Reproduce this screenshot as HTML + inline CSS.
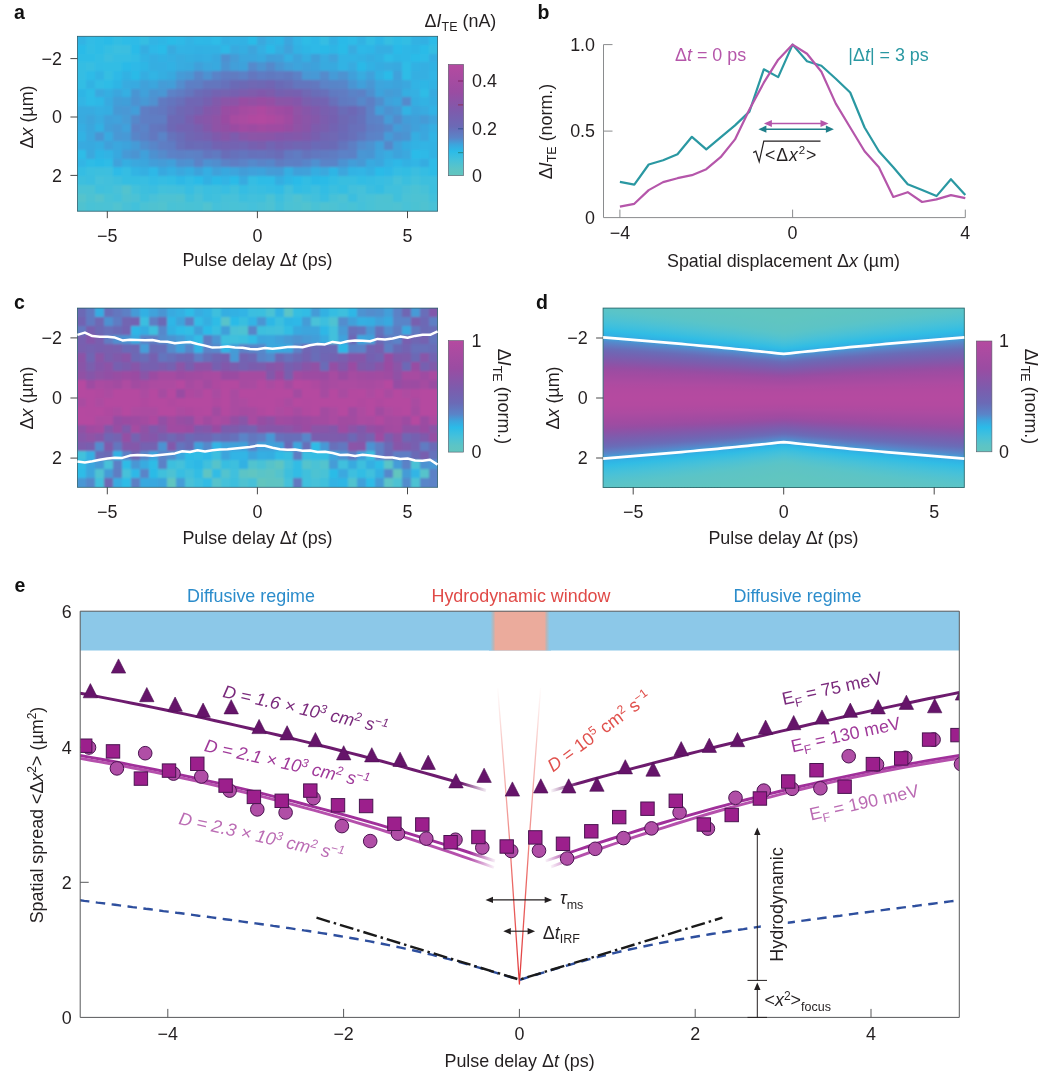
<!DOCTYPE html><html><head><meta charset="utf-8"><title>Figure</title>
<style>html,body{margin:0;padding:0;background:#fff}svg{display:block}text{font-family:"Liberation Sans", Arial, Helvetica, sans-serif}</style></head><body>
<svg width="1060" height="1081" viewBox="0 0 1060 1081">
<defs><linearGradient id="cm" x1="0" y1="1" x2="0" y2="0"><stop offset="0.00" stop-color="#62c5be"/><stop offset="0.06" stop-color="#5cc4c6"/><stop offset="0.14" stop-color="#45c1da"/><stop offset="0.22" stop-color="#2bbbe8"/><stop offset="0.28" stop-color="#3ca5dd"/><stop offset="0.34" stop-color="#5a84c8"/><stop offset="0.44" stop-color="#6b6ab6"/><stop offset="0.57" stop-color="#7c5cad"/><stop offset="0.75" stop-color="#9a4ca2"/><stop offset="1.00" stop-color="#b54aa0"/></linearGradient>
<filter id="blur" x="-5%" y="-5%" width="110%" height="110%"><feGaussianBlur stdDeviation="1.1"/></filter>
<linearGradient id="fadeL" x1="0" x2="1"><stop offset="0" stop-color="#6b1a6b" stop-opacity="1"/><stop offset="1" stop-color="#6b1a6b" stop-opacity="0"/></linearGradient>
</defs>
<rect width="1060" height="1081" fill="#fff"/>
<clipPath id="hc1"><rect x="77.40" y="36.30" width="360.20" height="174.90"/></clipPath><g clip-path="url(#hc1)"><g filter="url(#blur)"><g shape-rendering="crispEdges"><rect x="73.35" y="32.25" width="13.60" height="13.35" fill="#31b4e4"/><rect x="86.36" y="32.25" width="9.60" height="13.35" fill="#31bce5"/><rect x="95.36" y="32.25" width="9.60" height="13.35" fill="#2fbce6"/><rect x="104.37" y="32.25" width="9.60" height="13.35" fill="#2cbbe7"/><rect x="113.37" y="32.25" width="9.60" height="13.35" fill="#33bde4"/><rect x="122.38" y="32.25" width="9.60" height="13.35" fill="#2dbce7"/><rect x="131.38" y="32.25" width="9.60" height="13.35" fill="#2dbbe7"/><rect x="140.38" y="32.25" width="9.60" height="13.35" fill="#36bde2"/><rect x="149.39" y="32.25" width="9.60" height="13.35" fill="#31b4e4"/><rect x="158.39" y="32.25" width="9.60" height="13.35" fill="#2fb6e5"/><rect x="167.40" y="32.25" width="9.60" height="13.35" fill="#2cbbe7"/><rect x="176.40" y="32.25" width="9.60" height="13.35" fill="#2db9e7"/><rect x="185.41" y="32.25" width="9.60" height="13.35" fill="#31b3e4"/><rect x="194.41" y="32.25" width="9.60" height="13.35" fill="#2eb8e6"/><rect x="203.42" y="32.25" width="9.60" height="13.35" fill="#2eb7e6"/><rect x="212.42" y="32.25" width="9.60" height="13.35" fill="#2ebce7"/><rect x="221.43" y="32.25" width="9.60" height="13.35" fill="#33b0e3"/><rect x="230.43" y="32.25" width="9.60" height="13.35" fill="#32b2e4"/><rect x="239.44" y="32.25" width="9.60" height="13.35" fill="#33b1e3"/><rect x="248.44" y="32.25" width="9.60" height="13.35" fill="#2cbbe7"/><rect x="257.45" y="32.25" width="9.60" height="13.35" fill="#3aa8de"/><rect x="266.45" y="32.25" width="9.60" height="13.35" fill="#32b2e3"/><rect x="275.46" y="32.25" width="9.60" height="13.35" fill="#2fb6e5"/><rect x="284.46" y="32.25" width="9.60" height="13.35" fill="#3ba6de"/><rect x="293.47" y="32.25" width="9.60" height="13.35" fill="#30b4e5"/><rect x="302.47" y="32.25" width="9.60" height="13.35" fill="#2ebce6"/><rect x="311.48" y="32.25" width="9.60" height="13.35" fill="#2db8e7"/><rect x="320.48" y="32.25" width="9.60" height="13.35" fill="#34bde3"/><rect x="329.49" y="32.25" width="9.60" height="13.35" fill="#33b0e3"/><rect x="338.49" y="32.25" width="9.60" height="13.35" fill="#2cbae8"/><rect x="347.50" y="32.25" width="9.60" height="13.35" fill="#2dbbe7"/><rect x="356.50" y="32.25" width="9.60" height="13.35" fill="#32b2e3"/><rect x="365.51" y="32.25" width="9.60" height="13.35" fill="#33bde4"/><rect x="374.51" y="32.25" width="9.60" height="13.35" fill="#2fb6e6"/><rect x="383.52" y="32.25" width="9.60" height="13.35" fill="#36bee2"/><rect x="392.52" y="32.25" width="9.60" height="13.35" fill="#2fbce6"/><rect x="401.53" y="32.25" width="9.60" height="13.35" fill="#32bde4"/><rect x="410.53" y="32.25" width="9.60" height="13.35" fill="#32b2e3"/><rect x="419.54" y="32.25" width="9.60" height="13.35" fill="#33b0e3"/><rect x="428.54" y="32.25" width="13.60" height="13.35" fill="#2ebce7"/><rect x="73.35" y="45.00" width="13.60" height="9.35" fill="#2cbbe8"/><rect x="86.36" y="45.00" width="9.60" height="9.35" fill="#33bde4"/><rect x="95.36" y="45.00" width="9.60" height="9.35" fill="#2ebce6"/><rect x="104.37" y="45.00" width="9.60" height="9.35" fill="#36bee2"/><rect x="113.37" y="45.00" width="9.60" height="9.35" fill="#3bbfe0"/><rect x="122.38" y="45.00" width="9.60" height="9.35" fill="#3abee0"/><rect x="131.38" y="45.00" width="9.60" height="9.35" fill="#2bbbe8"/><rect x="140.38" y="45.00" width="9.60" height="9.35" fill="#36ade1"/><rect x="149.39" y="45.00" width="9.60" height="9.35" fill="#2db8e7"/><rect x="158.39" y="45.00" width="9.60" height="9.35" fill="#2bbbe8"/><rect x="167.40" y="45.00" width="9.60" height="9.35" fill="#39aadf"/><rect x="176.40" y="45.00" width="9.60" height="9.35" fill="#31b3e4"/><rect x="185.41" y="45.00" width="9.60" height="9.35" fill="#32b2e4"/><rect x="194.41" y="45.00" width="9.60" height="9.35" fill="#33b0e3"/><rect x="203.42" y="45.00" width="18.61" height="9.35" fill="#32b1e3"/><rect x="221.43" y="45.00" width="9.60" height="9.35" fill="#2eb8e6"/><rect x="230.43" y="45.00" width="9.60" height="9.35" fill="#38aae0"/><rect x="239.44" y="45.00" width="9.60" height="9.35" fill="#36ade1"/><rect x="248.44" y="45.00" width="9.60" height="9.35" fill="#3da4dc"/><rect x="257.45" y="45.00" width="9.60" height="9.35" fill="#34afe2"/><rect x="266.45" y="45.00" width="9.60" height="9.35" fill="#2cb9e7"/><rect x="275.46" y="45.00" width="9.60" height="9.35" fill="#35aee1"/><rect x="284.46" y="45.00" width="9.60" height="9.35" fill="#3fa2db"/><rect x="293.47" y="45.00" width="9.60" height="9.35" fill="#32b1e3"/><rect x="302.47" y="45.00" width="9.60" height="9.35" fill="#2fb6e5"/><rect x="311.48" y="45.00" width="9.60" height="9.35" fill="#2db9e7"/><rect x="320.48" y="45.00" width="9.60" height="9.35" fill="#2cb9e7"/><rect x="329.49" y="45.00" width="9.60" height="9.35" fill="#2fb5e5"/><rect x="338.49" y="45.00" width="9.60" height="9.35" fill="#2cbbe7"/><rect x="347.50" y="45.00" width="9.60" height="9.35" fill="#37abe0"/><rect x="356.50" y="45.00" width="9.60" height="9.35" fill="#2db8e7"/><rect x="365.51" y="45.00" width="9.60" height="9.35" fill="#2fb6e6"/><rect x="374.51" y="45.00" width="18.61" height="9.35" fill="#35aee2"/><rect x="392.52" y="45.00" width="9.60" height="9.35" fill="#2bbae8"/><rect x="401.53" y="45.00" width="9.60" height="9.35" fill="#2eb7e6"/><rect x="410.53" y="45.00" width="9.60" height="9.35" fill="#2fb5e5"/><rect x="419.54" y="45.00" width="9.60" height="9.35" fill="#2cbbe8"/><rect x="428.54" y="45.00" width="13.60" height="9.35" fill="#35bde2"/><rect x="73.35" y="53.74" width="22.61" height="9.35" fill="#2fbce6"/><rect x="95.36" y="53.74" width="9.60" height="9.35" fill="#32bde4"/><rect x="104.37" y="53.74" width="9.60" height="9.35" fill="#3abee0"/><rect x="113.37" y="53.74" width="18.61" height="9.35" fill="#34bde3"/><rect x="131.38" y="53.74" width="9.60" height="9.35" fill="#30bce5"/><rect x="140.38" y="53.74" width="9.60" height="9.35" fill="#31b3e4"/><rect x="149.39" y="53.74" width="9.60" height="9.35" fill="#35aee2"/><rect x="158.39" y="53.74" width="9.60" height="9.35" fill="#33b1e3"/><rect x="167.40" y="53.74" width="9.60" height="9.35" fill="#34afe2"/><rect x="176.40" y="53.74" width="9.60" height="9.35" fill="#37ace0"/><rect x="185.41" y="53.74" width="9.60" height="9.35" fill="#35aee1"/><rect x="194.41" y="53.74" width="9.60" height="9.35" fill="#36ace1"/><rect x="203.42" y="53.74" width="9.60" height="9.35" fill="#35aee2"/><rect x="212.42" y="53.74" width="9.60" height="9.35" fill="#39a8df"/><rect x="221.43" y="53.74" width="9.60" height="9.35" fill="#4f90d0"/><rect x="230.43" y="53.74" width="9.60" height="9.35" fill="#449cd7"/><rect x="239.44" y="53.74" width="9.60" height="9.35" fill="#3ba6dd"/><rect x="248.44" y="53.74" width="9.60" height="9.35" fill="#3ba6de"/><rect x="257.45" y="53.74" width="9.60" height="9.35" fill="#39a9df"/><rect x="266.45" y="53.74" width="9.60" height="9.35" fill="#419fd9"/><rect x="275.46" y="53.74" width="9.60" height="9.35" fill="#40a0da"/><rect x="284.46" y="53.74" width="9.60" height="9.35" fill="#34afe2"/><rect x="293.47" y="53.74" width="9.60" height="9.35" fill="#3da3dc"/><rect x="302.47" y="53.74" width="9.60" height="9.35" fill="#36ade1"/><rect x="311.48" y="53.74" width="9.60" height="9.35" fill="#419fd9"/><rect x="320.48" y="53.74" width="9.60" height="9.35" fill="#37abe0"/><rect x="329.49" y="53.74" width="9.60" height="9.35" fill="#3fa2db"/><rect x="338.49" y="53.74" width="18.61" height="9.35" fill="#31b3e4"/><rect x="356.50" y="53.74" width="9.60" height="9.35" fill="#33b1e3"/><rect x="365.51" y="53.74" width="9.60" height="9.35" fill="#36ade1"/><rect x="374.51" y="53.74" width="9.60" height="9.35" fill="#33b1e3"/><rect x="383.52" y="53.74" width="9.60" height="9.35" fill="#2ebce7"/><rect x="392.52" y="53.74" width="9.60" height="9.35" fill="#2fb6e5"/><rect x="401.53" y="53.74" width="9.60" height="9.35" fill="#2eb7e6"/><rect x="410.53" y="53.74" width="9.60" height="9.35" fill="#2bbbe8"/><rect x="419.54" y="53.74" width="9.60" height="9.35" fill="#2dbbe7"/><rect x="428.54" y="53.74" width="13.60" height="9.35" fill="#35aee2"/><rect x="73.35" y="62.48" width="13.60" height="9.35" fill="#35bde3"/><rect x="86.36" y="62.48" width="9.60" height="9.35" fill="#38bee1"/><rect x="95.36" y="62.48" width="9.60" height="9.35" fill="#30bce5"/><rect x="104.37" y="62.48" width="18.61" height="9.35" fill="#32bde4"/><rect x="122.38" y="62.48" width="9.60" height="9.35" fill="#2bbae8"/><rect x="131.38" y="62.48" width="9.60" height="9.35" fill="#2db9e7"/><rect x="140.38" y="62.48" width="9.60" height="9.35" fill="#2fb6e5"/><rect x="149.39" y="62.48" width="9.60" height="9.35" fill="#35aee1"/><rect x="158.39" y="62.48" width="9.60" height="9.35" fill="#35aee2"/><rect x="167.40" y="62.48" width="9.60" height="9.35" fill="#33b1e3"/><rect x="176.40" y="62.48" width="9.60" height="9.35" fill="#37ace0"/><rect x="185.41" y="62.48" width="9.60" height="9.35" fill="#39aadf"/><rect x="194.41" y="62.48" width="9.60" height="9.35" fill="#41a0da"/><rect x="203.42" y="62.48" width="9.60" height="9.35" fill="#3aa7de"/><rect x="212.42" y="62.48" width="9.60" height="9.35" fill="#39a9df"/><rect x="221.43" y="62.48" width="9.60" height="9.35" fill="#4b94d2"/><rect x="230.43" y="62.48" width="9.60" height="9.35" fill="#429fd9"/><rect x="239.44" y="62.48" width="9.60" height="9.35" fill="#3ea2db"/><rect x="248.44" y="62.48" width="9.60" height="9.35" fill="#558acc"/><rect x="257.45" y="62.48" width="9.60" height="9.35" fill="#4b94d2"/><rect x="266.45" y="62.48" width="9.60" height="9.35" fill="#5589cb"/><rect x="275.46" y="62.48" width="9.60" height="9.35" fill="#4a96d3"/><rect x="284.46" y="62.48" width="9.60" height="9.35" fill="#429fd9"/><rect x="293.47" y="62.48" width="9.60" height="9.35" fill="#3da4dc"/><rect x="302.47" y="62.48" width="9.60" height="9.35" fill="#40a0da"/><rect x="311.48" y="62.48" width="9.60" height="9.35" fill="#3ea2db"/><rect x="320.48" y="62.48" width="9.60" height="9.35" fill="#38aadf"/><rect x="329.49" y="62.48" width="9.60" height="9.35" fill="#39a9df"/><rect x="338.49" y="62.48" width="9.60" height="9.35" fill="#31b3e4"/><rect x="347.50" y="62.48" width="9.60" height="9.35" fill="#37abe0"/><rect x="356.50" y="62.48" width="9.60" height="9.35" fill="#2cb9e7"/><rect x="365.51" y="62.48" width="9.60" height="9.35" fill="#33b1e3"/><rect x="374.51" y="62.48" width="9.60" height="9.35" fill="#36ace1"/><rect x="383.52" y="62.48" width="9.60" height="9.35" fill="#37abe0"/><rect x="392.52" y="62.48" width="9.60" height="9.35" fill="#39a9df"/><rect x="401.53" y="62.48" width="9.60" height="9.35" fill="#2fbce6"/><rect x="410.53" y="62.48" width="9.60" height="9.35" fill="#33b1e3"/><rect x="419.54" y="62.48" width="9.60" height="9.35" fill="#34afe2"/><rect x="428.54" y="62.48" width="13.60" height="9.35" fill="#32b2e3"/><rect x="73.35" y="71.23" width="13.60" height="9.35" fill="#34bde3"/><rect x="86.36" y="71.23" width="9.60" height="9.35" fill="#2dbbe7"/><rect x="95.36" y="71.23" width="9.60" height="9.35" fill="#31b3e4"/><rect x="104.37" y="71.23" width="9.60" height="9.35" fill="#36bee2"/><rect x="113.37" y="71.23" width="9.60" height="9.35" fill="#2db9e7"/><rect x="122.38" y="71.23" width="9.60" height="9.35" fill="#32b1e3"/><rect x="131.38" y="71.23" width="9.60" height="9.35" fill="#2cbae7"/><rect x="140.38" y="71.23" width="9.60" height="9.35" fill="#36ade1"/><rect x="149.39" y="71.23" width="9.60" height="9.35" fill="#31b4e4"/><rect x="158.39" y="71.23" width="9.60" height="9.35" fill="#35aee1"/><rect x="167.40" y="71.23" width="9.60" height="9.35" fill="#39a9df"/><rect x="176.40" y="71.23" width="9.60" height="9.35" fill="#459bd7"/><rect x="185.41" y="71.23" width="9.60" height="9.35" fill="#4997d4"/><rect x="194.41" y="71.23" width="9.60" height="9.35" fill="#5886c9"/><rect x="203.42" y="71.23" width="9.60" height="9.35" fill="#4e92d1"/><rect x="212.42" y="71.23" width="9.60" height="9.35" fill="#5a83c8"/><rect x="221.43" y="71.23" width="9.60" height="9.35" fill="#607bc2"/><rect x="230.43" y="71.23" width="9.60" height="9.35" fill="#607bc1"/><rect x="239.44" y="71.23" width="9.60" height="9.35" fill="#5c81c6"/><rect x="248.44" y="71.23" width="9.60" height="9.35" fill="#6377bf"/><rect x="257.45" y="71.23" width="9.60" height="9.35" fill="#5f7cc3"/><rect x="266.45" y="71.23" width="9.60" height="9.35" fill="#6179c0"/><rect x="275.46" y="71.23" width="9.60" height="9.35" fill="#607bc2"/><rect x="284.46" y="71.23" width="9.60" height="9.35" fill="#6179c0"/><rect x="293.47" y="71.23" width="9.60" height="9.35" fill="#5c81c6"/><rect x="302.47" y="71.23" width="9.60" height="9.35" fill="#4898d4"/><rect x="311.48" y="71.23" width="9.60" height="9.35" fill="#4799d6"/><rect x="320.48" y="71.23" width="9.60" height="9.35" fill="#548bcc"/><rect x="329.49" y="71.23" width="9.60" height="9.35" fill="#459bd7"/><rect x="338.49" y="71.23" width="9.60" height="9.35" fill="#4d93d1"/><rect x="347.50" y="71.23" width="9.60" height="9.35" fill="#40a0da"/><rect x="356.50" y="71.23" width="9.60" height="9.35" fill="#37ace0"/><rect x="365.51" y="71.23" width="9.60" height="9.35" fill="#40a1db"/><rect x="374.51" y="71.23" width="9.60" height="9.35" fill="#32b1e3"/><rect x="383.52" y="71.23" width="9.60" height="9.35" fill="#2cbbe8"/><rect x="392.52" y="71.23" width="9.60" height="9.35" fill="#3fa1db"/><rect x="401.53" y="71.23" width="9.60" height="9.35" fill="#2ebce6"/><rect x="410.53" y="71.23" width="9.60" height="9.35" fill="#34afe2"/><rect x="419.54" y="71.23" width="9.60" height="9.35" fill="#35afe2"/><rect x="428.54" y="71.23" width="13.60" height="9.35" fill="#30b5e5"/><rect x="73.35" y="79.98" width="13.60" height="9.35" fill="#33bde4"/><rect x="86.36" y="79.98" width="9.60" height="9.35" fill="#32b2e3"/><rect x="95.36" y="79.98" width="9.60" height="9.35" fill="#30bce5"/><rect x="104.37" y="79.98" width="9.60" height="9.35" fill="#2ebce6"/><rect x="113.37" y="79.98" width="9.60" height="9.35" fill="#2fb5e5"/><rect x="122.38" y="79.98" width="9.60" height="9.35" fill="#38abe0"/><rect x="131.38" y="79.98" width="9.60" height="9.35" fill="#38aae0"/><rect x="140.38" y="79.98" width="9.60" height="9.35" fill="#40a1da"/><rect x="149.39" y="79.98" width="9.60" height="9.35" fill="#3ba6dd"/><rect x="158.39" y="79.98" width="9.60" height="9.35" fill="#449cd7"/><rect x="167.40" y="79.98" width="9.60" height="9.35" fill="#439ed8"/><rect x="176.40" y="79.98" width="9.60" height="9.35" fill="#528dce"/><rect x="185.41" y="79.98" width="9.60" height="9.35" fill="#5d7fc5"/><rect x="194.41" y="79.98" width="9.60" height="9.35" fill="#5d7fc4"/><rect x="203.42" y="79.98" width="18.61" height="9.35" fill="#6376be"/><rect x="221.43" y="79.98" width="9.60" height="9.35" fill="#6671bb"/><rect x="230.43" y="79.98" width="9.60" height="9.35" fill="#6b6ab6"/><rect x="239.44" y="79.98" width="9.60" height="9.35" fill="#6c69b5"/><rect x="248.44" y="79.98" width="9.60" height="9.35" fill="#6f67b4"/><rect x="257.45" y="79.98" width="9.60" height="9.35" fill="#6e67b4"/><rect x="266.45" y="79.98" width="9.60" height="9.35" fill="#7165b3"/><rect x="275.46" y="79.98" width="9.60" height="9.35" fill="#6b6ab6"/><rect x="284.46" y="79.98" width="9.60" height="9.35" fill="#696eb8"/><rect x="293.47" y="79.98" width="18.61" height="9.35" fill="#6376be"/><rect x="311.48" y="79.98" width="9.60" height="9.35" fill="#6278bf"/><rect x="320.48" y="79.98" width="9.60" height="9.35" fill="#5b83c7"/><rect x="329.49" y="79.98" width="9.60" height="9.35" fill="#5985c8"/><rect x="338.49" y="79.98" width="9.60" height="9.35" fill="#5986c9"/><rect x="347.50" y="79.98" width="9.60" height="9.35" fill="#4a95d3"/><rect x="356.50" y="79.98" width="9.60" height="9.35" fill="#40a0da"/><rect x="365.51" y="79.98" width="9.60" height="9.35" fill="#4897d4"/><rect x="374.51" y="79.98" width="9.60" height="9.35" fill="#3ca5dd"/><rect x="383.52" y="79.98" width="9.60" height="9.35" fill="#3ba6de"/><rect x="392.52" y="79.98" width="9.60" height="9.35" fill="#3da3dc"/><rect x="401.53" y="79.98" width="9.60" height="9.35" fill="#3ba7de"/><rect x="410.53" y="79.98" width="9.60" height="9.35" fill="#32b3e4"/><rect x="419.54" y="79.98" width="9.60" height="9.35" fill="#2fb6e5"/><rect x="428.54" y="79.98" width="13.60" height="9.35" fill="#32b2e3"/><rect x="73.35" y="88.72" width="13.60" height="9.35" fill="#2fb5e5"/><rect x="86.36" y="88.72" width="9.60" height="9.35" fill="#2fbce6"/><rect x="95.36" y="88.72" width="9.60" height="9.35" fill="#3aa8df"/><rect x="104.37" y="88.72" width="9.60" height="9.35" fill="#35aee1"/><rect x="113.37" y="88.72" width="9.60" height="9.35" fill="#3ba6de"/><rect x="122.38" y="88.72" width="9.60" height="9.35" fill="#34afe2"/><rect x="131.38" y="88.72" width="9.60" height="9.35" fill="#4a95d3"/><rect x="140.38" y="88.72" width="9.60" height="9.35" fill="#40a1da"/><rect x="149.39" y="88.72" width="9.60" height="9.35" fill="#4c94d2"/><rect x="158.39" y="88.72" width="9.60" height="9.35" fill="#4997d4"/><rect x="167.40" y="88.72" width="9.60" height="9.35" fill="#5b82c7"/><rect x="176.40" y="88.72" width="9.60" height="9.35" fill="#5f7dc3"/><rect x="185.41" y="88.72" width="9.60" height="9.35" fill="#6376be"/><rect x="194.41" y="88.72" width="9.60" height="9.35" fill="#6a6cb7"/><rect x="203.42" y="88.72" width="9.60" height="9.35" fill="#6d68b5"/><rect x="212.42" y="88.72" width="9.60" height="9.35" fill="#7363b2"/><rect x="221.43" y="88.72" width="9.60" height="9.35" fill="#7463b1"/><rect x="230.43" y="88.72" width="9.60" height="9.35" fill="#7661b0"/><rect x="239.44" y="88.72" width="9.60" height="9.35" fill="#7b5dae"/><rect x="248.44" y="88.72" width="9.60" height="9.35" fill="#7f5bac"/><rect x="257.45" y="88.72" width="9.60" height="9.35" fill="#8159ab"/><rect x="266.45" y="88.72" width="9.60" height="9.35" fill="#7e5bac"/><rect x="275.46" y="88.72" width="9.60" height="9.35" fill="#7561b0"/><rect x="284.46" y="88.72" width="9.60" height="9.35" fill="#7760af"/><rect x="293.47" y="88.72" width="9.60" height="9.35" fill="#7661b0"/><rect x="302.47" y="88.72" width="9.60" height="9.35" fill="#6f67b4"/><rect x="311.48" y="88.72" width="9.60" height="9.35" fill="#696db8"/><rect x="320.48" y="88.72" width="9.60" height="9.35" fill="#6770ba"/><rect x="329.49" y="88.72" width="9.60" height="9.35" fill="#607ac1"/><rect x="338.49" y="88.72" width="9.60" height="9.35" fill="#607bc2"/><rect x="347.50" y="88.72" width="9.60" height="9.35" fill="#5a83c7"/><rect x="356.50" y="88.72" width="9.60" height="9.35" fill="#5c81c6"/><rect x="365.51" y="88.72" width="9.60" height="9.35" fill="#508fcf"/><rect x="374.51" y="88.72" width="9.60" height="9.35" fill="#3ea3dc"/><rect x="383.52" y="88.72" width="9.60" height="9.35" fill="#449cd7"/><rect x="392.52" y="88.72" width="9.60" height="9.35" fill="#429ed9"/><rect x="401.53" y="88.72" width="9.60" height="9.35" fill="#35aee1"/><rect x="410.53" y="88.72" width="9.60" height="9.35" fill="#34b0e2"/><rect x="419.54" y="88.72" width="9.60" height="9.35" fill="#2ebce6"/><rect x="428.54" y="88.72" width="13.60" height="9.35" fill="#37abe0"/><rect x="73.35" y="97.47" width="13.60" height="9.35" fill="#30b5e5"/><rect x="86.36" y="97.47" width="9.60" height="9.35" fill="#2dbbe7"/><rect x="95.36" y="97.47" width="9.60" height="9.35" fill="#2eb8e6"/><rect x="104.37" y="97.47" width="9.60" height="9.35" fill="#38aae0"/><rect x="113.37" y="97.47" width="9.60" height="9.35" fill="#439ed8"/><rect x="122.38" y="97.47" width="9.60" height="9.35" fill="#419fd9"/><rect x="131.38" y="97.47" width="9.60" height="9.35" fill="#4d92d1"/><rect x="140.38" y="97.47" width="9.60" height="9.35" fill="#4799d5"/><rect x="149.39" y="97.47" width="9.60" height="9.35" fill="#4f91d0"/><rect x="158.39" y="97.47" width="9.60" height="9.35" fill="#617ac1"/><rect x="167.40" y="97.47" width="9.60" height="9.35" fill="#6475be"/><rect x="176.40" y="97.47" width="9.60" height="9.35" fill="#6770ba"/><rect x="185.41" y="97.47" width="9.60" height="9.35" fill="#7066b4"/><rect x="194.41" y="97.47" width="9.60" height="9.35" fill="#6f66b4"/><rect x="203.42" y="97.47" width="9.60" height="9.35" fill="#7661b0"/><rect x="212.42" y="97.47" width="9.60" height="9.35" fill="#815aab"/><rect x="221.43" y="97.47" width="9.60" height="9.35" fill="#8b54a8"/><rect x="230.43" y="97.47" width="9.60" height="9.35" fill="#8d53a7"/><rect x="239.44" y="97.47" width="9.60" height="9.35" fill="#984da3"/><rect x="248.44" y="97.47" width="9.60" height="9.35" fill="#954fa4"/><rect x="257.45" y="97.47" width="9.60" height="9.35" fill="#994da3"/><rect x="266.45" y="97.47" width="9.60" height="9.35" fill="#954fa4"/><rect x="275.46" y="97.47" width="9.60" height="9.35" fill="#8b54a7"/><rect x="284.46" y="97.47" width="9.60" height="9.35" fill="#8a54a8"/><rect x="293.47" y="97.47" width="9.60" height="9.35" fill="#8557aa"/><rect x="302.47" y="97.47" width="9.60" height="9.35" fill="#7a5eae"/><rect x="311.48" y="97.47" width="9.60" height="9.35" fill="#7562b1"/><rect x="320.48" y="97.47" width="9.60" height="9.35" fill="#7364b2"/><rect x="329.49" y="97.47" width="9.60" height="9.35" fill="#6770ba"/><rect x="338.49" y="97.47" width="9.60" height="9.35" fill="#617ac1"/><rect x="347.50" y="97.47" width="9.60" height="9.35" fill="#5f7dc3"/><rect x="356.50" y="97.47" width="9.60" height="9.35" fill="#5788ca"/><rect x="365.51" y="97.47" width="9.60" height="9.35" fill="#5d7fc5"/><rect x="374.51" y="97.47" width="9.60" height="9.35" fill="#518ece"/><rect x="383.52" y="97.47" width="9.60" height="9.35" fill="#3fa2db"/><rect x="392.52" y="97.47" width="9.60" height="9.35" fill="#3ba6dd"/><rect x="401.53" y="97.47" width="9.60" height="9.35" fill="#558acc"/><rect x="410.53" y="97.47" width="9.60" height="9.35" fill="#35ade1"/><rect x="419.54" y="97.47" width="9.60" height="9.35" fill="#32b2e3"/><rect x="428.54" y="97.47" width="13.60" height="9.35" fill="#36ade1"/><rect x="73.35" y="106.21" width="22.61" height="9.35" fill="#37abe0"/><rect x="95.36" y="106.21" width="9.60" height="9.35" fill="#34afe2"/><rect x="104.37" y="106.21" width="9.60" height="9.35" fill="#36ade1"/><rect x="113.37" y="106.21" width="9.60" height="9.35" fill="#4799d5"/><rect x="122.38" y="106.21" width="9.60" height="9.35" fill="#4898d5"/><rect x="131.38" y="106.21" width="9.60" height="9.35" fill="#429ed9"/><rect x="140.38" y="106.21" width="9.60" height="9.35" fill="#5e7ec4"/><rect x="149.39" y="106.21" width="9.60" height="9.35" fill="#617ac1"/><rect x="158.39" y="106.21" width="9.60" height="9.35" fill="#6278c0"/><rect x="167.40" y="106.21" width="9.60" height="9.35" fill="#6770ba"/><rect x="176.40" y="106.21" width="9.60" height="9.35" fill="#6e67b4"/><rect x="185.41" y="106.21" width="9.60" height="9.35" fill="#7265b3"/><rect x="194.41" y="106.21" width="9.60" height="9.35" fill="#7661b0"/><rect x="203.42" y="106.21" width="9.60" height="9.35" fill="#8358aa"/><rect x="212.42" y="106.21" width="9.60" height="9.35" fill="#8856a9"/><rect x="221.43" y="106.21" width="9.60" height="9.35" fill="#994da3"/><rect x="230.43" y="106.21" width="9.60" height="9.35" fill="#9d4ca2"/><rect x="239.44" y="106.21" width="9.60" height="9.35" fill="#a54ba1"/><rect x="248.44" y="106.21" width="9.60" height="9.35" fill="#a94ba1"/><rect x="257.45" y="106.21" width="9.60" height="9.35" fill="#ae4aa0"/><rect x="266.45" y="106.21" width="9.60" height="9.35" fill="#a64ba1"/><rect x="275.46" y="106.21" width="9.60" height="9.35" fill="#a04ca2"/><rect x="284.46" y="106.21" width="9.60" height="9.35" fill="#9b4ca2"/><rect x="293.47" y="106.21" width="9.60" height="9.35" fill="#9052a6"/><rect x="302.47" y="106.21" width="9.60" height="9.35" fill="#8756a9"/><rect x="311.48" y="106.21" width="9.60" height="9.35" fill="#805aac"/><rect x="320.48" y="106.21" width="9.60" height="9.35" fill="#795faf"/><rect x="329.49" y="106.21" width="9.60" height="9.35" fill="#7562b1"/><rect x="338.49" y="106.21" width="9.60" height="9.35" fill="#6a6cb7"/><rect x="347.50" y="106.21" width="9.60" height="9.35" fill="#6d68b5"/><rect x="356.50" y="106.21" width="9.60" height="9.35" fill="#6770ba"/><rect x="365.51" y="106.21" width="9.60" height="9.35" fill="#5c81c6"/><rect x="374.51" y="106.21" width="9.60" height="9.35" fill="#439ed8"/><rect x="383.52" y="106.21" width="9.60" height="9.35" fill="#4d92d1"/><rect x="392.52" y="106.21" width="9.60" height="9.35" fill="#4799d5"/><rect x="401.53" y="106.21" width="9.60" height="9.35" fill="#32b2e3"/><rect x="410.53" y="106.21" width="9.60" height="9.35" fill="#3ba6de"/><rect x="419.54" y="106.21" width="9.60" height="9.35" fill="#37abe0"/><rect x="428.54" y="106.21" width="13.60" height="9.35" fill="#32b2e4"/><rect x="73.35" y="114.96" width="13.60" height="9.35" fill="#38aadf"/><rect x="86.36" y="114.96" width="9.60" height="9.35" fill="#3da4dc"/><rect x="95.36" y="114.96" width="9.60" height="9.35" fill="#38abe0"/><rect x="104.37" y="114.96" width="9.60" height="9.35" fill="#40a0da"/><rect x="113.37" y="114.96" width="9.60" height="9.35" fill="#3fa2db"/><rect x="122.38" y="114.96" width="9.60" height="9.35" fill="#469bd6"/><rect x="131.38" y="114.96" width="9.60" height="9.35" fill="#5688ca"/><rect x="140.38" y="114.96" width="9.60" height="9.35" fill="#5e7ec4"/><rect x="149.39" y="114.96" width="18.61" height="9.35" fill="#5f7dc3"/><rect x="167.40" y="114.96" width="9.60" height="9.35" fill="#6d69b5"/><rect x="176.40" y="114.96" width="9.60" height="9.35" fill="#6d68b5"/><rect x="185.41" y="114.96" width="9.60" height="9.35" fill="#7760b0"/><rect x="194.41" y="114.96" width="9.60" height="9.35" fill="#8358aa"/><rect x="203.42" y="114.96" width="9.60" height="9.35" fill="#8856a9"/><rect x="212.42" y="114.96" width="9.60" height="9.35" fill="#8f52a6"/><rect x="221.43" y="114.96" width="9.60" height="9.35" fill="#9a4ca2"/><rect x="230.43" y="114.96" width="9.60" height="9.35" fill="#a74ba1"/><rect x="239.44" y="114.96" width="9.60" height="9.35" fill="#ab4ba1"/><rect x="248.44" y="114.96" width="9.60" height="9.35" fill="#b14aa0"/><rect x="257.45" y="114.96" width="9.60" height="9.35" fill="#b34aa0"/><rect x="266.45" y="114.96" width="9.60" height="9.35" fill="#af4aa0"/><rect x="275.46" y="114.96" width="9.60" height="9.35" fill="#a94ba1"/><rect x="284.46" y="114.96" width="9.60" height="9.35" fill="#a04ca2"/><rect x="293.47" y="114.96" width="9.60" height="9.35" fill="#9151a5"/><rect x="302.47" y="114.96" width="9.60" height="9.35" fill="#8b54a8"/><rect x="311.48" y="114.96" width="9.60" height="9.35" fill="#8458aa"/><rect x="320.48" y="114.96" width="9.60" height="9.35" fill="#7b5dae"/><rect x="329.49" y="114.96" width="9.60" height="9.35" fill="#7561b0"/><rect x="338.49" y="114.96" width="9.60" height="9.35" fill="#6e67b4"/><rect x="347.50" y="114.96" width="9.60" height="9.35" fill="#6a6cb7"/><rect x="356.50" y="114.96" width="9.60" height="9.35" fill="#6671bb"/><rect x="365.51" y="114.96" width="9.60" height="9.35" fill="#5c81c6"/><rect x="374.51" y="114.96" width="9.60" height="9.35" fill="#5a84c8"/><rect x="383.52" y="114.96" width="9.60" height="9.35" fill="#449cd7"/><rect x="392.52" y="114.96" width="9.60" height="9.35" fill="#538ccd"/><rect x="401.53" y="114.96" width="9.60" height="9.35" fill="#439dd8"/><rect x="410.53" y="114.96" width="9.60" height="9.35" fill="#41a0da"/><rect x="419.54" y="114.96" width="9.60" height="9.35" fill="#459bd7"/><rect x="428.54" y="114.96" width="13.60" height="9.35" fill="#3ca5dd"/><rect x="73.35" y="123.70" width="13.60" height="9.35" fill="#35aee2"/><rect x="86.36" y="123.70" width="9.60" height="9.35" fill="#3ba6dd"/><rect x="95.36" y="123.70" width="9.60" height="9.35" fill="#33b1e3"/><rect x="104.37" y="123.70" width="9.60" height="9.35" fill="#429ed8"/><rect x="113.37" y="123.70" width="9.60" height="9.35" fill="#4799d6"/><rect x="122.38" y="123.70" width="9.60" height="9.35" fill="#3fa2db"/><rect x="131.38" y="123.70" width="9.60" height="9.35" fill="#5d80c5"/><rect x="140.38" y="123.70" width="9.60" height="9.35" fill="#5a84c8"/><rect x="149.39" y="123.70" width="9.60" height="9.35" fill="#6377bf"/><rect x="158.39" y="123.70" width="9.60" height="9.35" fill="#6474bd"/><rect x="167.40" y="123.70" width="9.60" height="9.35" fill="#6d68b5"/><rect x="176.40" y="123.70" width="18.61" height="9.35" fill="#7363b2"/><rect x="194.41" y="123.70" width="9.60" height="9.35" fill="#785faf"/><rect x="203.42" y="123.70" width="9.60" height="9.35" fill="#8358aa"/><rect x="212.42" y="123.70" width="9.60" height="9.35" fill="#8f52a6"/><rect x="221.43" y="123.70" width="9.60" height="9.35" fill="#9350a4"/><rect x="230.43" y="123.70" width="9.60" height="9.35" fill="#9a4ca2"/><rect x="239.44" y="123.70" width="9.60" height="9.35" fill="#a14ca2"/><rect x="248.44" y="123.70" width="9.60" height="9.35" fill="#9d4ca2"/><rect x="257.45" y="123.70" width="9.60" height="9.35" fill="#a24ba1"/><rect x="266.45" y="123.70" width="18.61" height="9.35" fill="#9f4ca2"/><rect x="284.46" y="123.70" width="9.60" height="9.35" fill="#984da3"/><rect x="293.47" y="123.70" width="9.60" height="9.35" fill="#8f52a6"/><rect x="302.47" y="123.70" width="9.60" height="9.35" fill="#8955a8"/><rect x="311.48" y="123.70" width="9.60" height="9.35" fill="#7d5cad"/><rect x="320.48" y="123.70" width="9.60" height="9.35" fill="#7a5eae"/><rect x="329.49" y="123.70" width="9.60" height="9.35" fill="#7264b2"/><rect x="338.49" y="123.70" width="9.60" height="9.35" fill="#6d68b5"/><rect x="347.50" y="123.70" width="9.60" height="9.35" fill="#6770ba"/><rect x="356.50" y="123.70" width="9.60" height="9.35" fill="#6771bb"/><rect x="365.51" y="123.70" width="9.60" height="9.35" fill="#5f7dc3"/><rect x="374.51" y="123.70" width="9.60" height="9.35" fill="#5d80c5"/><rect x="383.52" y="123.70" width="9.60" height="9.35" fill="#5787ca"/><rect x="392.52" y="123.70" width="9.60" height="9.35" fill="#439dd8"/><rect x="401.53" y="123.70" width="9.60" height="9.35" fill="#4898d5"/><rect x="410.53" y="123.70" width="9.60" height="9.35" fill="#40a1da"/><rect x="419.54" y="123.70" width="9.60" height="9.35" fill="#3ba6de"/><rect x="428.54" y="123.70" width="13.60" height="9.35" fill="#35afe2"/><rect x="73.35" y="132.44" width="13.60" height="9.35" fill="#32b2e3"/><rect x="86.36" y="132.44" width="9.60" height="9.35" fill="#3ba7de"/><rect x="95.36" y="132.44" width="9.60" height="9.35" fill="#4b95d3"/><rect x="104.37" y="132.44" width="9.60" height="9.35" fill="#38aae0"/><rect x="113.37" y="132.44" width="9.60" height="9.35" fill="#4898d5"/><rect x="122.38" y="132.44" width="9.60" height="9.35" fill="#4799d6"/><rect x="131.38" y="132.44" width="9.60" height="9.35" fill="#5985c8"/><rect x="140.38" y="132.44" width="9.60" height="9.35" fill="#5c81c6"/><rect x="149.39" y="132.44" width="9.60" height="9.35" fill="#6278c0"/><rect x="158.39" y="132.44" width="9.60" height="9.35" fill="#5a84c8"/><rect x="167.40" y="132.44" width="9.60" height="9.35" fill="#6573bc"/><rect x="176.40" y="132.44" width="9.60" height="9.35" fill="#696db8"/><rect x="185.41" y="132.44" width="9.60" height="9.35" fill="#7066b3"/><rect x="194.41" y="132.44" width="9.60" height="9.35" fill="#7364b2"/><rect x="203.42" y="132.44" width="9.60" height="9.35" fill="#7760b0"/><rect x="212.42" y="132.44" width="9.60" height="9.35" fill="#7f5aac"/><rect x="221.43" y="132.44" width="9.60" height="9.35" fill="#8756a9"/><rect x="230.43" y="132.44" width="9.60" height="9.35" fill="#7d5bad"/><rect x="239.44" y="132.44" width="9.60" height="9.35" fill="#8856a9"/><rect x="248.44" y="132.44" width="9.60" height="9.35" fill="#8c54a7"/><rect x="257.45" y="132.44" width="9.60" height="9.35" fill="#8b54a7"/><rect x="266.45" y="132.44" width="9.60" height="9.35" fill="#8a55a8"/><rect x="275.46" y="132.44" width="9.60" height="9.35" fill="#8557aa"/><rect x="284.46" y="132.44" width="9.60" height="9.35" fill="#8259ab"/><rect x="293.47" y="132.44" width="9.60" height="9.35" fill="#8358aa"/><rect x="302.47" y="132.44" width="9.60" height="9.35" fill="#7f5aac"/><rect x="311.48" y="132.44" width="9.60" height="9.35" fill="#785faf"/><rect x="320.48" y="132.44" width="9.60" height="9.35" fill="#7165b3"/><rect x="329.49" y="132.44" width="9.60" height="9.35" fill="#6f67b4"/><rect x="338.49" y="132.44" width="9.60" height="9.35" fill="#6a6bb7"/><rect x="347.50" y="132.44" width="9.60" height="9.35" fill="#676fba"/><rect x="356.50" y="132.44" width="9.60" height="9.35" fill="#6278c0"/><rect x="365.51" y="132.44" width="9.60" height="9.35" fill="#5b82c7"/><rect x="374.51" y="132.44" width="9.60" height="9.35" fill="#5a84c8"/><rect x="383.52" y="132.44" width="9.60" height="9.35" fill="#459bd7"/><rect x="392.52" y="132.44" width="9.60" height="9.35" fill="#4f90d0"/><rect x="401.53" y="132.44" width="9.60" height="9.35" fill="#4b94d2"/><rect x="410.53" y="132.44" width="9.60" height="9.35" fill="#35aee1"/><rect x="419.54" y="132.44" width="9.60" height="9.35" fill="#3aa7de"/><rect x="428.54" y="132.44" width="13.60" height="9.35" fill="#31b4e4"/><rect x="73.35" y="141.19" width="13.60" height="9.35" fill="#38aae0"/><rect x="86.36" y="141.19" width="9.60" height="9.35" fill="#39a9df"/><rect x="95.36" y="141.19" width="9.60" height="9.35" fill="#36ade1"/><rect x="104.37" y="141.19" width="9.60" height="9.35" fill="#41a0da"/><rect x="113.37" y="141.19" width="9.60" height="9.35" fill="#3aa7de"/><rect x="122.38" y="141.19" width="9.60" height="9.35" fill="#3ea3dc"/><rect x="131.38" y="141.19" width="9.60" height="9.35" fill="#459bd7"/><rect x="140.38" y="141.19" width="9.60" height="9.35" fill="#518ece"/><rect x="149.39" y="141.19" width="9.60" height="9.35" fill="#5886c9"/><rect x="158.39" y="141.19" width="9.60" height="9.35" fill="#5e7ec4"/><rect x="167.40" y="141.19" width="9.60" height="9.35" fill="#5f7cc3"/><rect x="176.40" y="141.19" width="9.60" height="9.35" fill="#6770ba"/><rect x="185.41" y="141.19" width="9.60" height="9.35" fill="#6b6ab6"/><rect x="194.41" y="141.19" width="9.60" height="9.35" fill="#6a6cb7"/><rect x="203.42" y="141.19" width="9.60" height="9.35" fill="#6a6bb7"/><rect x="212.42" y="141.19" width="9.60" height="9.35" fill="#7264b2"/><rect x="221.43" y="141.19" width="9.60" height="9.35" fill="#7562b1"/><rect x="230.43" y="141.19" width="9.60" height="9.35" fill="#7363b2"/><rect x="239.44" y="141.19" width="9.60" height="9.35" fill="#7265b3"/><rect x="248.44" y="141.19" width="9.60" height="9.35" fill="#7661b0"/><rect x="257.45" y="141.19" width="9.60" height="9.35" fill="#795eae"/><rect x="266.45" y="141.19" width="9.60" height="9.35" fill="#7165b3"/><rect x="275.46" y="141.19" width="9.60" height="9.35" fill="#7661b0"/><rect x="284.46" y="141.19" width="9.60" height="9.35" fill="#7363b2"/><rect x="293.47" y="141.19" width="9.60" height="9.35" fill="#7066b3"/><rect x="302.47" y="141.19" width="9.60" height="9.35" fill="#7165b3"/><rect x="311.48" y="141.19" width="9.60" height="9.35" fill="#6a6bb7"/><rect x="320.48" y="141.19" width="9.60" height="9.35" fill="#6c69b6"/><rect x="329.49" y="141.19" width="9.60" height="9.35" fill="#6b6ab6"/><rect x="338.49" y="141.19" width="9.60" height="9.35" fill="#6474bd"/><rect x="347.50" y="141.19" width="9.60" height="9.35" fill="#5d7fc4"/><rect x="356.50" y="141.19" width="9.60" height="9.35" fill="#528dce"/><rect x="365.51" y="141.19" width="9.60" height="9.35" fill="#4d93d1"/><rect x="374.51" y="141.19" width="9.60" height="9.35" fill="#3fa2db"/><rect x="383.52" y="141.19" width="9.60" height="9.35" fill="#5688ca"/><rect x="392.52" y="141.19" width="9.60" height="9.35" fill="#3fa2db"/><rect x="401.53" y="141.19" width="9.60" height="9.35" fill="#36ace1"/><rect x="410.53" y="141.19" width="9.60" height="9.35" fill="#32b2e3"/><rect x="419.54" y="141.19" width="9.60" height="9.35" fill="#31b4e4"/><rect x="428.54" y="141.19" width="13.60" height="9.35" fill="#32b2e3"/><rect x="73.35" y="149.94" width="13.60" height="9.35" fill="#2dbce7"/><rect x="86.36" y="149.94" width="9.60" height="9.35" fill="#3aa8de"/><rect x="95.36" y="149.94" width="9.60" height="9.35" fill="#2fb5e5"/><rect x="104.37" y="149.94" width="9.60" height="9.35" fill="#31b3e4"/><rect x="113.37" y="149.94" width="9.60" height="9.35" fill="#39a8df"/><rect x="122.38" y="149.94" width="9.60" height="9.35" fill="#4799d6"/><rect x="131.38" y="149.94" width="9.60" height="9.35" fill="#4b94d2"/><rect x="140.38" y="149.94" width="9.60" height="9.35" fill="#41a0da"/><rect x="149.39" y="149.94" width="9.60" height="9.35" fill="#4e91d0"/><rect x="158.39" y="149.94" width="9.60" height="9.35" fill="#548bcc"/><rect x="167.40" y="149.94" width="9.60" height="9.35" fill="#5b82c7"/><rect x="176.40" y="149.94" width="9.60" height="9.35" fill="#5d80c5"/><rect x="185.41" y="149.94" width="9.60" height="9.35" fill="#5c82c6"/><rect x="194.41" y="149.94" width="9.60" height="9.35" fill="#5d80c5"/><rect x="203.42" y="149.94" width="9.60" height="9.35" fill="#6376bf"/><rect x="212.42" y="149.94" width="9.60" height="9.35" fill="#607ac1"/><rect x="221.43" y="149.94" width="9.60" height="9.35" fill="#696db8"/><rect x="230.43" y="149.94" width="9.60" height="9.35" fill="#6671bb"/><rect x="239.44" y="149.94" width="9.60" height="9.35" fill="#6475be"/><rect x="248.44" y="149.94" width="9.60" height="9.35" fill="#6671bb"/><rect x="257.45" y="149.94" width="9.60" height="9.35" fill="#6672bc"/><rect x="266.45" y="149.94" width="9.60" height="9.35" fill="#6770ba"/><rect x="275.46" y="149.94" width="9.60" height="9.35" fill="#6a6cb7"/><rect x="284.46" y="149.94" width="9.60" height="9.35" fill="#6278c0"/><rect x="293.47" y="149.94" width="9.60" height="9.35" fill="#607bc2"/><rect x="302.47" y="149.94" width="9.60" height="9.35" fill="#6573bc"/><rect x="311.48" y="149.94" width="9.60" height="9.35" fill="#6278c0"/><rect x="320.48" y="149.94" width="9.60" height="9.35" fill="#617ac1"/><rect x="329.49" y="149.94" width="9.60" height="9.35" fill="#5f7cc2"/><rect x="338.49" y="149.94" width="9.60" height="9.35" fill="#5b82c7"/><rect x="347.50" y="149.94" width="9.60" height="9.35" fill="#5c81c6"/><rect x="356.50" y="149.94" width="9.60" height="9.35" fill="#4997d4"/><rect x="365.51" y="149.94" width="9.60" height="9.35" fill="#4a95d3"/><rect x="374.51" y="149.94" width="9.60" height="9.35" fill="#3ca5dd"/><rect x="383.52" y="149.94" width="9.60" height="9.35" fill="#37ace0"/><rect x="392.52" y="149.94" width="9.60" height="9.35" fill="#3da3dc"/><rect x="401.53" y="149.94" width="9.60" height="9.35" fill="#3aa8de"/><rect x="410.53" y="149.94" width="9.60" height="9.35" fill="#2bbbe8"/><rect x="419.54" y="149.94" width="9.60" height="9.35" fill="#2db9e7"/><rect x="428.54" y="149.94" width="13.60" height="9.35" fill="#32b2e3"/><rect x="73.35" y="158.68" width="13.60" height="9.35" fill="#30b5e5"/><rect x="86.36" y="158.68" width="9.60" height="9.35" fill="#2ebce6"/><rect x="95.36" y="158.68" width="9.60" height="9.35" fill="#2cbae7"/><rect x="104.37" y="158.68" width="9.60" height="9.35" fill="#2fbce6"/><rect x="113.37" y="158.68" width="9.60" height="9.35" fill="#3fa2db"/><rect x="122.38" y="158.68" width="9.60" height="9.35" fill="#35aee1"/><rect x="131.38" y="158.68" width="9.60" height="9.35" fill="#3aa8de"/><rect x="140.38" y="158.68" width="9.60" height="9.35" fill="#3ba6dd"/><rect x="149.39" y="158.68" width="9.60" height="9.35" fill="#429ed9"/><rect x="158.39" y="158.68" width="9.60" height="9.35" fill="#449cd7"/><rect x="167.40" y="158.68" width="9.60" height="9.35" fill="#40a0da"/><rect x="176.40" y="158.68" width="9.60" height="9.35" fill="#4f90d0"/><rect x="185.41" y="158.68" width="9.60" height="9.35" fill="#4d92d1"/><rect x="194.41" y="158.68" width="9.60" height="9.35" fill="#5b83c7"/><rect x="203.42" y="158.68" width="9.60" height="9.35" fill="#4d92d1"/><rect x="212.42" y="158.68" width="9.60" height="9.35" fill="#518ece"/><rect x="221.43" y="158.68" width="9.60" height="9.35" fill="#5b82c6"/><rect x="230.43" y="158.68" width="9.60" height="9.35" fill="#5e7ec4"/><rect x="239.44" y="158.68" width="9.60" height="9.35" fill="#5b83c7"/><rect x="248.44" y="158.68" width="9.60" height="9.35" fill="#558acc"/><rect x="257.45" y="158.68" width="9.60" height="9.35" fill="#5a84c8"/><rect x="266.45" y="158.68" width="9.60" height="9.35" fill="#5787ca"/><rect x="275.46" y="158.68" width="9.60" height="9.35" fill="#607bc1"/><rect x="284.46" y="158.68" width="9.60" height="9.35" fill="#5d80c5"/><rect x="293.47" y="158.68" width="9.60" height="9.35" fill="#5d7fc4"/><rect x="302.47" y="158.68" width="9.60" height="9.35" fill="#5985c9"/><rect x="311.48" y="158.68" width="9.60" height="9.35" fill="#4f91d0"/><rect x="320.48" y="158.68" width="18.61" height="9.35" fill="#5a84c8"/><rect x="338.49" y="158.68" width="9.60" height="9.35" fill="#4c93d2"/><rect x="347.50" y="158.68" width="9.60" height="9.35" fill="#429ed9"/><rect x="356.50" y="158.68" width="9.60" height="9.35" fill="#4799d5"/><rect x="365.51" y="158.68" width="9.60" height="9.35" fill="#38aae0"/><rect x="374.51" y="158.68" width="9.60" height="9.35" fill="#3ba6de"/><rect x="383.52" y="158.68" width="9.60" height="9.35" fill="#31b3e4"/><rect x="392.52" y="158.68" width="9.60" height="9.35" fill="#2db8e7"/><rect x="401.53" y="158.68" width="9.60" height="9.35" fill="#33b1e3"/><rect x="410.53" y="158.68" width="9.60" height="9.35" fill="#30b5e5"/><rect x="419.54" y="158.68" width="9.60" height="9.35" fill="#36ace1"/><rect x="428.54" y="158.68" width="13.60" height="9.35" fill="#2dbbe7"/><rect x="73.35" y="167.43" width="13.60" height="9.35" fill="#35bde3"/><rect x="86.36" y="167.43" width="9.60" height="9.35" fill="#3bbfe0"/><rect x="95.36" y="167.43" width="9.60" height="9.35" fill="#3ebfde"/><rect x="104.37" y="167.43" width="9.60" height="9.35" fill="#3cbfdf"/><rect x="113.37" y="167.43" width="9.60" height="9.35" fill="#2dbbe7"/><rect x="122.38" y="167.43" width="9.60" height="9.35" fill="#34bde3"/><rect x="131.38" y="167.43" width="9.60" height="9.35" fill="#30b4e4"/><rect x="140.38" y="167.43" width="9.60" height="9.35" fill="#34afe2"/><rect x="149.39" y="167.43" width="9.60" height="9.35" fill="#2db8e7"/><rect x="158.39" y="167.43" width="9.60" height="9.35" fill="#39a8df"/><rect x="167.40" y="167.43" width="9.60" height="9.35" fill="#34afe2"/><rect x="176.40" y="167.43" width="9.60" height="9.35" fill="#3ba7de"/><rect x="185.41" y="167.43" width="9.60" height="9.35" fill="#36ade1"/><rect x="194.41" y="167.43" width="9.60" height="9.35" fill="#3ea2db"/><rect x="203.42" y="167.43" width="9.60" height="9.35" fill="#35aee2"/><rect x="212.42" y="167.43" width="9.60" height="9.35" fill="#40a1da"/><rect x="221.43" y="167.43" width="9.60" height="9.35" fill="#39a8df"/><rect x="230.43" y="167.43" width="9.60" height="9.35" fill="#3ca5dd"/><rect x="239.44" y="167.43" width="9.60" height="9.35" fill="#439dd8"/><rect x="248.44" y="167.43" width="9.60" height="9.35" fill="#40a1db"/><rect x="257.45" y="167.43" width="9.60" height="9.35" fill="#3da3dc"/><rect x="266.45" y="167.43" width="9.60" height="9.35" fill="#459cd7"/><rect x="275.46" y="167.43" width="9.60" height="9.35" fill="#459bd7"/><rect x="284.46" y="167.43" width="9.60" height="9.35" fill="#35aee1"/><rect x="293.47" y="167.43" width="9.60" height="9.35" fill="#41a0da"/><rect x="302.47" y="167.43" width="9.60" height="9.35" fill="#40a1da"/><rect x="311.48" y="167.43" width="9.60" height="9.35" fill="#36ade1"/><rect x="320.48" y="167.43" width="9.60" height="9.35" fill="#3aa8de"/><rect x="329.49" y="167.43" width="9.60" height="9.35" fill="#2fb5e5"/><rect x="338.49" y="167.43" width="9.60" height="9.35" fill="#3ca6dd"/><rect x="347.50" y="167.43" width="9.60" height="9.35" fill="#31b3e4"/><rect x="356.50" y="167.43" width="9.60" height="9.35" fill="#30b5e5"/><rect x="365.51" y="167.43" width="9.60" height="9.35" fill="#34afe2"/><rect x="374.51" y="167.43" width="9.60" height="9.35" fill="#2bbbe8"/><rect x="383.52" y="167.43" width="9.60" height="9.35" fill="#2db8e7"/><rect x="392.52" y="167.43" width="9.60" height="9.35" fill="#34bde3"/><rect x="401.53" y="167.43" width="9.60" height="9.35" fill="#33bde3"/><rect x="410.53" y="167.43" width="9.60" height="9.35" fill="#3abee0"/><rect x="419.54" y="167.43" width="9.60" height="9.35" fill="#34bde3"/><rect x="428.54" y="167.43" width="13.60" height="9.35" fill="#2ebce6"/><rect x="73.35" y="176.17" width="13.60" height="9.35" fill="#3ebfde"/><rect x="86.36" y="176.17" width="9.60" height="9.35" fill="#3abee0"/><rect x="95.36" y="176.17" width="9.60" height="9.35" fill="#44c1db"/><rect x="104.37" y="176.17" width="9.60" height="9.35" fill="#42c0dc"/><rect x="113.37" y="176.17" width="9.60" height="9.35" fill="#3ebfde"/><rect x="122.38" y="176.17" width="18.61" height="9.35" fill="#36bee2"/><rect x="140.38" y="176.17" width="9.60" height="9.35" fill="#37bee2"/><rect x="149.39" y="176.17" width="9.60" height="9.35" fill="#31bce5"/><rect x="158.39" y="176.17" width="9.60" height="9.35" fill="#34bde3"/><rect x="167.40" y="176.17" width="9.60" height="9.35" fill="#32bde4"/><rect x="176.40" y="176.17" width="9.60" height="9.35" fill="#2eb8e6"/><rect x="185.41" y="176.17" width="9.60" height="9.35" fill="#31bce5"/><rect x="194.41" y="176.17" width="9.60" height="9.35" fill="#2bbbe8"/><rect x="203.42" y="176.17" width="9.60" height="9.35" fill="#33b0e3"/><rect x="212.42" y="176.17" width="9.60" height="9.35" fill="#2cb9e7"/><rect x="221.43" y="176.17" width="9.60" height="9.35" fill="#30b4e5"/><rect x="230.43" y="176.17" width="9.60" height="9.35" fill="#2cbbe8"/><rect x="239.44" y="176.17" width="9.60" height="9.35" fill="#38aae0"/><rect x="248.44" y="176.17" width="9.60" height="9.35" fill="#35bde3"/><rect x="257.45" y="176.17" width="9.60" height="9.35" fill="#2ebce6"/><rect x="266.45" y="176.17" width="9.60" height="9.35" fill="#2ebce7"/><rect x="275.46" y="176.17" width="9.60" height="9.35" fill="#36ade1"/><rect x="284.46" y="176.17" width="9.60" height="9.35" fill="#2fb6e5"/><rect x="293.47" y="176.17" width="9.60" height="9.35" fill="#2bbbe8"/><rect x="302.47" y="176.17" width="9.60" height="9.35" fill="#32bde4"/><rect x="311.48" y="176.17" width="9.60" height="9.35" fill="#2cb9e7"/><rect x="320.48" y="176.17" width="9.60" height="9.35" fill="#2cbbe7"/><rect x="329.49" y="176.17" width="9.60" height="9.35" fill="#33bde4"/><rect x="338.49" y="176.17" width="9.60" height="9.35" fill="#39bee0"/><rect x="347.50" y="176.17" width="9.60" height="9.35" fill="#39bee1"/><rect x="356.50" y="176.17" width="9.60" height="9.35" fill="#33bde4"/><rect x="365.51" y="176.17" width="9.60" height="9.35" fill="#34bde3"/><rect x="374.51" y="176.17" width="9.60" height="9.35" fill="#37bee2"/><rect x="383.52" y="176.17" width="9.60" height="9.35" fill="#3abee0"/><rect x="392.52" y="176.17" width="9.60" height="9.35" fill="#45c1da"/><rect x="401.53" y="176.17" width="9.60" height="9.35" fill="#3bbfdf"/><rect x="410.53" y="176.17" width="9.60" height="9.35" fill="#43c1db"/><rect x="419.54" y="176.17" width="9.60" height="9.35" fill="#3ebfde"/><rect x="428.54" y="176.17" width="13.60" height="9.35" fill="#3cbfdf"/><rect x="73.35" y="184.92" width="13.60" height="9.35" fill="#4bc2d5"/><rect x="86.36" y="184.92" width="9.60" height="9.35" fill="#4cc2d4"/><rect x="95.36" y="184.92" width="9.60" height="9.35" fill="#40c0dd"/><rect x="104.37" y="184.92" width="9.60" height="9.35" fill="#43c1db"/><rect x="113.37" y="184.92" width="9.60" height="9.35" fill="#48c1d8"/><rect x="122.38" y="184.92" width="9.60" height="9.35" fill="#53c3ce"/><rect x="131.38" y="184.92" width="9.60" height="9.35" fill="#43c1db"/><rect x="140.38" y="184.92" width="9.60" height="9.35" fill="#3ebfde"/><rect x="149.39" y="184.92" width="9.60" height="9.35" fill="#3abee0"/><rect x="158.39" y="184.92" width="9.60" height="9.35" fill="#43c1db"/><rect x="167.40" y="184.92" width="9.60" height="9.35" fill="#42c0dc"/><rect x="176.40" y="184.92" width="9.60" height="9.35" fill="#40c0dd"/><rect x="185.41" y="184.92" width="9.60" height="9.35" fill="#37bee2"/><rect x="194.41" y="184.92" width="9.60" height="9.35" fill="#42c0dc"/><rect x="203.42" y="184.92" width="9.60" height="9.35" fill="#3bbfe0"/><rect x="212.42" y="184.92" width="9.60" height="9.35" fill="#3ebfde"/><rect x="221.43" y="184.92" width="9.60" height="9.35" fill="#37bee2"/><rect x="230.43" y="184.92" width="9.60" height="9.35" fill="#41c0dc"/><rect x="239.44" y="184.92" width="9.60" height="9.35" fill="#35bde3"/><rect x="248.44" y="184.92" width="9.60" height="9.35" fill="#3abee0"/><rect x="257.45" y="184.92" width="9.60" height="9.35" fill="#38bee1"/><rect x="266.45" y="184.92" width="9.60" height="9.35" fill="#34bde3"/><rect x="275.46" y="184.92" width="9.60" height="9.35" fill="#31bce5"/><rect x="284.46" y="184.92" width="9.60" height="9.35" fill="#42c0dc"/><rect x="293.47" y="184.92" width="9.60" height="9.35" fill="#33bde4"/><rect x="302.47" y="184.92" width="9.60" height="9.35" fill="#36bee2"/><rect x="311.48" y="184.92" width="9.60" height="9.35" fill="#3cbfdf"/><rect x="320.48" y="184.92" width="9.60" height="9.35" fill="#33bde4"/><rect x="329.49" y="184.92" width="9.60" height="9.35" fill="#3bbfdf"/><rect x="338.49" y="184.92" width="9.60" height="9.35" fill="#36bee2"/><rect x="347.50" y="184.92" width="9.60" height="9.35" fill="#42c0dc"/><rect x="356.50" y="184.92" width="9.60" height="9.35" fill="#45c1da"/><rect x="365.51" y="184.92" width="9.60" height="9.35" fill="#3abee0"/><rect x="374.51" y="184.92" width="9.60" height="9.35" fill="#35bde2"/><rect x="383.52" y="184.92" width="18.61" height="9.35" fill="#3fc0dd"/><rect x="401.53" y="184.92" width="9.60" height="9.35" fill="#47c1d8"/><rect x="410.53" y="184.92" width="9.60" height="9.35" fill="#4cc2d4"/><rect x="419.54" y="184.92" width="9.60" height="9.35" fill="#47c1d8"/><rect x="428.54" y="184.92" width="13.60" height="9.35" fill="#3ebfde"/><rect x="73.35" y="193.66" width="13.60" height="9.35" fill="#55c3cc"/><rect x="86.36" y="193.66" width="9.60" height="9.35" fill="#4dc2d3"/><rect x="95.36" y="193.66" width="9.60" height="9.35" fill="#54c3cd"/><rect x="104.37" y="193.66" width="9.60" height="9.35" fill="#49c2d6"/><rect x="113.37" y="193.66" width="9.60" height="9.35" fill="#45c1da"/><rect x="122.38" y="193.66" width="9.60" height="9.35" fill="#4fc2d1"/><rect x="131.38" y="193.66" width="9.60" height="9.35" fill="#4bc2d5"/><rect x="140.38" y="193.66" width="9.60" height="9.35" fill="#40c0dc"/><rect x="149.39" y="193.66" width="9.60" height="9.35" fill="#48c1d8"/><rect x="158.39" y="193.66" width="18.61" height="9.35" fill="#4dc2d3"/><rect x="176.40" y="193.66" width="9.60" height="9.35" fill="#50c2d0"/><rect x="185.41" y="193.66" width="9.60" height="9.35" fill="#41c0dc"/><rect x="194.41" y="193.66" width="9.60" height="9.35" fill="#49c1d7"/><rect x="203.42" y="193.66" width="9.60" height="9.35" fill="#3ebfde"/><rect x="212.42" y="193.66" width="9.60" height="9.35" fill="#3fc0dd"/><rect x="221.43" y="193.66" width="9.60" height="9.35" fill="#47c1d8"/><rect x="230.43" y="193.66" width="9.60" height="9.35" fill="#46c1d9"/><rect x="239.44" y="193.66" width="9.60" height="9.35" fill="#3ebfde"/><rect x="248.44" y="193.66" width="9.60" height="9.35" fill="#42c0dc"/><rect x="257.45" y="193.66" width="9.60" height="9.35" fill="#41c0dc"/><rect x="266.45" y="193.66" width="9.60" height="9.35" fill="#4bc2d4"/><rect x="275.46" y="193.66" width="9.60" height="9.35" fill="#3ebfde"/><rect x="284.46" y="193.66" width="9.60" height="9.35" fill="#48c1d8"/><rect x="293.47" y="193.66" width="9.60" height="9.35" fill="#4fc2d1"/><rect x="302.47" y="193.66" width="9.60" height="9.35" fill="#47c1d8"/><rect x="311.48" y="193.66" width="9.60" height="9.35" fill="#42c0dc"/><rect x="320.48" y="193.66" width="9.60" height="9.35" fill="#39bee1"/><rect x="329.49" y="193.66" width="9.60" height="9.35" fill="#47c1d8"/><rect x="338.49" y="193.66" width="9.60" height="9.35" fill="#4dc2d3"/><rect x="347.50" y="193.66" width="9.60" height="9.35" fill="#3abee0"/><rect x="356.50" y="193.66" width="9.60" height="9.35" fill="#46c1d9"/><rect x="365.51" y="193.66" width="9.60" height="9.35" fill="#49c2d7"/><rect x="374.51" y="193.66" width="9.60" height="9.35" fill="#4ec2d3"/><rect x="383.52" y="193.66" width="9.60" height="9.35" fill="#4ec2d2"/><rect x="392.52" y="193.66" width="9.60" height="9.35" fill="#41c0dc"/><rect x="401.53" y="193.66" width="9.60" height="9.35" fill="#4bc2d5"/><rect x="410.53" y="193.66" width="18.61" height="9.35" fill="#4dc2d3"/><rect x="428.54" y="193.66" width="13.60" height="9.35" fill="#43c0db"/><rect x="73.35" y="202.41" width="13.60" height="13.35" fill="#50c2d0"/><rect x="86.36" y="202.41" width="9.60" height="13.35" fill="#4ac2d6"/><rect x="95.36" y="202.41" width="9.60" height="13.35" fill="#4bc2d4"/><rect x="104.37" y="202.41" width="9.60" height="13.35" fill="#4bc2d5"/><rect x="113.37" y="202.41" width="9.60" height="13.35" fill="#51c3d0"/><rect x="122.38" y="202.41" width="9.60" height="13.35" fill="#48c1d7"/><rect x="131.38" y="202.41" width="9.60" height="13.35" fill="#43c1db"/><rect x="140.38" y="202.41" width="9.60" height="13.35" fill="#4bc2d4"/><rect x="149.39" y="202.41" width="9.60" height="13.35" fill="#50c2d1"/><rect x="158.39" y="202.41" width="9.60" height="13.35" fill="#51c3cf"/><rect x="167.40" y="202.41" width="9.60" height="13.35" fill="#49c2d6"/><rect x="176.40" y="202.41" width="9.60" height="13.35" fill="#4bc2d4"/><rect x="185.41" y="202.41" width="9.60" height="13.35" fill="#4ac2d5"/><rect x="194.41" y="202.41" width="9.60" height="13.35" fill="#4ac2d6"/><rect x="203.42" y="202.41" width="9.60" height="13.35" fill="#51c3d0"/><rect x="212.42" y="202.41" width="9.60" height="13.35" fill="#45c1da"/><rect x="221.43" y="202.41" width="9.60" height="13.35" fill="#48c1d8"/><rect x="230.43" y="202.41" width="9.60" height="13.35" fill="#49c2d6"/><rect x="239.44" y="202.41" width="9.60" height="13.35" fill="#48c1d8"/><rect x="248.44" y="202.41" width="9.60" height="13.35" fill="#44c1db"/><rect x="257.45" y="202.41" width="9.60" height="13.35" fill="#49c1d7"/><rect x="266.45" y="202.41" width="9.60" height="13.35" fill="#4dc2d3"/><rect x="275.46" y="202.41" width="9.60" height="13.35" fill="#43c0db"/><rect x="284.46" y="202.41" width="9.60" height="13.35" fill="#4bc2d5"/><rect x="293.47" y="202.41" width="9.60" height="13.35" fill="#4dc2d3"/><rect x="302.47" y="202.41" width="9.60" height="13.35" fill="#51c3cf"/><rect x="311.48" y="202.41" width="9.60" height="13.35" fill="#49c2d6"/><rect x="320.48" y="202.41" width="9.60" height="13.35" fill="#4fc2d1"/><rect x="329.49" y="202.41" width="9.60" height="13.35" fill="#4dc2d3"/><rect x="338.49" y="202.41" width="9.60" height="13.35" fill="#48c1d8"/><rect x="347.50" y="202.41" width="9.60" height="13.35" fill="#4ac2d5"/><rect x="356.50" y="202.41" width="9.60" height="13.35" fill="#45c1da"/><rect x="365.51" y="202.41" width="9.60" height="13.35" fill="#49c2d6"/><rect x="374.51" y="202.41" width="18.61" height="13.35" fill="#4dc2d3"/><rect x="392.52" y="202.41" width="9.60" height="13.35" fill="#4fc2d2"/><rect x="401.53" y="202.41" width="9.60" height="13.35" fill="#49c2d7"/><rect x="410.53" y="202.41" width="9.60" height="13.35" fill="#4cc2d3"/><rect x="419.54" y="202.41" width="9.60" height="13.35" fill="#4fc2d1"/><rect x="428.54" y="202.41" width="13.60" height="13.35" fill="#49c1d7"/></g></g></g>
<rect x="77.4" y="36.3" width="360.2" height="174.9" fill="none" stroke="#2d5f6e" stroke-width="0.8"/>
<g stroke="#333" stroke-width="0.9"><line x1="107.3" y1="211.2" x2="107.3" y2="218.2"/><line x1="257.4" y1="211.2" x2="257.4" y2="218.2"/><line x1="407.5" y1="211.2" x2="407.5" y2="218.2"/><line x1="70.4" y1="58.6" x2="77.4" y2="58.6"/><line x1="70.4" y1="117.0" x2="77.4" y2="117.0"/><line x1="70.4" y1="175.4" x2="77.4" y2="175.4"/></g><text x="107.3" y="241.5" font-size="17.9" text-anchor="middle" fill="#231f20" >−5</text><text x="257.4" y="241.5" font-size="17.9" text-anchor="middle" fill="#231f20" >0</text><text x="407.5" y="241.5" font-size="17.9" text-anchor="middle" fill="#231f20" >5</text><text x="61.9" y="64.9" font-size="17.9" text-anchor="end" fill="#231f20" >−2</text><text x="61.9" y="123.3" font-size="17.9" text-anchor="end" fill="#231f20" >0</text><text x="61.9" y="181.7" font-size="17.9" text-anchor="end" fill="#231f20" >2</text>
<text x="257.5" y="265.5" font-size="17.9" text-anchor="middle" fill="#231f20" >Pulse delay Δ<tspan font-style="italic">t</tspan> (ps)</text>
<text transform="translate(32.5,117) rotate(-90)" font-size="17.9" text-anchor="middle" fill="#231f20">Δ<tspan font-style="italic">x</tspan> (µm)</text>
<rect x="448.3" y="64.4" width="15.3" height="111.3" fill="url(#cm)" stroke="#5a5a6a" stroke-width="0.6"/>
<g stroke-width="0.8">
<line x1="458" y1="152.7" x2="463" y2="152.7" stroke="#1f7a6a"/>
<line x1="458" y1="128.8" x2="463" y2="128.8" stroke="#2a4a8a"/>
<line x1="458" y1="104.9" x2="463" y2="104.9" stroke="#8a2a4a"/>
<line x1="458" y1="81.0" x2="463" y2="81.0" stroke="#7a1a5a"/>
</g>
<text x="472.0" y="87.3" font-size="17.9" text-anchor="start" fill="#231f20" >0.4</text>
<text x="472.0" y="135.2" font-size="17.9" text-anchor="start" fill="#231f20" >0.2</text>
<text x="472.0" y="182.3" font-size="17.9" text-anchor="start" fill="#231f20" >0</text>
<text x="424.6" y="26.8" font-size="17.9" text-anchor="start" fill="#231f20" >Δ<tspan font-style="italic">I</tspan><tspan font-size="12.5" dy="4.5">TE</tspan><tspan dy="-4.5"> (nA)</tspan></text>
<text x="14.0" y="18.8" font-size="19.5" text-anchor="start" fill="#111" font-weight="bold">a</text>
<g stroke="#8a8c8e" stroke-width="1" fill="none">
<path d="M603.5 44.6V217.6H965.3"/>
<line x1="603.5" y1="131.1" x2="612.5" y2="131.1"/>
<line x1="603.5" y1="44.6" x2="612.5" y2="44.6"/>
<line x1="619.9" y1="217.6" x2="619.9" y2="209.6"/>
<line x1="792.6" y1="217.6" x2="792.6" y2="209.6"/>
<line x1="965.3" y1="217.6" x2="965.3" y2="209.6"/>
</g>
<polyline points="619.9,181.8 634.3,184.6 648.7,164.5 663.1,160.3 677.5,154.3 691.9,136.8 706.3,149.3 720.6,137.3 735.0,125.4 749.4,111.6 763.8,69.3 778.2,77.1 792.6,44.6 807.0,61.2 821.4,65.7 835.8,78.7 850.2,92.5 864.6,127.5 878.9,151.3 893.3,167.3 907.7,184.2 922.1,190.1 936.5,196.1 950.9,179.2 965.3,195.1" fill="none" stroke="#2a98a2" stroke-width="2.2" stroke-linejoin="round"/>
<polyline points="619.9,206.7 634.3,203.8 648.7,190.1 663.1,182.1 677.5,178.2 691.9,175.2 706.3,169.2 720.6,157.2 735.0,139.4 749.4,109.5 763.8,82.7 778.2,59.7 792.6,44.6 807.0,53.8 821.4,71.8 835.8,103.6 850.2,127.5 864.6,151.3 878.9,167.3 893.3,197.0 907.7,192.2 922.1,202.0 936.5,199.4 950.9,195.1 965.3,198.1" fill="none" stroke="#b556aa" stroke-width="2.2" stroke-linejoin="round"/>
<line x1="768.7" y1="123.5" x2="823.7" y2="123.5" stroke="#b556aa" stroke-width="1.6"/><path d="M763.9 123.5L771.9 119.9L771.9 127.1Z" fill="#b556aa"/><path d="M828.5 123.5L820.5 119.9L820.5 127.1Z" fill="#b556aa"/>
<line x1="763.2" y1="129.2" x2="829.1" y2="129.2" stroke="#1f7f8a" stroke-width="1.6"/><path d="M758.4 129.2L766.4 125.6L766.4 132.8Z" fill="#1f7f8a"/><path d="M833.9 129.2L825.9 125.6L825.9 132.8Z" fill="#1f7f8a"/>
<path d="M753.2 152.6l2.6 -1.4l3.4 10.6l4.6 -20.6H820.5" fill="none" stroke="#231f20" stroke-width="1.2"/>
<text x="765.0" y="161.0" font-size="17.7" text-anchor="start" fill="#231f20" letter-spacing="0.9">&lt;Δ<tspan font-style="italic">x</tspan><tspan font-size="11.5" dy="-7">2</tspan><tspan dy="7">&gt;</tspan></text>
<text x="675.0" y="60.8" font-size="17.9" text-anchor="start" fill="#b556aa" >Δ<tspan font-style="italic">t</tspan> = 0 ps</text>
<text x="848.3" y="60.8" font-size="17.9" text-anchor="start" fill="#2a98a2" >|Δ<tspan font-style="italic">t</tspan>| = 3 ps</text>
<text x="595.0" y="223.9" font-size="17.9" text-anchor="end" fill="#231f20" >0</text>
<text x="595.0" y="137.4" font-size="17.9" text-anchor="end" fill="#231f20" >0.5</text>
<text x="595.0" y="50.9" font-size="17.9" text-anchor="end" fill="#231f20" >1.0</text>
<text x="619.9" y="239.0" font-size="17.9" text-anchor="middle" fill="#231f20" >−4</text>
<text x="792.6" y="239.0" font-size="17.9" text-anchor="middle" fill="#231f20" >0</text>
<text x="965.3" y="239.0" font-size="17.9" text-anchor="middle" fill="#231f20" >4</text>
<text x="783.5" y="266.5" font-size="17.9" text-anchor="middle" fill="#231f20" >Spatial displacement Δ<tspan font-style="italic">x</tspan> (µm)</text>
<text transform="translate(551.8,131.5) rotate(-90)" font-size="17.9" text-anchor="middle" fill="#231f20">Δ<tspan font-style="italic">I</tspan><tspan font-size="12.5" dy="4.5">TE</tspan><tspan dy="-4.5"> (norm.)</tspan></text>
<text x="537.5" y="18.8" font-size="19.5" text-anchor="start" fill="#111" font-weight="bold">b</text>
<clipPath id="hc2"><rect x="77.40" y="308.10" width="360.20" height="179.20"/></clipPath><g clip-path="url(#hc2)"><g filter="url(#blur)"><g shape-rendering="crispEdges"><rect x="73.35" y="304.05" width="13.60" height="13.56" fill="#6c69b5"/><rect x="86.36" y="304.05" width="9.60" height="13.56" fill="#607ac1"/><rect x="95.36" y="304.05" width="9.60" height="13.56" fill="#36ace1"/><rect x="104.37" y="304.05" width="9.60" height="13.56" fill="#696db8"/><rect x="113.37" y="304.05" width="9.60" height="13.56" fill="#6377bf"/><rect x="122.38" y="304.05" width="9.60" height="13.56" fill="#5d80c5"/><rect x="131.38" y="304.05" width="9.60" height="13.56" fill="#459bd7"/><rect x="140.38" y="304.05" width="9.60" height="13.56" fill="#33b0e3"/><rect x="149.39" y="304.05" width="9.60" height="13.56" fill="#3fa2db"/><rect x="158.39" y="304.05" width="9.60" height="13.56" fill="#4a95d3"/><rect x="167.40" y="304.05" width="9.60" height="13.56" fill="#38aae0"/><rect x="176.40" y="304.05" width="9.60" height="13.56" fill="#34b0e2"/><rect x="185.41" y="304.05" width="9.60" height="13.56" fill="#2dbce7"/><rect x="194.41" y="304.05" width="9.60" height="13.56" fill="#37ace1"/><rect x="203.42" y="304.05" width="9.60" height="13.56" fill="#31b3e4"/><rect x="212.42" y="304.05" width="9.60" height="13.56" fill="#3ebfde"/><rect x="221.43" y="304.05" width="9.60" height="13.56" fill="#35aee2"/><rect x="230.43" y="304.05" width="9.60" height="13.56" fill="#32b1e3"/><rect x="239.44" y="304.05" width="9.60" height="13.56" fill="#30b4e5"/><rect x="248.44" y="304.05" width="9.60" height="13.56" fill="#3abee0"/><rect x="257.45" y="304.05" width="9.60" height="13.56" fill="#3bbfdf"/><rect x="266.45" y="304.05" width="9.60" height="13.56" fill="#4cc2d4"/><rect x="275.46" y="304.05" width="9.60" height="13.56" fill="#32b2e4"/><rect x="284.46" y="304.05" width="9.60" height="13.56" fill="#5cc4c6"/><rect x="293.47" y="304.05" width="9.60" height="13.56" fill="#36bee2"/><rect x="302.47" y="304.05" width="9.60" height="13.56" fill="#31bce5"/><rect x="311.48" y="304.05" width="9.60" height="13.56" fill="#459bd7"/><rect x="320.48" y="304.05" width="9.60" height="13.56" fill="#33b1e3"/><rect x="329.49" y="304.05" width="9.60" height="13.56" fill="#36bde2"/><rect x="338.49" y="304.05" width="9.60" height="13.56" fill="#3ebfde"/><rect x="347.50" y="304.05" width="9.60" height="13.56" fill="#2eb7e6"/><rect x="356.50" y="304.05" width="9.60" height="13.56" fill="#4d93d1"/><rect x="365.51" y="304.05" width="9.60" height="13.56" fill="#528dcd"/><rect x="374.51" y="304.05" width="9.60" height="13.56" fill="#4f90cf"/><rect x="383.52" y="304.05" width="9.60" height="13.56" fill="#429fd9"/><rect x="392.52" y="304.05" width="9.60" height="13.56" fill="#5c81c6"/><rect x="401.53" y="304.05" width="9.60" height="13.56" fill="#7066b3"/><rect x="410.53" y="304.05" width="9.60" height="13.56" fill="#469ad6"/><rect x="419.54" y="304.05" width="9.60" height="13.56" fill="#696eb9"/><rect x="428.54" y="304.05" width="13.60" height="13.56" fill="#8159ab"/><rect x="73.35" y="317.01" width="13.60" height="9.56" fill="#7264b2"/><rect x="86.36" y="317.01" width="9.60" height="9.56" fill="#617ac1"/><rect x="95.36" y="317.01" width="9.60" height="9.56" fill="#6f67b4"/><rect x="104.37" y="317.01" width="9.60" height="9.56" fill="#4e91d0"/><rect x="113.37" y="317.01" width="9.60" height="9.56" fill="#5f7cc3"/><rect x="122.38" y="317.01" width="9.60" height="9.56" fill="#7265b2"/><rect x="131.38" y="317.01" width="9.60" height="9.56" fill="#7363b2"/><rect x="140.38" y="317.01" width="9.60" height="9.56" fill="#3abee0"/><rect x="149.39" y="317.01" width="9.60" height="9.56" fill="#5e7ec4"/><rect x="158.39" y="317.01" width="9.60" height="9.56" fill="#6c69b5"/><rect x="167.40" y="317.01" width="9.60" height="9.56" fill="#2fb6e6"/><rect x="176.40" y="317.01" width="9.60" height="9.56" fill="#3da4dc"/><rect x="185.41" y="317.01" width="9.60" height="9.56" fill="#5e7ec4"/><rect x="194.41" y="317.01" width="9.60" height="9.56" fill="#31bce5"/><rect x="203.42" y="317.01" width="9.60" height="9.56" fill="#35aee1"/><rect x="212.42" y="317.01" width="9.60" height="9.56" fill="#2ebce6"/><rect x="221.43" y="317.01" width="9.60" height="9.56" fill="#58c3ca"/><rect x="230.43" y="317.01" width="9.60" height="9.56" fill="#2cbbe8"/><rect x="239.44" y="317.01" width="9.60" height="9.56" fill="#39bee0"/><rect x="248.44" y="317.01" width="9.60" height="9.56" fill="#30b4e5"/><rect x="257.45" y="317.01" width="9.60" height="9.56" fill="#4b95d3"/><rect x="266.45" y="317.01" width="9.60" height="9.56" fill="#2eb7e6"/><rect x="275.46" y="317.01" width="9.60" height="9.56" fill="#3bbfdf"/><rect x="284.46" y="317.01" width="9.60" height="9.56" fill="#2fb6e5"/><rect x="293.47" y="317.01" width="9.60" height="9.56" fill="#2db8e7"/><rect x="302.47" y="317.01" width="9.60" height="9.56" fill="#459cd7"/><rect x="311.48" y="317.01" width="9.60" height="9.56" fill="#48c1d8"/><rect x="320.48" y="317.01" width="9.60" height="9.56" fill="#3ebfde"/><rect x="329.49" y="317.01" width="9.60" height="9.56" fill="#4fc2d1"/><rect x="338.49" y="317.01" width="9.60" height="9.56" fill="#528dce"/><rect x="347.50" y="317.01" width="9.60" height="9.56" fill="#40a0da"/><rect x="356.50" y="317.01" width="9.60" height="9.56" fill="#34afe2"/><rect x="365.51" y="317.01" width="9.60" height="9.56" fill="#36ade1"/><rect x="374.51" y="317.01" width="9.60" height="9.56" fill="#3fa1db"/><rect x="383.52" y="317.01" width="9.60" height="9.56" fill="#39a9df"/><rect x="392.52" y="317.01" width="18.61" height="9.56" fill="#5a84c8"/><rect x="410.53" y="317.01" width="9.60" height="9.56" fill="#7860af"/><rect x="419.54" y="317.01" width="9.60" height="9.56" fill="#6d68b5"/><rect x="428.54" y="317.01" width="13.60" height="9.56" fill="#5d7fc4"/><rect x="73.35" y="325.97" width="13.60" height="9.56" fill="#6278c0"/><rect x="86.36" y="325.97" width="9.60" height="9.56" fill="#785faf"/><rect x="95.36" y="325.97" width="9.60" height="9.56" fill="#6c69b5"/><rect x="104.37" y="325.97" width="9.60" height="9.56" fill="#6770ba"/><rect x="113.37" y="325.97" width="9.60" height="9.56" fill="#6b6bb6"/><rect x="122.38" y="325.97" width="9.60" height="9.56" fill="#7264b2"/><rect x="131.38" y="325.97" width="9.60" height="9.56" fill="#2fb6e6"/><rect x="140.38" y="325.97" width="9.60" height="9.56" fill="#36ace1"/><rect x="149.39" y="325.97" width="9.60" height="9.56" fill="#3dbfde"/><rect x="158.39" y="325.97" width="9.60" height="9.56" fill="#5688cb"/><rect x="167.40" y="325.97" width="9.60" height="9.56" fill="#33b1e3"/><rect x="176.40" y="325.97" width="9.60" height="9.56" fill="#2dbce7"/><rect x="185.41" y="325.97" width="9.60" height="9.56" fill="#33bde4"/><rect x="194.41" y="325.97" width="9.60" height="9.56" fill="#41a0da"/><rect x="203.42" y="325.97" width="9.60" height="9.56" fill="#2cbbe8"/><rect x="212.42" y="325.97" width="9.60" height="9.56" fill="#38bee1"/><rect x="221.43" y="325.97" width="9.60" height="9.56" fill="#419fd9"/><rect x="230.43" y="325.97" width="9.60" height="9.56" fill="#48c1d7"/><rect x="239.44" y="325.97" width="9.60" height="9.56" fill="#4ec2d2"/><rect x="248.44" y="325.97" width="9.60" height="9.56" fill="#5a84c8"/><rect x="257.45" y="325.97" width="9.60" height="9.56" fill="#3ebfde"/><rect x="266.45" y="325.97" width="9.60" height="9.56" fill="#40c0dd"/><rect x="275.46" y="325.97" width="9.60" height="9.56" fill="#42c0dc"/><rect x="284.46" y="325.97" width="9.60" height="9.56" fill="#32bde4"/><rect x="293.47" y="325.97" width="9.60" height="9.56" fill="#39a9df"/><rect x="302.47" y="325.97" width="18.61" height="9.56" fill="#3ca5dd"/><rect x="320.48" y="325.97" width="9.60" height="9.56" fill="#2eb7e6"/><rect x="329.49" y="325.97" width="9.60" height="9.56" fill="#42c0dc"/><rect x="338.49" y="325.97" width="9.60" height="9.56" fill="#469ad6"/><rect x="347.50" y="325.97" width="9.60" height="9.56" fill="#6770ba"/><rect x="356.50" y="325.97" width="9.60" height="9.56" fill="#6475be"/><rect x="365.51" y="325.97" width="9.60" height="9.56" fill="#4a95d3"/><rect x="374.51" y="325.97" width="9.60" height="9.56" fill="#6672bc"/><rect x="383.52" y="325.97" width="9.60" height="9.56" fill="#518ecf"/><rect x="392.52" y="325.97" width="9.60" height="9.56" fill="#5f7dc3"/><rect x="401.53" y="325.97" width="9.60" height="9.56" fill="#3ba7de"/><rect x="410.53" y="325.97" width="9.60" height="9.56" fill="#607ac1"/><rect x="419.54" y="325.97" width="9.60" height="9.56" fill="#6b6ab6"/><rect x="428.54" y="325.97" width="13.60" height="9.56" fill="#696db8"/><rect x="73.35" y="334.93" width="13.60" height="9.56" fill="#7760b0"/><rect x="86.36" y="334.93" width="9.60" height="9.56" fill="#8557aa"/><rect x="95.36" y="334.93" width="9.60" height="9.56" fill="#795faf"/><rect x="104.37" y="334.93" width="9.60" height="9.56" fill="#607bc2"/><rect x="113.37" y="334.93" width="9.60" height="9.56" fill="#508fcf"/><rect x="122.38" y="334.93" width="9.60" height="9.56" fill="#4c93d2"/><rect x="131.38" y="334.93" width="9.60" height="9.56" fill="#39a9df"/><rect x="140.38" y="334.93" width="9.60" height="9.56" fill="#5a84c8"/><rect x="149.39" y="334.93" width="9.60" height="9.56" fill="#5d7fc5"/><rect x="158.39" y="334.93" width="9.60" height="9.56" fill="#528dcd"/><rect x="167.40" y="334.93" width="9.60" height="9.56" fill="#4c94d2"/><rect x="176.40" y="334.93" width="9.60" height="9.56" fill="#449dd8"/><rect x="185.41" y="334.93" width="9.60" height="9.56" fill="#37ace1"/><rect x="194.41" y="334.93" width="9.60" height="9.56" fill="#30bce5"/><rect x="203.42" y="334.93" width="9.60" height="9.56" fill="#5f7cc3"/><rect x="212.42" y="334.93" width="9.60" height="9.56" fill="#4b95d3"/><rect x="221.43" y="334.93" width="9.60" height="9.56" fill="#3dbfdf"/><rect x="230.43" y="334.93" width="9.60" height="9.56" fill="#3fc0dd"/><rect x="239.44" y="334.93" width="9.60" height="9.56" fill="#3bbfdf"/><rect x="248.44" y="334.93" width="9.60" height="9.56" fill="#31bce5"/><rect x="257.45" y="334.93" width="9.60" height="9.56" fill="#3ba6de"/><rect x="266.45" y="334.93" width="9.60" height="9.56" fill="#3aa8de"/><rect x="275.46" y="334.93" width="9.60" height="9.56" fill="#3fa1db"/><rect x="284.46" y="334.93" width="9.60" height="9.56" fill="#469ad6"/><rect x="293.47" y="334.93" width="9.60" height="9.56" fill="#4d93d1"/><rect x="302.47" y="334.93" width="9.60" height="9.56" fill="#469ad6"/><rect x="311.48" y="334.93" width="9.60" height="9.56" fill="#429ed9"/><rect x="320.48" y="334.93" width="9.60" height="9.56" fill="#37ace0"/><rect x="329.49" y="334.93" width="9.60" height="9.56" fill="#42c0dc"/><rect x="338.49" y="334.93" width="9.60" height="9.56" fill="#3fa2db"/><rect x="347.50" y="334.93" width="9.60" height="9.56" fill="#6d68b5"/><rect x="356.50" y="334.93" width="9.60" height="9.56" fill="#3ca5dd"/><rect x="365.51" y="334.93" width="9.60" height="9.56" fill="#3fa2db"/><rect x="374.51" y="334.93" width="9.60" height="9.56" fill="#6b6ab6"/><rect x="383.52" y="334.93" width="9.60" height="9.56" fill="#607ac1"/><rect x="392.52" y="334.93" width="9.60" height="9.56" fill="#5a83c7"/><rect x="401.53" y="334.93" width="9.60" height="9.56" fill="#795eaf"/><rect x="410.53" y="334.93" width="9.60" height="9.56" fill="#7066b3"/><rect x="419.54" y="334.93" width="9.60" height="9.56" fill="#7462b1"/><rect x="428.54" y="334.93" width="13.60" height="9.56" fill="#6474bd"/><rect x="73.35" y="343.89" width="13.60" height="9.56" fill="#795faf"/><rect x="86.36" y="343.89" width="9.60" height="9.56" fill="#7562b1"/><rect x="95.36" y="343.89" width="9.60" height="9.56" fill="#785faf"/><rect x="104.37" y="343.89" width="9.60" height="9.56" fill="#7a5eae"/><rect x="113.37" y="343.89" width="9.60" height="9.56" fill="#7860af"/><rect x="122.38" y="343.89" width="9.60" height="9.56" fill="#6a6bb7"/><rect x="131.38" y="343.89" width="9.60" height="9.56" fill="#6e67b4"/><rect x="140.38" y="343.89" width="9.60" height="9.56" fill="#449dd8"/><rect x="149.39" y="343.89" width="9.60" height="9.56" fill="#6a6cb7"/><rect x="158.39" y="343.89" width="9.60" height="9.56" fill="#686eb9"/><rect x="167.40" y="343.89" width="9.60" height="9.56" fill="#548bcc"/><rect x="176.40" y="343.89" width="9.60" height="9.56" fill="#40a0da"/><rect x="185.41" y="343.89" width="9.60" height="9.56" fill="#5787ca"/><rect x="194.41" y="343.89" width="9.60" height="9.56" fill="#31b3e4"/><rect x="203.42" y="343.89" width="9.60" height="9.56" fill="#5b83c7"/><rect x="212.42" y="343.89" width="9.60" height="9.56" fill="#5688cb"/><rect x="221.43" y="343.89" width="9.60" height="9.56" fill="#30b4e4"/><rect x="230.43" y="343.89" width="9.60" height="9.56" fill="#449cd7"/><rect x="239.44" y="343.89" width="9.60" height="9.56" fill="#5c81c6"/><rect x="248.44" y="343.89" width="9.60" height="9.56" fill="#5886c9"/><rect x="257.45" y="343.89" width="9.60" height="9.56" fill="#5788ca"/><rect x="266.45" y="343.89" width="9.60" height="9.56" fill="#3aa8de"/><rect x="275.46" y="343.89" width="9.60" height="9.56" fill="#39a8df"/><rect x="284.46" y="343.89" width="9.60" height="9.56" fill="#3ba6de"/><rect x="293.47" y="343.89" width="9.60" height="9.56" fill="#5c81c6"/><rect x="302.47" y="343.89" width="9.60" height="9.56" fill="#7165b3"/><rect x="311.48" y="343.89" width="9.60" height="9.56" fill="#6a6cb7"/><rect x="320.48" y="343.89" width="9.60" height="9.56" fill="#6d68b5"/><rect x="329.49" y="343.89" width="9.60" height="9.56" fill="#6d69b5"/><rect x="338.49" y="343.89" width="9.60" height="9.56" fill="#2eb7e6"/><rect x="347.50" y="343.89" width="9.60" height="9.56" fill="#5c81c6"/><rect x="356.50" y="343.89" width="9.60" height="9.56" fill="#5b83c7"/><rect x="365.51" y="343.89" width="9.60" height="9.56" fill="#7364b2"/><rect x="374.51" y="343.89" width="9.60" height="9.56" fill="#7a5eae"/><rect x="383.52" y="343.89" width="9.60" height="9.56" fill="#5d7fc4"/><rect x="392.52" y="343.89" width="9.60" height="9.56" fill="#6b6bb6"/><rect x="401.53" y="343.89" width="9.60" height="9.56" fill="#7363b2"/><rect x="410.53" y="343.89" width="9.60" height="9.56" fill="#6770ba"/><rect x="419.54" y="343.89" width="9.60" height="9.56" fill="#676fba"/><rect x="428.54" y="343.89" width="13.60" height="9.56" fill="#696db8"/><rect x="73.35" y="352.85" width="13.60" height="9.56" fill="#8c53a7"/><rect x="86.36" y="352.85" width="9.60" height="9.56" fill="#7066b3"/><rect x="95.36" y="352.85" width="9.60" height="9.56" fill="#8b54a7"/><rect x="104.37" y="352.85" width="9.60" height="9.56" fill="#795eae"/><rect x="113.37" y="352.85" width="9.60" height="9.56" fill="#815aab"/><rect x="122.38" y="352.85" width="9.60" height="9.56" fill="#8a54a8"/><rect x="131.38" y="352.85" width="9.60" height="9.56" fill="#6c69b5"/><rect x="140.38" y="352.85" width="9.60" height="9.56" fill="#696db8"/><rect x="149.39" y="352.85" width="9.60" height="9.56" fill="#7661b0"/><rect x="158.39" y="352.85" width="9.60" height="9.56" fill="#6475be"/><rect x="167.40" y="352.85" width="9.60" height="9.56" fill="#6770ba"/><rect x="176.40" y="352.85" width="9.60" height="9.56" fill="#6d68b5"/><rect x="185.41" y="352.85" width="9.60" height="9.56" fill="#6f66b4"/><rect x="194.41" y="352.85" width="9.60" height="9.56" fill="#5e7ec4"/><rect x="203.42" y="352.85" width="9.60" height="9.56" fill="#686fb9"/><rect x="212.42" y="352.85" width="9.60" height="9.56" fill="#7165b3"/><rect x="221.43" y="352.85" width="9.60" height="9.56" fill="#7661b0"/><rect x="230.43" y="352.85" width="9.60" height="9.56" fill="#469ad6"/><rect x="239.44" y="352.85" width="9.60" height="9.56" fill="#7364b2"/><rect x="248.44" y="352.85" width="9.60" height="9.56" fill="#6e68b5"/><rect x="257.45" y="352.85" width="9.60" height="9.56" fill="#5a84c8"/><rect x="266.45" y="352.85" width="9.60" height="9.56" fill="#538ccd"/><rect x="275.46" y="352.85" width="9.60" height="9.56" fill="#6d68b5"/><rect x="284.46" y="352.85" width="9.60" height="9.56" fill="#6672bc"/><rect x="293.47" y="352.85" width="9.60" height="9.56" fill="#6d69b5"/><rect x="302.47" y="352.85" width="9.60" height="9.56" fill="#7462b1"/><rect x="311.48" y="352.85" width="9.60" height="9.56" fill="#696db8"/><rect x="320.48" y="352.85" width="9.60" height="9.56" fill="#6f66b4"/><rect x="329.49" y="352.85" width="9.60" height="9.56" fill="#7363b2"/><rect x="338.49" y="352.85" width="9.60" height="9.56" fill="#795faf"/><rect x="347.50" y="352.85" width="9.60" height="9.56" fill="#8557aa"/><rect x="356.50" y="352.85" width="9.60" height="9.56" fill="#8657a9"/><rect x="365.51" y="352.85" width="9.60" height="9.56" fill="#7561b1"/><rect x="374.51" y="352.85" width="9.60" height="9.56" fill="#7165b3"/><rect x="383.52" y="352.85" width="9.60" height="9.56" fill="#964ea3"/><rect x="392.52" y="352.85" width="9.60" height="9.56" fill="#7f5aac"/><rect x="401.53" y="352.85" width="9.60" height="9.56" fill="#7e5bac"/><rect x="410.53" y="352.85" width="9.60" height="9.56" fill="#6c69b5"/><rect x="419.54" y="352.85" width="9.60" height="9.56" fill="#8856a9"/><rect x="428.54" y="352.85" width="13.60" height="9.56" fill="#7363b2"/><rect x="73.35" y="361.81" width="13.60" height="9.56" fill="#8955a8"/><rect x="86.36" y="361.81" width="9.60" height="9.56" fill="#7a5eae"/><rect x="95.36" y="361.81" width="9.60" height="9.56" fill="#8557aa"/><rect x="104.37" y="361.81" width="9.60" height="9.56" fill="#8d53a7"/><rect x="113.37" y="361.81" width="9.60" height="9.56" fill="#7661b0"/><rect x="122.38" y="361.81" width="9.60" height="9.56" fill="#7c5cad"/><rect x="131.38" y="361.81" width="9.60" height="9.56" fill="#8756a9"/><rect x="140.38" y="361.81" width="9.60" height="9.56" fill="#7760b0"/><rect x="149.39" y="361.81" width="9.60" height="9.56" fill="#7661b0"/><rect x="158.39" y="361.81" width="9.60" height="9.56" fill="#7b5dae"/><rect x="167.40" y="361.81" width="9.60" height="9.56" fill="#7462b1"/><rect x="176.40" y="361.81" width="9.60" height="9.56" fill="#8c54a7"/><rect x="185.41" y="361.81" width="9.60" height="9.56" fill="#785faf"/><rect x="194.41" y="361.81" width="9.60" height="9.56" fill="#8c53a7"/><rect x="203.42" y="361.81" width="9.60" height="9.56" fill="#8d53a7"/><rect x="212.42" y="361.81" width="9.60" height="9.56" fill="#7661b0"/><rect x="221.43" y="361.81" width="9.60" height="9.56" fill="#8259ab"/><rect x="230.43" y="361.81" width="9.60" height="9.56" fill="#7b5dad"/><rect x="239.44" y="361.81" width="9.60" height="9.56" fill="#7562b1"/><rect x="248.44" y="361.81" width="9.60" height="9.56" fill="#7a5dae"/><rect x="257.45" y="361.81" width="9.60" height="9.56" fill="#7b5dad"/><rect x="266.45" y="361.81" width="9.60" height="9.56" fill="#8656a9"/><rect x="275.46" y="361.81" width="9.60" height="9.56" fill="#8b54a7"/><rect x="284.46" y="361.81" width="9.60" height="9.56" fill="#7661b0"/><rect x="293.47" y="361.81" width="9.60" height="9.56" fill="#7d5bad"/><rect x="302.47" y="361.81" width="9.60" height="9.56" fill="#8955a8"/><rect x="311.48" y="361.81" width="9.60" height="9.56" fill="#9151a5"/><rect x="320.48" y="361.81" width="9.60" height="9.56" fill="#6a6cb7"/><rect x="329.49" y="361.81" width="9.60" height="9.56" fill="#944fa4"/><rect x="338.49" y="361.81" width="9.60" height="9.56" fill="#8259ab"/><rect x="347.50" y="361.81" width="9.60" height="9.56" fill="#9a4ca2"/><rect x="356.50" y="361.81" width="9.60" height="9.56" fill="#805aab"/><rect x="365.51" y="361.81" width="9.60" height="9.56" fill="#7b5cad"/><rect x="374.51" y="361.81" width="9.60" height="9.56" fill="#8955a8"/><rect x="383.52" y="361.81" width="9.60" height="9.56" fill="#9a4ca2"/><rect x="392.52" y="361.81" width="9.60" height="9.56" fill="#8b54a8"/><rect x="401.53" y="361.81" width="9.60" height="9.56" fill="#6c69b6"/><rect x="410.53" y="361.81" width="9.60" height="9.56" fill="#984da3"/><rect x="419.54" y="361.81" width="9.60" height="9.56" fill="#7661b0"/><rect x="428.54" y="361.81" width="13.60" height="9.56" fill="#805aab"/><rect x="73.35" y="370.77" width="13.60" height="9.56" fill="#9151a5"/><rect x="86.36" y="370.77" width="9.60" height="9.56" fill="#8657a9"/><rect x="95.36" y="370.77" width="9.60" height="9.56" fill="#8f52a6"/><rect x="104.37" y="370.77" width="9.60" height="9.56" fill="#9250a5"/><rect x="113.37" y="370.77" width="9.60" height="9.56" fill="#984da3"/><rect x="122.38" y="370.77" width="9.60" height="9.56" fill="#9d4ca2"/><rect x="131.38" y="370.77" width="9.60" height="9.56" fill="#9a4ca2"/><rect x="140.38" y="370.77" width="9.60" height="9.56" fill="#8a55a8"/><rect x="149.39" y="370.77" width="9.60" height="9.56" fill="#9b4ca2"/><rect x="158.39" y="370.77" width="18.61" height="9.56" fill="#a54ba1"/><rect x="176.40" y="370.77" width="9.60" height="9.56" fill="#9d4ca2"/><rect x="185.41" y="370.77" width="9.60" height="9.56" fill="#a14ba1"/><rect x="194.41" y="370.77" width="9.60" height="9.56" fill="#a34ba1"/><rect x="203.42" y="370.77" width="9.60" height="9.56" fill="#a74ba1"/><rect x="212.42" y="370.77" width="9.60" height="9.56" fill="#a94ba1"/><rect x="221.43" y="370.77" width="9.60" height="9.56" fill="#994ca2"/><rect x="230.43" y="370.77" width="9.60" height="9.56" fill="#9a4ca2"/><rect x="239.44" y="370.77" width="27.61" height="9.56" fill="#a54ba1"/><rect x="266.45" y="370.77" width="9.60" height="9.56" fill="#8358aa"/><rect x="275.46" y="370.77" width="9.60" height="9.56" fill="#9a4ca2"/><rect x="284.46" y="370.77" width="9.60" height="9.56" fill="#795eae"/><rect x="293.47" y="370.77" width="9.60" height="9.56" fill="#a24ba1"/><rect x="302.47" y="370.77" width="18.61" height="9.56" fill="#9d4ca2"/><rect x="320.48" y="370.77" width="9.60" height="9.56" fill="#9b4ca2"/><rect x="329.49" y="370.77" width="9.60" height="9.56" fill="#a74ba1"/><rect x="338.49" y="370.77" width="9.60" height="9.56" fill="#9a4ca2"/><rect x="347.50" y="370.77" width="9.60" height="9.56" fill="#a64ba1"/><rect x="356.50" y="370.77" width="9.60" height="9.56" fill="#a24ba1"/><rect x="365.51" y="370.77" width="9.60" height="9.56" fill="#a04ca2"/><rect x="374.51" y="370.77" width="9.60" height="9.56" fill="#a24ba1"/><rect x="383.52" y="370.77" width="9.60" height="9.56" fill="#9f4ca2"/><rect x="392.52" y="370.77" width="9.60" height="9.56" fill="#9051a6"/><rect x="401.53" y="370.77" width="9.60" height="9.56" fill="#a64ba1"/><rect x="410.53" y="370.77" width="9.60" height="9.56" fill="#a74ba1"/><rect x="419.54" y="370.77" width="9.60" height="9.56" fill="#9f4ca2"/><rect x="428.54" y="370.77" width="13.60" height="9.56" fill="#a94ba1"/><rect x="73.35" y="379.73" width="13.60" height="9.56" fill="#b54aa0"/><rect x="86.36" y="379.73" width="9.60" height="9.56" fill="#9e4ca2"/><rect x="95.36" y="379.73" width="9.60" height="9.56" fill="#aa4ba1"/><rect x="104.37" y="379.73" width="9.60" height="9.56" fill="#a74ba1"/><rect x="113.37" y="379.73" width="9.60" height="9.56" fill="#a24ba1"/><rect x="122.38" y="379.73" width="9.60" height="9.56" fill="#ae4ba1"/><rect x="131.38" y="379.73" width="9.60" height="9.56" fill="#a24ba1"/><rect x="140.38" y="379.73" width="9.60" height="9.56" fill="#a64ba1"/><rect x="149.39" y="379.73" width="9.60" height="9.56" fill="#ac4ba1"/><rect x="158.39" y="379.73" width="18.61" height="9.56" fill="#ad4ba1"/><rect x="176.40" y="379.73" width="9.60" height="9.56" fill="#b54aa0"/><rect x="185.41" y="379.73" width="9.60" height="9.56" fill="#a64ba1"/><rect x="194.41" y="379.73" width="9.60" height="9.56" fill="#ad4ba1"/><rect x="203.42" y="379.73" width="9.60" height="9.56" fill="#a24ba1"/><rect x="212.42" y="379.73" width="9.60" height="9.56" fill="#ae4aa0"/><rect x="221.43" y="379.73" width="18.61" height="9.56" fill="#b34aa0"/><rect x="239.44" y="379.73" width="9.60" height="9.56" fill="#a74ba1"/><rect x="248.44" y="379.73" width="9.60" height="9.56" fill="#a94ba1"/><rect x="257.45" y="379.73" width="9.60" height="9.56" fill="#b34aa0"/><rect x="266.45" y="379.73" width="9.60" height="9.56" fill="#aa4ba1"/><rect x="275.46" y="379.73" width="9.60" height="9.56" fill="#b24aa0"/><rect x="284.46" y="379.73" width="9.60" height="9.56" fill="#a44ba1"/><rect x="293.47" y="379.73" width="9.60" height="9.56" fill="#b54aa0"/><rect x="302.47" y="379.73" width="9.60" height="9.56" fill="#b34aa0"/><rect x="311.48" y="379.73" width="9.60" height="9.56" fill="#ae4aa0"/><rect x="320.48" y="379.73" width="9.60" height="9.56" fill="#a44ba1"/><rect x="329.49" y="379.73" width="9.60" height="9.56" fill="#a94ba1"/><rect x="338.49" y="379.73" width="18.61" height="9.56" fill="#ac4ba1"/><rect x="356.50" y="379.73" width="9.60" height="9.56" fill="#a94ba1"/><rect x="365.51" y="379.73" width="9.60" height="9.56" fill="#a84ba1"/><rect x="374.51" y="379.73" width="9.60" height="9.56" fill="#ac4ba1"/><rect x="383.52" y="379.73" width="9.60" height="9.56" fill="#b54aa0"/><rect x="392.52" y="379.73" width="9.60" height="9.56" fill="#954ea4"/><rect x="401.53" y="379.73" width="9.60" height="9.56" fill="#9d4ca2"/><rect x="410.53" y="379.73" width="9.60" height="9.56" fill="#9c4ca2"/><rect x="419.54" y="379.73" width="9.60" height="9.56" fill="#a54ba1"/><rect x="428.54" y="379.73" width="13.60" height="9.56" fill="#994ca2"/><rect x="73.35" y="388.69" width="13.60" height="9.56" fill="#b54aa0"/><rect x="86.36" y="388.69" width="9.60" height="9.56" fill="#b44aa0"/><rect x="95.36" y="388.69" width="9.60" height="9.56" fill="#b14aa0"/><rect x="104.37" y="388.69" width="9.60" height="9.56" fill="#ac4ba1"/><rect x="113.37" y="388.69" width="27.61" height="9.56" fill="#b54aa0"/><rect x="140.38" y="388.69" width="9.60" height="9.56" fill="#ac4ba1"/><rect x="149.39" y="388.69" width="9.60" height="9.56" fill="#b54aa0"/><rect x="158.39" y="388.69" width="9.60" height="9.56" fill="#a64ba1"/><rect x="167.40" y="388.69" width="9.60" height="9.56" fill="#b54aa0"/><rect x="176.40" y="388.69" width="9.60" height="9.56" fill="#994ca2"/><rect x="185.41" y="388.69" width="9.60" height="9.56" fill="#ae4aa0"/><rect x="194.41" y="388.69" width="9.60" height="9.56" fill="#aa4ba1"/><rect x="203.42" y="388.69" width="9.60" height="9.56" fill="#b54aa0"/><rect x="212.42" y="388.69" width="9.60" height="9.56" fill="#a94ba1"/><rect x="221.43" y="388.69" width="9.60" height="9.56" fill="#b54aa0"/><rect x="230.43" y="388.69" width="9.60" height="9.56" fill="#a94ba1"/><rect x="239.44" y="388.69" width="18.61" height="9.56" fill="#b54aa0"/><rect x="257.45" y="388.69" width="9.60" height="9.56" fill="#b44aa0"/><rect x="266.45" y="388.69" width="27.61" height="9.56" fill="#b54aa0"/><rect x="293.47" y="388.69" width="9.60" height="9.56" fill="#a34ba1"/><rect x="302.47" y="388.69" width="18.61" height="9.56" fill="#b54aa0"/><rect x="320.48" y="388.69" width="9.60" height="9.56" fill="#a64ba1"/><rect x="329.49" y="388.69" width="9.60" height="9.56" fill="#b54aa0"/><rect x="338.49" y="388.69" width="9.60" height="9.56" fill="#a94ba1"/><rect x="347.50" y="388.69" width="9.60" height="9.56" fill="#b44aa0"/><rect x="356.50" y="388.69" width="9.60" height="9.56" fill="#b54aa0"/><rect x="365.51" y="388.69" width="9.60" height="9.56" fill="#ad4ba1"/><rect x="374.51" y="388.69" width="9.60" height="9.56" fill="#b54aa0"/><rect x="383.52" y="388.69" width="9.60" height="9.56" fill="#a94ba1"/><rect x="392.52" y="388.69" width="9.60" height="9.56" fill="#b54aa0"/><rect x="401.53" y="388.69" width="9.60" height="9.56" fill="#ae4ba1"/><rect x="410.53" y="388.69" width="9.60" height="9.56" fill="#b14aa0"/><rect x="419.54" y="388.69" width="22.61" height="9.56" fill="#b54aa0"/><rect x="73.35" y="397.65" width="13.60" height="9.56" fill="#aa4ba1"/><rect x="86.36" y="397.65" width="9.60" height="9.56" fill="#b44aa0"/><rect x="95.36" y="397.65" width="9.60" height="9.56" fill="#ad4ba1"/><rect x="104.37" y="397.65" width="36.62" height="9.56" fill="#b54aa0"/><rect x="140.38" y="397.65" width="9.60" height="9.56" fill="#b04aa0"/><rect x="149.39" y="397.65" width="18.61" height="9.56" fill="#b54aa0"/><rect x="167.40" y="397.65" width="9.60" height="9.56" fill="#b04aa0"/><rect x="176.40" y="397.65" width="9.60" height="9.56" fill="#b44aa0"/><rect x="185.41" y="397.65" width="27.61" height="9.56" fill="#b54aa0"/><rect x="212.42" y="397.65" width="9.60" height="9.56" fill="#af4aa0"/><rect x="221.43" y="397.65" width="9.60" height="9.56" fill="#b54aa0"/><rect x="230.43" y="397.65" width="9.60" height="9.56" fill="#aa4ba1"/><rect x="239.44" y="397.65" width="9.60" height="9.56" fill="#ad4ba1"/><rect x="248.44" y="397.65" width="9.60" height="9.56" fill="#b44aa0"/><rect x="257.45" y="397.65" width="18.61" height="9.56" fill="#b54aa0"/><rect x="275.46" y="397.65" width="9.60" height="9.56" fill="#b24aa0"/><rect x="284.46" y="397.65" width="9.60" height="9.56" fill="#aa4ba1"/><rect x="293.47" y="397.65" width="9.60" height="9.56" fill="#b54aa0"/><rect x="302.47" y="397.65" width="9.60" height="9.56" fill="#b34aa0"/><rect x="311.48" y="397.65" width="45.62" height="9.56" fill="#b54aa0"/><rect x="356.50" y="397.65" width="9.60" height="9.56" fill="#b14aa0"/><rect x="365.51" y="397.65" width="9.60" height="9.56" fill="#b54aa0"/><rect x="374.51" y="397.65" width="9.60" height="9.56" fill="#b04aa0"/><rect x="383.52" y="397.65" width="27.61" height="9.56" fill="#b54aa0"/><rect x="410.53" y="397.65" width="9.60" height="9.56" fill="#a94ba1"/><rect x="419.54" y="397.65" width="22.61" height="9.56" fill="#b54aa0"/><rect x="73.35" y="406.61" width="13.60" height="9.56" fill="#b54aa0"/><rect x="86.36" y="406.61" width="9.60" height="9.56" fill="#b44aa0"/><rect x="95.36" y="406.61" width="9.60" height="9.56" fill="#b54aa0"/><rect x="104.37" y="406.61" width="9.60" height="9.56" fill="#af4aa0"/><rect x="113.37" y="406.61" width="9.60" height="9.56" fill="#ab4ba1"/><rect x="122.38" y="406.61" width="9.60" height="9.56" fill="#b54aa0"/><rect x="131.38" y="406.61" width="9.60" height="9.56" fill="#ae4ba1"/><rect x="140.38" y="406.61" width="18.61" height="9.56" fill="#ac4ba1"/><rect x="158.39" y="406.61" width="18.61" height="9.56" fill="#b54aa0"/><rect x="176.40" y="406.61" width="9.60" height="9.56" fill="#ac4ba1"/><rect x="185.41" y="406.61" width="9.60" height="9.56" fill="#ae4aa0"/><rect x="194.41" y="406.61" width="9.60" height="9.56" fill="#b24aa0"/><rect x="203.42" y="406.61" width="9.60" height="9.56" fill="#b44aa0"/><rect x="212.42" y="406.61" width="9.60" height="9.56" fill="#a14ba1"/><rect x="221.43" y="406.61" width="9.60" height="9.56" fill="#b34aa0"/><rect x="230.43" y="406.61" width="9.60" height="9.56" fill="#aa4ba1"/><rect x="239.44" y="406.61" width="9.60" height="9.56" fill="#a64ba1"/><rect x="248.44" y="406.61" width="9.60" height="9.56" fill="#a84ba1"/><rect x="257.45" y="406.61" width="9.60" height="9.56" fill="#b04aa0"/><rect x="266.45" y="406.61" width="9.60" height="9.56" fill="#b54aa0"/><rect x="275.46" y="406.61" width="9.60" height="9.56" fill="#ad4ba1"/><rect x="284.46" y="406.61" width="9.60" height="9.56" fill="#b04aa0"/><rect x="293.47" y="406.61" width="9.60" height="9.56" fill="#a74ba1"/><rect x="302.47" y="406.61" width="9.60" height="9.56" fill="#b14aa0"/><rect x="311.48" y="406.61" width="9.60" height="9.56" fill="#b54aa0"/><rect x="320.48" y="406.61" width="9.60" height="9.56" fill="#a34ba1"/><rect x="329.49" y="406.61" width="9.60" height="9.56" fill="#ab4ba1"/><rect x="338.49" y="406.61" width="9.60" height="9.56" fill="#b54aa0"/><rect x="347.50" y="406.61" width="9.60" height="9.56" fill="#a14ca2"/><rect x="356.50" y="406.61" width="9.60" height="9.56" fill="#ad4ba1"/><rect x="365.51" y="406.61" width="9.60" height="9.56" fill="#b54aa0"/><rect x="374.51" y="406.61" width="9.60" height="9.56" fill="#a14ba1"/><rect x="383.52" y="406.61" width="9.60" height="9.56" fill="#ad4ba1"/><rect x="392.52" y="406.61" width="9.60" height="9.56" fill="#b24aa0"/><rect x="401.53" y="406.61" width="9.60" height="9.56" fill="#b54aa0"/><rect x="410.53" y="406.61" width="9.60" height="9.56" fill="#a54ba1"/><rect x="419.54" y="406.61" width="22.61" height="9.56" fill="#b54aa0"/><rect x="73.35" y="415.57" width="22.61" height="9.56" fill="#b54aa0"/><rect x="95.36" y="415.57" width="9.60" height="9.56" fill="#ac4ba1"/><rect x="104.37" y="415.57" width="9.60" height="9.56" fill="#ad4ba1"/><rect x="113.37" y="415.57" width="9.60" height="9.56" fill="#954ea4"/><rect x="122.38" y="415.57" width="9.60" height="9.56" fill="#9b4ca2"/><rect x="131.38" y="415.57" width="9.60" height="9.56" fill="#9e4ca2"/><rect x="140.38" y="415.57" width="9.60" height="9.56" fill="#a34ba1"/><rect x="149.39" y="415.57" width="9.60" height="9.56" fill="#ae4aa0"/><rect x="158.39" y="415.57" width="9.60" height="9.56" fill="#9350a5"/><rect x="167.40" y="415.57" width="9.60" height="9.56" fill="#a24ba1"/><rect x="176.40" y="415.57" width="9.60" height="9.56" fill="#984da3"/><rect x="185.41" y="415.57" width="9.60" height="9.56" fill="#934fa4"/><rect x="194.41" y="415.57" width="9.60" height="9.56" fill="#ad4ba1"/><rect x="203.42" y="415.57" width="9.60" height="9.56" fill="#a14ba1"/><rect x="212.42" y="415.57" width="9.60" height="9.56" fill="#ab4ba1"/><rect x="221.43" y="415.57" width="9.60" height="9.56" fill="#a64ba1"/><rect x="230.43" y="415.57" width="9.60" height="9.56" fill="#944fa4"/><rect x="239.44" y="415.57" width="9.60" height="9.56" fill="#8955a8"/><rect x="248.44" y="415.57" width="9.60" height="9.56" fill="#a84ba1"/><rect x="257.45" y="415.57" width="9.60" height="9.56" fill="#974ea3"/><rect x="266.45" y="415.57" width="9.60" height="9.56" fill="#9051a6"/><rect x="275.46" y="415.57" width="9.60" height="9.56" fill="#a14ba1"/><rect x="284.46" y="415.57" width="9.60" height="9.56" fill="#9f4ca2"/><rect x="293.47" y="415.57" width="9.60" height="9.56" fill="#9a4ca2"/><rect x="302.47" y="415.57" width="9.60" height="9.56" fill="#9d4ca2"/><rect x="311.48" y="415.57" width="18.61" height="9.56" fill="#a34ba1"/><rect x="329.49" y="415.57" width="9.60" height="9.56" fill="#aa4ba1"/><rect x="338.49" y="415.57" width="9.60" height="9.56" fill="#a14ba1"/><rect x="347.50" y="415.57" width="9.60" height="9.56" fill="#a24ba1"/><rect x="356.50" y="415.57" width="9.60" height="9.56" fill="#ab4ba1"/><rect x="365.51" y="415.57" width="9.60" height="9.56" fill="#a94ba1"/><rect x="374.51" y="415.57" width="9.60" height="9.56" fill="#b14aa0"/><rect x="383.52" y="415.57" width="9.60" height="9.56" fill="#a54ba1"/><rect x="392.52" y="415.57" width="9.60" height="9.56" fill="#a74ba1"/><rect x="401.53" y="415.57" width="9.60" height="9.56" fill="#9d4ca2"/><rect x="410.53" y="415.57" width="9.60" height="9.56" fill="#b54aa0"/><rect x="419.54" y="415.57" width="9.60" height="9.56" fill="#9b4ca2"/><rect x="428.54" y="415.57" width="13.60" height="9.56" fill="#ac4ba1"/><rect x="73.35" y="424.53" width="13.60" height="9.56" fill="#9151a5"/><rect x="86.36" y="424.53" width="9.60" height="9.56" fill="#a04ca2"/><rect x="95.36" y="424.53" width="9.60" height="9.56" fill="#a44ba1"/><rect x="104.37" y="424.53" width="9.60" height="9.56" fill="#8358aa"/><rect x="113.37" y="424.53" width="9.60" height="9.56" fill="#984da3"/><rect x="122.38" y="424.53" width="9.60" height="9.56" fill="#805aac"/><rect x="131.38" y="424.53" width="9.60" height="9.56" fill="#a64ba1"/><rect x="140.38" y="424.53" width="9.60" height="9.56" fill="#9151a5"/><rect x="149.39" y="424.53" width="9.60" height="9.56" fill="#805aac"/><rect x="158.39" y="424.53" width="9.60" height="9.56" fill="#8b54a8"/><rect x="167.40" y="424.53" width="18.61" height="9.56" fill="#a04ca2"/><rect x="185.41" y="424.53" width="9.60" height="9.56" fill="#9c4ca2"/><rect x="194.41" y="424.53" width="9.60" height="9.56" fill="#8259ab"/><rect x="203.42" y="424.53" width="9.60" height="9.56" fill="#8756a9"/><rect x="212.42" y="424.53" width="9.60" height="9.56" fill="#994ca2"/><rect x="221.43" y="424.53" width="9.60" height="9.56" fill="#7c5cad"/><rect x="230.43" y="424.53" width="9.60" height="9.56" fill="#7e5bac"/><rect x="239.44" y="424.53" width="9.60" height="9.56" fill="#7760b0"/><rect x="248.44" y="424.53" width="9.60" height="9.56" fill="#7463b1"/><rect x="257.45" y="424.53" width="9.60" height="9.56" fill="#8955a8"/><rect x="266.45" y="424.53" width="9.60" height="9.56" fill="#8657a9"/><rect x="275.46" y="424.53" width="9.60" height="9.56" fill="#8656a9"/><rect x="284.46" y="424.53" width="9.60" height="9.56" fill="#8b54a8"/><rect x="293.47" y="424.53" width="9.60" height="9.56" fill="#9250a5"/><rect x="302.47" y="424.53" width="9.60" height="9.56" fill="#9b4ca2"/><rect x="311.48" y="424.53" width="9.60" height="9.56" fill="#8b54a7"/><rect x="320.48" y="424.53" width="9.60" height="9.56" fill="#8a55a8"/><rect x="329.49" y="424.53" width="9.60" height="9.56" fill="#8358aa"/><rect x="338.49" y="424.53" width="9.60" height="9.56" fill="#9e4ca2"/><rect x="347.50" y="424.53" width="9.60" height="9.56" fill="#8d53a7"/><rect x="356.50" y="424.53" width="9.60" height="9.56" fill="#8159ab"/><rect x="365.51" y="424.53" width="9.60" height="9.56" fill="#944fa4"/><rect x="374.51" y="424.53" width="9.60" height="9.56" fill="#994ca2"/><rect x="383.52" y="424.53" width="9.60" height="9.56" fill="#a24ba1"/><rect x="392.52" y="424.53" width="9.60" height="9.56" fill="#a54ba1"/><rect x="401.53" y="424.53" width="18.61" height="9.56" fill="#9151a5"/><rect x="419.54" y="424.53" width="9.60" height="9.56" fill="#994ca2"/><rect x="428.54" y="424.53" width="13.60" height="9.56" fill="#8b54a7"/><rect x="73.35" y="433.49" width="13.60" height="9.56" fill="#8856a9"/><rect x="86.36" y="433.49" width="9.60" height="9.56" fill="#9052a6"/><rect x="95.36" y="433.49" width="9.60" height="9.56" fill="#8756a9"/><rect x="104.37" y="433.49" width="9.60" height="9.56" fill="#7066b4"/><rect x="113.37" y="433.49" width="9.60" height="9.56" fill="#7463b1"/><rect x="122.38" y="433.49" width="9.60" height="9.56" fill="#954fa4"/><rect x="131.38" y="433.49" width="9.60" height="9.56" fill="#7463b1"/><rect x="140.38" y="433.49" width="9.60" height="9.56" fill="#8955a8"/><rect x="149.39" y="433.49" width="9.60" height="9.56" fill="#8557aa"/><rect x="158.39" y="433.49" width="9.60" height="9.56" fill="#7760af"/><rect x="167.40" y="433.49" width="9.60" height="9.56" fill="#6f67b4"/><rect x="176.40" y="433.49" width="9.60" height="9.56" fill="#795eaf"/><rect x="185.41" y="433.49" width="9.60" height="9.56" fill="#6c69b5"/><rect x="194.41" y="433.49" width="9.60" height="9.56" fill="#7165b3"/><rect x="203.42" y="433.49" width="9.60" height="9.56" fill="#7265b3"/><rect x="212.42" y="433.49" width="9.60" height="9.56" fill="#6770ba"/><rect x="221.43" y="433.49" width="9.60" height="9.56" fill="#6a6cb7"/><rect x="230.43" y="433.49" width="9.60" height="9.56" fill="#6671bb"/><rect x="239.44" y="433.49" width="9.60" height="9.56" fill="#5a84c8"/><rect x="248.44" y="433.49" width="9.60" height="9.56" fill="#6377bf"/><rect x="257.45" y="433.49" width="9.60" height="9.56" fill="#5e7ec4"/><rect x="266.45" y="433.49" width="9.60" height="9.56" fill="#4798d5"/><rect x="275.46" y="433.49" width="9.60" height="9.56" fill="#6671bb"/><rect x="284.46" y="433.49" width="9.60" height="9.56" fill="#696db8"/><rect x="293.47" y="433.49" width="9.60" height="9.56" fill="#686eb9"/><rect x="302.47" y="433.49" width="9.60" height="9.56" fill="#5886c9"/><rect x="311.48" y="433.49" width="9.60" height="9.56" fill="#7a5dae"/><rect x="320.48" y="433.49" width="9.60" height="9.56" fill="#7c5cad"/><rect x="329.49" y="433.49" width="9.60" height="9.56" fill="#7e5bac"/><rect x="338.49" y="433.49" width="9.60" height="9.56" fill="#7c5cad"/><rect x="347.50" y="433.49" width="9.60" height="9.56" fill="#6d68b5"/><rect x="356.50" y="433.49" width="9.60" height="9.56" fill="#7e5bac"/><rect x="365.51" y="433.49" width="9.60" height="9.56" fill="#7463b1"/><rect x="374.51" y="433.49" width="9.60" height="9.56" fill="#9e4ca2"/><rect x="383.52" y="433.49" width="9.60" height="9.56" fill="#7b5dae"/><rect x="392.52" y="433.49" width="9.60" height="9.56" fill="#8e52a6"/><rect x="401.53" y="433.49" width="9.60" height="9.56" fill="#7066b3"/><rect x="410.53" y="433.49" width="9.60" height="9.56" fill="#7661b0"/><rect x="419.54" y="433.49" width="9.60" height="9.56" fill="#7f5aac"/><rect x="428.54" y="433.49" width="13.60" height="9.56" fill="#954fa4"/><rect x="73.35" y="442.45" width="13.60" height="9.56" fill="#7d5cad"/><rect x="86.36" y="442.45" width="9.60" height="9.56" fill="#785faf"/><rect x="95.36" y="442.45" width="9.60" height="9.56" fill="#528dce"/><rect x="104.37" y="442.45" width="9.60" height="9.56" fill="#805aac"/><rect x="113.37" y="442.45" width="9.60" height="9.56" fill="#6376be"/><rect x="122.38" y="442.45" width="9.60" height="9.56" fill="#8358ab"/><rect x="131.38" y="442.45" width="9.60" height="9.56" fill="#8458aa"/><rect x="140.38" y="442.45" width="18.61" height="9.56" fill="#7462b1"/><rect x="158.39" y="442.45" width="9.60" height="9.56" fill="#4c93d2"/><rect x="167.40" y="442.45" width="9.60" height="9.56" fill="#8259ab"/><rect x="176.40" y="442.45" width="9.60" height="9.56" fill="#6474bd"/><rect x="185.41" y="442.45" width="9.60" height="9.56" fill="#6b6ab6"/><rect x="194.41" y="442.45" width="9.60" height="9.56" fill="#40a0da"/><rect x="203.42" y="442.45" width="9.60" height="9.56" fill="#5589cb"/><rect x="212.42" y="442.45" width="9.60" height="9.56" fill="#30b5e5"/><rect x="221.43" y="442.45" width="9.60" height="9.56" fill="#3fa2db"/><rect x="230.43" y="442.45" width="9.60" height="9.56" fill="#40a1da"/><rect x="239.44" y="442.45" width="9.60" height="9.56" fill="#40a0da"/><rect x="248.44" y="442.45" width="9.60" height="9.56" fill="#5b83c7"/><rect x="257.45" y="442.45" width="18.61" height="9.56" fill="#40a1da"/><rect x="275.46" y="442.45" width="9.60" height="9.56" fill="#41a0da"/><rect x="284.46" y="442.45" width="9.60" height="9.56" fill="#6a6bb7"/><rect x="293.47" y="442.45" width="9.60" height="9.56" fill="#3ca6dd"/><rect x="302.47" y="442.45" width="9.60" height="9.56" fill="#676fba"/><rect x="311.48" y="442.45" width="9.60" height="9.56" fill="#2fbce6"/><rect x="320.48" y="442.45" width="9.60" height="9.56" fill="#4799d5"/><rect x="329.49" y="442.45" width="9.60" height="9.56" fill="#6770ba"/><rect x="338.49" y="442.45" width="9.60" height="9.56" fill="#6278c0"/><rect x="347.50" y="442.45" width="9.60" height="9.56" fill="#8b54a8"/><rect x="356.50" y="442.45" width="9.60" height="9.56" fill="#8856a9"/><rect x="365.51" y="442.45" width="9.60" height="9.56" fill="#4c93d2"/><rect x="374.51" y="442.45" width="9.60" height="9.56" fill="#5e7fc4"/><rect x="383.52" y="442.45" width="9.60" height="9.56" fill="#6d69b5"/><rect x="392.52" y="442.45" width="9.60" height="9.56" fill="#8756a9"/><rect x="401.53" y="442.45" width="9.60" height="9.56" fill="#805aac"/><rect x="410.53" y="442.45" width="9.60" height="9.56" fill="#7760b0"/><rect x="419.54" y="442.45" width="9.60" height="9.56" fill="#607cc2"/><rect x="428.54" y="442.45" width="13.60" height="9.56" fill="#6a6bb7"/><rect x="73.35" y="451.41" width="13.60" height="9.56" fill="#43c1db"/><rect x="86.36" y="451.41" width="9.60" height="9.56" fill="#34b0e2"/><rect x="95.36" y="451.41" width="9.60" height="9.56" fill="#696db8"/><rect x="104.37" y="451.41" width="9.60" height="9.56" fill="#6c69b5"/><rect x="113.37" y="451.41" width="9.60" height="9.56" fill="#32b2e4"/><rect x="122.38" y="451.41" width="9.60" height="9.56" fill="#5d7fc5"/><rect x="131.38" y="451.41" width="9.60" height="9.56" fill="#7066b3"/><rect x="140.38" y="451.41" width="9.60" height="9.56" fill="#5886c9"/><rect x="149.39" y="451.41" width="9.60" height="9.56" fill="#3ea3dc"/><rect x="158.39" y="451.41" width="9.60" height="9.56" fill="#5b83c7"/><rect x="167.40" y="451.41" width="9.60" height="9.56" fill="#518ece"/><rect x="176.40" y="451.41" width="9.60" height="9.56" fill="#3aa8de"/><rect x="185.41" y="451.41" width="9.60" height="9.56" fill="#2ebce6"/><rect x="194.41" y="451.41" width="9.60" height="9.56" fill="#30bce5"/><rect x="203.42" y="451.41" width="9.60" height="9.56" fill="#2db8e7"/><rect x="212.42" y="451.41" width="9.60" height="9.56" fill="#3cbfdf"/><rect x="221.43" y="451.41" width="9.60" height="9.56" fill="#3da4dc"/><rect x="230.43" y="451.41" width="9.60" height="9.56" fill="#30b4e5"/><rect x="239.44" y="451.41" width="9.60" height="9.56" fill="#30b5e5"/><rect x="248.44" y="451.41" width="9.60" height="9.56" fill="#3da4dd"/><rect x="257.45" y="451.41" width="9.60" height="9.56" fill="#35afe2"/><rect x="266.45" y="451.41" width="9.60" height="9.56" fill="#36ade1"/><rect x="275.46" y="451.41" width="9.60" height="9.56" fill="#30bce5"/><rect x="284.46" y="451.41" width="9.60" height="9.56" fill="#38bee1"/><rect x="293.47" y="451.41" width="9.60" height="9.56" fill="#5e7dc3"/><rect x="302.47" y="451.41" width="9.60" height="9.56" fill="#3abee0"/><rect x="311.48" y="451.41" width="9.60" height="9.56" fill="#35bde3"/><rect x="320.48" y="451.41" width="9.60" height="9.56" fill="#36bee2"/><rect x="329.49" y="451.41" width="9.60" height="9.56" fill="#3da4dc"/><rect x="338.49" y="451.41" width="9.60" height="9.56" fill="#4d93d1"/><rect x="347.50" y="451.41" width="9.60" height="9.56" fill="#617ac1"/><rect x="356.50" y="451.41" width="9.60" height="9.56" fill="#419fd9"/><rect x="365.51" y="451.41" width="9.60" height="9.56" fill="#3abee0"/><rect x="374.51" y="451.41" width="9.60" height="9.56" fill="#5e7ec4"/><rect x="383.52" y="451.41" width="9.60" height="9.56" fill="#6a6bb7"/><rect x="392.52" y="451.41" width="18.61" height="9.56" fill="#5e7ec4"/><rect x="410.53" y="451.41" width="9.60" height="9.56" fill="#6b6ab6"/><rect x="419.54" y="451.41" width="9.60" height="9.56" fill="#785faf"/><rect x="428.54" y="451.41" width="13.60" height="9.56" fill="#6573bc"/><rect x="73.35" y="460.37" width="13.60" height="9.56" fill="#30bce5"/><rect x="86.36" y="460.37" width="9.60" height="9.56" fill="#3ba6de"/><rect x="95.36" y="460.37" width="9.60" height="9.56" fill="#4799d6"/><rect x="104.37" y="460.37" width="9.60" height="9.56" fill="#46c1d9"/><rect x="113.37" y="460.37" width="9.60" height="9.56" fill="#5d7fc5"/><rect x="122.38" y="460.37" width="9.60" height="9.56" fill="#2fbce6"/><rect x="131.38" y="460.37" width="9.60" height="9.56" fill="#4997d4"/><rect x="140.38" y="460.37" width="9.60" height="9.56" fill="#37abe0"/><rect x="149.39" y="460.37" width="9.60" height="9.56" fill="#2fbce6"/><rect x="158.39" y="460.37" width="9.60" height="9.56" fill="#5c81c6"/><rect x="167.40" y="460.37" width="9.60" height="9.56" fill="#3ebfde"/><rect x="176.40" y="460.37" width="9.60" height="9.56" fill="#44c1da"/><rect x="185.41" y="460.37" width="9.60" height="9.56" fill="#31bce5"/><rect x="194.41" y="460.37" width="9.60" height="9.56" fill="#2eb8e6"/><rect x="203.42" y="460.37" width="9.60" height="9.56" fill="#40c0dd"/><rect x="212.42" y="460.37" width="9.60" height="9.56" fill="#57c3ca"/><rect x="221.43" y="460.37" width="9.60" height="9.56" fill="#38bee1"/><rect x="230.43" y="460.37" width="9.60" height="9.56" fill="#3dbfde"/><rect x="239.44" y="460.37" width="9.60" height="9.56" fill="#33b1e3"/><rect x="248.44" y="460.37" width="9.60" height="9.56" fill="#51c3cf"/><rect x="257.45" y="460.37" width="9.60" height="9.56" fill="#4ac2d6"/><rect x="266.45" y="460.37" width="9.60" height="9.56" fill="#56c3cb"/><rect x="275.46" y="460.37" width="9.60" height="9.56" fill="#5fc5c2"/><rect x="284.46" y="460.37" width="9.60" height="9.56" fill="#45c1da"/><rect x="293.47" y="460.37" width="9.60" height="9.56" fill="#30bce5"/><rect x="302.47" y="460.37" width="9.60" height="9.56" fill="#55c3cc"/><rect x="311.48" y="460.37" width="9.60" height="9.56" fill="#4bc2d5"/><rect x="320.48" y="460.37" width="9.60" height="9.56" fill="#53c3ce"/><rect x="329.49" y="460.37" width="9.60" height="9.56" fill="#449cd7"/><rect x="338.49" y="460.37" width="9.60" height="9.56" fill="#40c0dd"/><rect x="347.50" y="460.37" width="9.60" height="9.56" fill="#38aadf"/><rect x="356.50" y="460.37" width="9.60" height="9.56" fill="#3ebfde"/><rect x="365.51" y="460.37" width="9.60" height="9.56" fill="#35afe2"/><rect x="374.51" y="460.37" width="9.60" height="9.56" fill="#2fbce6"/><rect x="383.52" y="460.37" width="9.60" height="9.56" fill="#5ac4c7"/><rect x="392.52" y="460.37" width="9.60" height="9.56" fill="#449cd8"/><rect x="401.53" y="460.37" width="9.60" height="9.56" fill="#5c81c6"/><rect x="410.53" y="460.37" width="9.60" height="9.56" fill="#4bc2d5"/><rect x="419.54" y="460.37" width="9.60" height="9.56" fill="#4d92d1"/><rect x="428.54" y="460.37" width="13.60" height="9.56" fill="#4799d5"/><rect x="73.35" y="469.33" width="13.60" height="9.56" fill="#2dbce7"/><rect x="86.36" y="469.33" width="9.60" height="9.56" fill="#3ca5dd"/><rect x="95.36" y="469.33" width="9.60" height="9.56" fill="#4fc2d1"/><rect x="104.37" y="469.33" width="9.60" height="9.56" fill="#459bd7"/><rect x="113.37" y="469.33" width="9.60" height="9.56" fill="#5f7dc3"/><rect x="122.38" y="469.33" width="9.60" height="9.56" fill="#47c1d9"/><rect x="131.38" y="469.33" width="9.60" height="9.56" fill="#2db8e7"/><rect x="140.38" y="469.33" width="9.60" height="9.56" fill="#5a84c8"/><rect x="149.39" y="469.33" width="9.60" height="9.56" fill="#2cbbe7"/><rect x="158.39" y="469.33" width="9.60" height="9.56" fill="#41c0dc"/><rect x="167.40" y="469.33" width="9.60" height="9.56" fill="#4ec2d3"/><rect x="176.40" y="469.33" width="9.60" height="9.56" fill="#37bee2"/><rect x="185.41" y="469.33" width="9.60" height="9.56" fill="#42c0dc"/><rect x="194.41" y="469.33" width="9.60" height="9.56" fill="#33bde4"/><rect x="203.42" y="469.33" width="9.60" height="9.56" fill="#5fc4c2"/><rect x="212.42" y="469.33" width="9.60" height="9.56" fill="#30bce5"/><rect x="221.43" y="469.33" width="9.60" height="9.56" fill="#52c3ce"/><rect x="230.43" y="469.33" width="9.60" height="9.56" fill="#40c0dd"/><rect x="239.44" y="469.33" width="9.60" height="9.56" fill="#5cc4c6"/><rect x="248.44" y="469.33" width="9.60" height="9.56" fill="#60c5c1"/><rect x="257.45" y="469.33" width="9.60" height="9.56" fill="#5ac4c8"/><rect x="266.45" y="469.33" width="9.60" height="9.56" fill="#5dc4c4"/><rect x="275.46" y="469.33" width="9.60" height="9.56" fill="#54c3cd"/><rect x="284.46" y="469.33" width="9.60" height="9.56" fill="#3dbfde"/><rect x="293.47" y="469.33" width="9.60" height="9.56" fill="#30bce5"/><rect x="302.47" y="469.33" width="9.60" height="9.56" fill="#41c0dc"/><rect x="311.48" y="469.33" width="9.60" height="9.56" fill="#4ec2d2"/><rect x="320.48" y="469.33" width="9.60" height="9.56" fill="#49c2d6"/><rect x="329.49" y="469.33" width="9.60" height="9.56" fill="#2cbbe7"/><rect x="338.49" y="469.33" width="9.60" height="9.56" fill="#3aa8df"/><rect x="347.50" y="469.33" width="9.60" height="9.56" fill="#3cbfdf"/><rect x="356.50" y="469.33" width="9.60" height="9.56" fill="#33bde4"/><rect x="365.51" y="469.33" width="9.60" height="9.56" fill="#40c0dd"/><rect x="374.51" y="469.33" width="9.60" height="9.56" fill="#34b0e2"/><rect x="383.52" y="469.33" width="9.60" height="9.56" fill="#5688cb"/><rect x="392.52" y="469.33" width="9.60" height="9.56" fill="#62c5be"/><rect x="401.53" y="469.33" width="9.60" height="9.56" fill="#459bd6"/><rect x="410.53" y="469.33" width="9.60" height="9.56" fill="#30b5e5"/><rect x="419.54" y="469.33" width="9.60" height="9.56" fill="#57c3cb"/><rect x="428.54" y="469.33" width="13.60" height="9.56" fill="#5c81c6"/><rect x="73.35" y="478.29" width="13.60" height="13.56" fill="#4897d4"/><rect x="86.36" y="478.29" width="9.60" height="13.56" fill="#5787ca"/><rect x="95.36" y="478.29" width="9.60" height="13.56" fill="#41c0dc"/><rect x="104.37" y="478.29" width="9.60" height="13.56" fill="#6f67b4"/><rect x="113.37" y="478.29" width="9.60" height="13.56" fill="#38abe0"/><rect x="122.38" y="478.29" width="9.60" height="13.56" fill="#2ebce6"/><rect x="131.38" y="478.29" width="9.60" height="13.56" fill="#5d7fc4"/><rect x="140.38" y="478.29" width="9.60" height="13.56" fill="#39a9df"/><rect x="149.39" y="478.29" width="9.60" height="13.56" fill="#39a8df"/><rect x="158.39" y="478.29" width="9.60" height="13.56" fill="#3ea3dc"/><rect x="167.40" y="478.29" width="9.60" height="13.56" fill="#61c5c0"/><rect x="176.40" y="478.29" width="9.60" height="13.56" fill="#449dd8"/><rect x="185.41" y="478.29" width="9.60" height="13.56" fill="#48c1d7"/><rect x="194.41" y="478.29" width="9.60" height="13.56" fill="#3cbfdf"/><rect x="203.42" y="478.29" width="9.60" height="13.56" fill="#31bce5"/><rect x="212.42" y="478.29" width="9.60" height="13.56" fill="#57c3cb"/><rect x="221.43" y="478.29" width="9.60" height="13.56" fill="#45c1da"/><rect x="230.43" y="478.29" width="9.60" height="13.56" fill="#3ebfde"/><rect x="239.44" y="478.29" width="9.60" height="13.56" fill="#50c2d1"/><rect x="248.44" y="478.29" width="9.60" height="13.56" fill="#47c1d8"/><rect x="257.45" y="478.29" width="9.60" height="13.56" fill="#62c5be"/><rect x="266.45" y="478.29" width="9.60" height="13.56" fill="#5fc4c2"/><rect x="275.46" y="478.29" width="9.60" height="13.56" fill="#5ec4c3"/><rect x="284.46" y="478.29" width="9.60" height="13.56" fill="#44c1db"/><rect x="293.47" y="478.29" width="9.60" height="13.56" fill="#6278c0"/><rect x="302.47" y="478.29" width="9.60" height="13.56" fill="#40c0dd"/><rect x="311.48" y="478.29" width="9.60" height="13.56" fill="#46c1d9"/><rect x="320.48" y="478.29" width="9.60" height="13.56" fill="#41c0dc"/><rect x="329.49" y="478.29" width="9.60" height="13.56" fill="#31b3e4"/><rect x="338.49" y="478.29" width="9.60" height="13.56" fill="#2fb6e5"/><rect x="347.50" y="478.29" width="9.60" height="13.56" fill="#51c3cf"/><rect x="356.50" y="478.29" width="9.60" height="13.56" fill="#3fa1db"/><rect x="365.51" y="478.29" width="9.60" height="13.56" fill="#2dbce7"/><rect x="374.51" y="478.29" width="9.60" height="13.56" fill="#459bd6"/><rect x="383.52" y="478.29" width="9.60" height="13.56" fill="#5bc4c7"/><rect x="392.52" y="478.29" width="9.60" height="13.56" fill="#4dc2d3"/><rect x="401.53" y="478.29" width="9.60" height="13.56" fill="#528ccd"/><rect x="410.53" y="478.29" width="9.60" height="13.56" fill="#4dc2d3"/><rect x="419.54" y="478.29" width="9.60" height="13.56" fill="#5886c9"/><rect x="428.54" y="478.29" width="13.60" height="13.56" fill="#5b82c7"/></g></g></g>
<rect x="77.4" y="308.1" width="360.2" height="179.2" fill="none" stroke="#2d5f6e" stroke-width="0.8"/>
<polyline points="77.4,334.9 84.9,332.6 92.4,336.1 99.9,336.8 107.4,336.8 114.9,337.6 122.4,340.4 129.9,339.7 137.4,339.9 144.9,340.3 152.4,340.1 159.9,341.4 167.4,341.7 174.9,343.2 182.4,342.4 190.0,342.0 197.5,344.0 205.0,345.6 212.5,347.6 220.0,347.2 227.5,346.4 235.0,347.6 242.5,347.8 250.0,349.1 257.5,349.2 265.0,348.0 272.5,348.8 280.0,347.9 287.5,347.0 295.0,346.7 302.5,347.3 310.0,345.2 317.5,344.1 325.0,344.4 332.6,341.9 340.1,343.1 347.6,341.3 355.1,340.6 362.6,340.7 370.1,341.3 377.6,338.9 385.1,339.5 392.6,338.5 400.1,336.6 407.6,337.8 415.1,335.9 422.6,334.8 430.1,334.8 437.6,331.3" fill="none" stroke="#fff" stroke-width="2.5" stroke-linejoin="round"/>
<polyline points="77.4,461.6 84.9,462.5 92.4,461.2 99.9,459.7 107.4,458.4 114.9,457.7 122.4,457.9 129.9,455.6 137.4,454.9 144.9,455.3 152.4,455.8 159.9,454.9 167.4,454.2 174.9,453.4 182.4,451.2 190.0,452.0 197.5,450.3 205.0,451.6 212.5,450.3 220.0,449.5 227.5,449.2 235.0,448.5 242.5,447.7 250.0,447.1 257.5,445.6 265.0,445.8 272.5,447.8 280.0,449.3 287.5,449.7 295.0,449.4 302.5,450.7 310.0,450.6 317.5,451.9 325.0,451.8 332.6,453.0 340.1,455.0 347.6,454.7 355.1,455.9 362.6,454.8 370.1,455.5 377.6,456.5 385.1,457.6 392.6,457.6 400.1,459.1 407.6,458.5 415.1,460.5 422.6,460.8 430.1,459.8 437.6,464.6" fill="none" stroke="#fff" stroke-width="2.5" stroke-linejoin="round"/>
<g stroke="#333" stroke-width="0.9"><line x1="107.3" y1="487.3" x2="107.3" y2="494.3"/><line x1="257.4" y1="487.3" x2="257.4" y2="494.3"/><line x1="407.5" y1="487.3" x2="407.5" y2="494.3"/><line x1="70.4" y1="337.9" x2="77.4" y2="337.9"/><line x1="70.4" y1="398.0" x2="77.4" y2="398.0"/><line x1="70.4" y1="458.1" x2="77.4" y2="458.1"/></g><text x="107.3" y="518.0" font-size="17.9" text-anchor="middle" fill="#231f20" >−5</text><text x="257.4" y="518.0" font-size="17.9" text-anchor="middle" fill="#231f20" >0</text><text x="407.5" y="518.0" font-size="17.9" text-anchor="middle" fill="#231f20" >5</text><text x="61.9" y="344.2" font-size="17.9" text-anchor="end" fill="#231f20" >−2</text><text x="61.9" y="404.3" font-size="17.9" text-anchor="end" fill="#231f20" >0</text><text x="61.9" y="464.4" font-size="17.9" text-anchor="end" fill="#231f20" >2</text>
<text x="257.5" y="543.5" font-size="17.9" text-anchor="middle" fill="#231f20" >Pulse delay Δ<tspan font-style="italic">t</tspan> (ps)</text>
<text transform="translate(32.5,398) rotate(-90)" font-size="17.9" text-anchor="middle" fill="#231f20">Δ<tspan font-style="italic">x</tspan> (µm)</text>
<rect x="448.3" y="340.6" width="15.3" height="111.5" fill="url(#cm)" stroke="#5a5a6a" stroke-width="0.6"/>
<text x="471.5" y="346.8" font-size="17.9" text-anchor="start" fill="#231f20" >1</text>
<text x="471.5" y="458.3" font-size="17.9" text-anchor="start" fill="#231f20" >0</text>
<text transform="translate(497.5,396.5) rotate(90)" font-size="17.9" text-anchor="middle" fill="#231f20">Δ<tspan font-style="italic">I</tspan><tspan font-size="12.5" dy="4.5">TE</tspan><tspan dy="-4.5"> (norm.)</tspan></text>
<text x="14.0" y="309.0" font-size="19.5" text-anchor="start" fill="#111" font-weight="bold">c</text>
<defs><linearGradient id="prof" gradientUnits="userSpaceOnUse" x1="0" y1="-5" x2="0" y2="5">
<stop offset="0.000" stop-color="#62c5be"/>
<stop offset="0.010" stop-color="#62c5be"/>
<stop offset="0.020" stop-color="#62c5be"/>
<stop offset="0.030" stop-color="#62c5be"/>
<stop offset="0.040" stop-color="#62c5be"/>
<stop offset="0.050" stop-color="#62c5be"/>
<stop offset="0.060" stop-color="#62c5be"/>
<stop offset="0.070" stop-color="#62c5be"/>
<stop offset="0.080" stop-color="#62c5be"/>
<stop offset="0.090" stop-color="#62c5be"/>
<stop offset="0.100" stop-color="#62c5be"/>
<stop offset="0.110" stop-color="#62c5be"/>
<stop offset="0.120" stop-color="#62c5be"/>
<stop offset="0.130" stop-color="#62c5be"/>
<stop offset="0.140" stop-color="#62c5be"/>
<stop offset="0.150" stop-color="#62c5be"/>
<stop offset="0.160" stop-color="#62c5be"/>
<stop offset="0.170" stop-color="#62c5bf"/>
<stop offset="0.180" stop-color="#61c5bf"/>
<stop offset="0.190" stop-color="#61c5bf"/>
<stop offset="0.200" stop-color="#61c5bf"/>
<stop offset="0.210" stop-color="#61c5c0"/>
<stop offset="0.220" stop-color="#60c5c1"/>
<stop offset="0.230" stop-color="#5fc5c1"/>
<stop offset="0.240" stop-color="#5fc4c3"/>
<stop offset="0.250" stop-color="#5ec4c4"/>
<stop offset="0.260" stop-color="#5cc4c5"/>
<stop offset="0.270" stop-color="#59c4c9"/>
<stop offset="0.280" stop-color="#54c3cd"/>
<stop offset="0.290" stop-color="#4ec2d3"/>
<stop offset="0.300" stop-color="#46c1d9"/>
<stop offset="0.310" stop-color="#3dbfde"/>
<stop offset="0.320" stop-color="#32bde4"/>
<stop offset="0.330" stop-color="#2fb5e5"/>
<stop offset="0.340" stop-color="#3ba6dd"/>
<stop offset="0.350" stop-color="#528ccd"/>
<stop offset="0.360" stop-color="#607bc2"/>
<stop offset="0.370" stop-color="#696db8"/>
<stop offset="0.380" stop-color="#7165b3"/>
<stop offset="0.390" stop-color="#795faf"/>
<stop offset="0.400" stop-color="#8259ab"/>
<stop offset="0.410" stop-color="#8c53a7"/>
<stop offset="0.420" stop-color="#964ea3"/>
<stop offset="0.430" stop-color="#9e4ca2"/>
<stop offset="0.440" stop-color="#a34ba1"/>
<stop offset="0.450" stop-color="#a84ba1"/>
<stop offset="0.460" stop-color="#ad4ba1"/>
<stop offset="0.470" stop-color="#b04aa0"/>
<stop offset="0.480" stop-color="#b34aa0"/>
<stop offset="0.490" stop-color="#b44aa0"/>
<stop offset="0.500" stop-color="#b54aa0"/>
<stop offset="0.510" stop-color="#b44aa0"/>
<stop offset="0.520" stop-color="#b34aa0"/>
<stop offset="0.530" stop-color="#b04aa0"/>
<stop offset="0.540" stop-color="#ad4ba1"/>
<stop offset="0.550" stop-color="#a84ba1"/>
<stop offset="0.560" stop-color="#a34ba1"/>
<stop offset="0.570" stop-color="#9e4ca2"/>
<stop offset="0.580" stop-color="#964ea3"/>
<stop offset="0.590" stop-color="#8c53a7"/>
<stop offset="0.600" stop-color="#8259ab"/>
<stop offset="0.610" stop-color="#795faf"/>
<stop offset="0.620" stop-color="#7165b3"/>
<stop offset="0.630" stop-color="#696db8"/>
<stop offset="0.640" stop-color="#607bc2"/>
<stop offset="0.650" stop-color="#528ccd"/>
<stop offset="0.660" stop-color="#3ba6dd"/>
<stop offset="0.670" stop-color="#2fb5e5"/>
<stop offset="0.680" stop-color="#32bde4"/>
<stop offset="0.690" stop-color="#3dbfde"/>
<stop offset="0.700" stop-color="#46c1d9"/>
<stop offset="0.710" stop-color="#4ec2d3"/>
<stop offset="0.720" stop-color="#54c3cd"/>
<stop offset="0.730" stop-color="#59c4c9"/>
<stop offset="0.740" stop-color="#5cc4c5"/>
<stop offset="0.750" stop-color="#5ec4c4"/>
<stop offset="0.760" stop-color="#5fc4c3"/>
<stop offset="0.770" stop-color="#5fc5c1"/>
<stop offset="0.780" stop-color="#60c5c1"/>
<stop offset="0.790" stop-color="#61c5c0"/>
<stop offset="0.800" stop-color="#61c5bf"/>
<stop offset="0.810" stop-color="#61c5bf"/>
<stop offset="0.820" stop-color="#61c5bf"/>
<stop offset="0.830" stop-color="#62c5bf"/>
<stop offset="0.840" stop-color="#62c5be"/>
<stop offset="0.850" stop-color="#62c5be"/>
<stop offset="0.860" stop-color="#62c5be"/>
<stop offset="0.870" stop-color="#62c5be"/>
<stop offset="0.880" stop-color="#62c5be"/>
<stop offset="0.890" stop-color="#62c5be"/>
<stop offset="0.900" stop-color="#62c5be"/>
<stop offset="0.910" stop-color="#62c5be"/>
<stop offset="0.920" stop-color="#62c5be"/>
<stop offset="0.930" stop-color="#62c5be"/>
<stop offset="0.940" stop-color="#62c5be"/>
<stop offset="0.950" stop-color="#62c5be"/>
<stop offset="0.960" stop-color="#62c5be"/>
<stop offset="0.970" stop-color="#62c5be"/>
<stop offset="0.980" stop-color="#62c5be"/>
<stop offset="0.990" stop-color="#62c5be"/>
<stop offset="1.000" stop-color="#62c5be"/>
</linearGradient><clipPath id="dclip"><rect x="603.1" y="308.1" width="361.2" height="179.4"/></clipPath></defs>
<g clip-path="url(#dclip)" shape-rendering="crispEdges">
<rect transform="translate(603.10,398) scale(1,37.799)" x="0" y="-5" width="3.41" height="10" fill="url(#prof)"/>
<rect transform="translate(606.11,398) scale(1,37.650)" x="0" y="-5" width="3.41" height="10" fill="url(#prof)"/>
<rect transform="translate(609.12,398) scale(1,37.500)" x="0" y="-5" width="3.41" height="10" fill="url(#prof)"/>
<rect transform="translate(612.13,398) scale(1,37.350)" x="0" y="-5" width="3.41" height="10" fill="url(#prof)"/>
<rect transform="translate(615.14,398) scale(1,37.199)" x="0" y="-5" width="3.41" height="10" fill="url(#prof)"/>
<rect transform="translate(618.15,398) scale(1,37.047)" x="0" y="-5" width="3.41" height="10" fill="url(#prof)"/>
<rect transform="translate(621.16,398) scale(1,36.895)" x="0" y="-5" width="3.41" height="10" fill="url(#prof)"/>
<rect transform="translate(624.17,398) scale(1,36.742)" x="0" y="-5" width="3.41" height="10" fill="url(#prof)"/>
<rect transform="translate(627.18,398) scale(1,36.589)" x="0" y="-5" width="3.41" height="10" fill="url(#prof)"/>
<rect transform="translate(630.19,398) scale(1,36.435)" x="0" y="-5" width="3.41" height="10" fill="url(#prof)"/>
<rect transform="translate(633.20,398) scale(1,36.280)" x="0" y="-5" width="3.41" height="10" fill="url(#prof)"/>
<rect transform="translate(636.21,398) scale(1,36.125)" x="0" y="-5" width="3.41" height="10" fill="url(#prof)"/>
<rect transform="translate(639.22,398) scale(1,35.969)" x="0" y="-5" width="3.41" height="10" fill="url(#prof)"/>
<rect transform="translate(642.23,398) scale(1,35.812)" x="0" y="-5" width="3.41" height="10" fill="url(#prof)"/>
<rect transform="translate(645.24,398) scale(1,35.655)" x="0" y="-5" width="3.41" height="10" fill="url(#prof)"/>
<rect transform="translate(648.25,398) scale(1,35.496)" x="0" y="-5" width="3.41" height="10" fill="url(#prof)"/>
<rect transform="translate(651.26,398) scale(1,35.338)" x="0" y="-5" width="3.41" height="10" fill="url(#prof)"/>
<rect transform="translate(654.27,398) scale(1,35.178)" x="0" y="-5" width="3.41" height="10" fill="url(#prof)"/>
<rect transform="translate(657.28,398) scale(1,35.018)" x="0" y="-5" width="3.41" height="10" fill="url(#prof)"/>
<rect transform="translate(660.29,398) scale(1,34.857)" x="0" y="-5" width="3.41" height="10" fill="url(#prof)"/>
<rect transform="translate(663.30,398) scale(1,34.695)" x="0" y="-5" width="3.41" height="10" fill="url(#prof)"/>
<rect transform="translate(666.31,398) scale(1,34.533)" x="0" y="-5" width="3.41" height="10" fill="url(#prof)"/>
<rect transform="translate(669.32,398) scale(1,34.369)" x="0" y="-5" width="3.41" height="10" fill="url(#prof)"/>
<rect transform="translate(672.33,398) scale(1,34.205)" x="0" y="-5" width="3.41" height="10" fill="url(#prof)"/>
<rect transform="translate(675.34,398) scale(1,34.040)" x="0" y="-5" width="3.41" height="10" fill="url(#prof)"/>
<rect transform="translate(678.35,398) scale(1,33.875)" x="0" y="-5" width="3.41" height="10" fill="url(#prof)"/>
<rect transform="translate(681.36,398) scale(1,33.708)" x="0" y="-5" width="3.41" height="10" fill="url(#prof)"/>
<rect transform="translate(684.37,398) scale(1,33.541)" x="0" y="-5" width="3.41" height="10" fill="url(#prof)"/>
<rect transform="translate(687.38,398) scale(1,33.373)" x="0" y="-5" width="3.41" height="10" fill="url(#prof)"/>
<rect transform="translate(690.39,398) scale(1,33.204)" x="0" y="-5" width="3.41" height="10" fill="url(#prof)"/>
<rect transform="translate(693.40,398) scale(1,33.034)" x="0" y="-5" width="3.41" height="10" fill="url(#prof)"/>
<rect transform="translate(696.41,398) scale(1,32.863)" x="0" y="-5" width="3.41" height="10" fill="url(#prof)"/>
<rect transform="translate(699.42,398) scale(1,32.692)" x="0" y="-5" width="3.41" height="10" fill="url(#prof)"/>
<rect transform="translate(702.43,398) scale(1,32.519)" x="0" y="-5" width="3.41" height="10" fill="url(#prof)"/>
<rect transform="translate(705.44,398) scale(1,32.346)" x="0" y="-5" width="3.41" height="10" fill="url(#prof)"/>
<rect transform="translate(708.45,398) scale(1,32.171)" x="0" y="-5" width="3.41" height="10" fill="url(#prof)"/>
<rect transform="translate(711.46,398) scale(1,31.996)" x="0" y="-5" width="3.41" height="10" fill="url(#prof)"/>
<rect transform="translate(714.47,398) scale(1,31.820)" x="0" y="-5" width="3.41" height="10" fill="url(#prof)"/>
<rect transform="translate(717.48,398) scale(1,31.643)" x="0" y="-5" width="3.41" height="10" fill="url(#prof)"/>
<rect transform="translate(720.49,398) scale(1,31.464)" x="0" y="-5" width="3.41" height="10" fill="url(#prof)"/>
<rect transform="translate(723.50,398) scale(1,31.285)" x="0" y="-5" width="3.41" height="10" fill="url(#prof)"/>
<rect transform="translate(726.51,398) scale(1,31.105)" x="0" y="-5" width="3.41" height="10" fill="url(#prof)"/>
<rect transform="translate(729.52,398) scale(1,30.923)" x="0" y="-5" width="3.41" height="10" fill="url(#prof)"/>
<rect transform="translate(732.53,398) scale(1,30.741)" x="0" y="-5" width="3.41" height="10" fill="url(#prof)"/>
<rect transform="translate(735.54,398) scale(1,30.557)" x="0" y="-5" width="3.41" height="10" fill="url(#prof)"/>
<rect transform="translate(738.55,398) scale(1,30.373)" x="0" y="-5" width="3.41" height="10" fill="url(#prof)"/>
<rect transform="translate(741.56,398) scale(1,30.187)" x="0" y="-5" width="3.41" height="10" fill="url(#prof)"/>
<rect transform="translate(744.57,398) scale(1,30.000)" x="0" y="-5" width="3.41" height="10" fill="url(#prof)"/>
<rect transform="translate(747.58,398) scale(1,29.812)" x="0" y="-5" width="3.41" height="10" fill="url(#prof)"/>
<rect transform="translate(750.59,398) scale(1,29.623)" x="0" y="-5" width="3.41" height="10" fill="url(#prof)"/>
<rect transform="translate(753.60,398) scale(1,29.432)" x="0" y="-5" width="3.41" height="10" fill="url(#prof)"/>
<rect transform="translate(756.61,398) scale(1,29.240)" x="0" y="-5" width="3.41" height="10" fill="url(#prof)"/>
<rect transform="translate(759.62,398) scale(1,29.047)" x="0" y="-5" width="3.41" height="10" fill="url(#prof)"/>
<rect transform="translate(762.63,398) scale(1,28.853)" x="0" y="-5" width="3.41" height="10" fill="url(#prof)"/>
<rect transform="translate(765.64,398) scale(1,28.657)" x="0" y="-5" width="3.41" height="10" fill="url(#prof)"/>
<rect transform="translate(768.65,398) scale(1,28.460)" x="0" y="-5" width="3.41" height="10" fill="url(#prof)"/>
<rect transform="translate(771.66,398) scale(1,28.262)" x="0" y="-5" width="3.41" height="10" fill="url(#prof)"/>
<rect transform="translate(774.67,398) scale(1,28.062)" x="0" y="-5" width="3.41" height="10" fill="url(#prof)"/>
<rect transform="translate(777.68,398) scale(1,27.861)" x="0" y="-5" width="3.41" height="10" fill="url(#prof)"/>
<rect transform="translate(780.69,398) scale(1,27.659)" x="0" y="-5" width="3.41" height="10" fill="url(#prof)"/>
<rect transform="translate(783.70,398) scale(1,27.659)" x="0" y="-5" width="3.41" height="10" fill="url(#prof)"/>
<rect transform="translate(786.71,398) scale(1,27.861)" x="0" y="-5" width="3.41" height="10" fill="url(#prof)"/>
<rect transform="translate(789.72,398) scale(1,28.062)" x="0" y="-5" width="3.41" height="10" fill="url(#prof)"/>
<rect transform="translate(792.73,398) scale(1,28.262)" x="0" y="-5" width="3.41" height="10" fill="url(#prof)"/>
<rect transform="translate(795.74,398) scale(1,28.460)" x="0" y="-5" width="3.41" height="10" fill="url(#prof)"/>
<rect transform="translate(798.75,398) scale(1,28.657)" x="0" y="-5" width="3.41" height="10" fill="url(#prof)"/>
<rect transform="translate(801.76,398) scale(1,28.853)" x="0" y="-5" width="3.41" height="10" fill="url(#prof)"/>
<rect transform="translate(804.77,398) scale(1,29.047)" x="0" y="-5" width="3.41" height="10" fill="url(#prof)"/>
<rect transform="translate(807.78,398) scale(1,29.240)" x="0" y="-5" width="3.41" height="10" fill="url(#prof)"/>
<rect transform="translate(810.79,398) scale(1,29.432)" x="0" y="-5" width="3.41" height="10" fill="url(#prof)"/>
<rect transform="translate(813.80,398) scale(1,29.623)" x="0" y="-5" width="3.41" height="10" fill="url(#prof)"/>
<rect transform="translate(816.81,398) scale(1,29.812)" x="0" y="-5" width="3.41" height="10" fill="url(#prof)"/>
<rect transform="translate(819.82,398) scale(1,30.000)" x="0" y="-5" width="3.41" height="10" fill="url(#prof)"/>
<rect transform="translate(822.83,398) scale(1,30.187)" x="0" y="-5" width="3.41" height="10" fill="url(#prof)"/>
<rect transform="translate(825.84,398) scale(1,30.373)" x="0" y="-5" width="3.41" height="10" fill="url(#prof)"/>
<rect transform="translate(828.85,398) scale(1,30.557)" x="0" y="-5" width="3.41" height="10" fill="url(#prof)"/>
<rect transform="translate(831.86,398) scale(1,30.741)" x="0" y="-5" width="3.41" height="10" fill="url(#prof)"/>
<rect transform="translate(834.87,398) scale(1,30.923)" x="0" y="-5" width="3.41" height="10" fill="url(#prof)"/>
<rect transform="translate(837.88,398) scale(1,31.105)" x="0" y="-5" width="3.41" height="10" fill="url(#prof)"/>
<rect transform="translate(840.89,398) scale(1,31.285)" x="0" y="-5" width="3.41" height="10" fill="url(#prof)"/>
<rect transform="translate(843.90,398) scale(1,31.464)" x="0" y="-5" width="3.41" height="10" fill="url(#prof)"/>
<rect transform="translate(846.91,398) scale(1,31.643)" x="0" y="-5" width="3.41" height="10" fill="url(#prof)"/>
<rect transform="translate(849.92,398) scale(1,31.820)" x="0" y="-5" width="3.41" height="10" fill="url(#prof)"/>
<rect transform="translate(852.93,398) scale(1,31.996)" x="0" y="-5" width="3.41" height="10" fill="url(#prof)"/>
<rect transform="translate(855.94,398) scale(1,32.171)" x="0" y="-5" width="3.41" height="10" fill="url(#prof)"/>
<rect transform="translate(858.95,398) scale(1,32.346)" x="0" y="-5" width="3.41" height="10" fill="url(#prof)"/>
<rect transform="translate(861.96,398) scale(1,32.519)" x="0" y="-5" width="3.41" height="10" fill="url(#prof)"/>
<rect transform="translate(864.97,398) scale(1,32.692)" x="0" y="-5" width="3.41" height="10" fill="url(#prof)"/>
<rect transform="translate(867.98,398) scale(1,32.863)" x="0" y="-5" width="3.41" height="10" fill="url(#prof)"/>
<rect transform="translate(870.99,398) scale(1,33.034)" x="0" y="-5" width="3.41" height="10" fill="url(#prof)"/>
<rect transform="translate(874.00,398) scale(1,33.204)" x="0" y="-5" width="3.41" height="10" fill="url(#prof)"/>
<rect transform="translate(877.01,398) scale(1,33.373)" x="0" y="-5" width="3.41" height="10" fill="url(#prof)"/>
<rect transform="translate(880.02,398) scale(1,33.541)" x="0" y="-5" width="3.41" height="10" fill="url(#prof)"/>
<rect transform="translate(883.03,398) scale(1,33.708)" x="0" y="-5" width="3.41" height="10" fill="url(#prof)"/>
<rect transform="translate(886.04,398) scale(1,33.875)" x="0" y="-5" width="3.41" height="10" fill="url(#prof)"/>
<rect transform="translate(889.05,398) scale(1,34.040)" x="0" y="-5" width="3.41" height="10" fill="url(#prof)"/>
<rect transform="translate(892.06,398) scale(1,34.205)" x="0" y="-5" width="3.41" height="10" fill="url(#prof)"/>
<rect transform="translate(895.07,398) scale(1,34.369)" x="0" y="-5" width="3.41" height="10" fill="url(#prof)"/>
<rect transform="translate(898.08,398) scale(1,34.533)" x="0" y="-5" width="3.41" height="10" fill="url(#prof)"/>
<rect transform="translate(901.09,398) scale(1,34.695)" x="0" y="-5" width="3.41" height="10" fill="url(#prof)"/>
<rect transform="translate(904.10,398) scale(1,34.857)" x="0" y="-5" width="3.41" height="10" fill="url(#prof)"/>
<rect transform="translate(907.11,398) scale(1,35.018)" x="0" y="-5" width="3.41" height="10" fill="url(#prof)"/>
<rect transform="translate(910.12,398) scale(1,35.178)" x="0" y="-5" width="3.41" height="10" fill="url(#prof)"/>
<rect transform="translate(913.13,398) scale(1,35.338)" x="0" y="-5" width="3.41" height="10" fill="url(#prof)"/>
<rect transform="translate(916.14,398) scale(1,35.496)" x="0" y="-5" width="3.41" height="10" fill="url(#prof)"/>
<rect transform="translate(919.15,398) scale(1,35.655)" x="0" y="-5" width="3.41" height="10" fill="url(#prof)"/>
<rect transform="translate(922.16,398) scale(1,35.812)" x="0" y="-5" width="3.41" height="10" fill="url(#prof)"/>
<rect transform="translate(925.17,398) scale(1,35.969)" x="0" y="-5" width="3.41" height="10" fill="url(#prof)"/>
<rect transform="translate(928.18,398) scale(1,36.125)" x="0" y="-5" width="3.41" height="10" fill="url(#prof)"/>
<rect transform="translate(931.19,398) scale(1,36.280)" x="0" y="-5" width="3.41" height="10" fill="url(#prof)"/>
<rect transform="translate(934.20,398) scale(1,36.435)" x="0" y="-5" width="3.41" height="10" fill="url(#prof)"/>
<rect transform="translate(937.21,398) scale(1,36.589)" x="0" y="-5" width="3.41" height="10" fill="url(#prof)"/>
<rect transform="translate(940.22,398) scale(1,36.742)" x="0" y="-5" width="3.41" height="10" fill="url(#prof)"/>
<rect transform="translate(943.23,398) scale(1,36.895)" x="0" y="-5" width="3.41" height="10" fill="url(#prof)"/>
<rect transform="translate(946.24,398) scale(1,37.047)" x="0" y="-5" width="3.41" height="10" fill="url(#prof)"/>
<rect transform="translate(949.25,398) scale(1,37.199)" x="0" y="-5" width="3.41" height="10" fill="url(#prof)"/>
<rect transform="translate(952.26,398) scale(1,37.350)" x="0" y="-5" width="3.41" height="10" fill="url(#prof)"/>
<rect transform="translate(955.27,398) scale(1,37.500)" x="0" y="-5" width="3.41" height="10" fill="url(#prof)"/>
<rect transform="translate(958.28,398) scale(1,37.650)" x="0" y="-5" width="3.41" height="10" fill="url(#prof)"/>
<rect transform="translate(961.29,398) scale(1,37.799)" x="0" y="-5" width="3.41" height="10" fill="url(#prof)"/>
</g>
<rect x="603.1" y="308.1" width="361.2" height="179.4" fill="none" stroke="#2d6a6e" stroke-width="0.9"/>
<polyline points="603.1,337.4 609.1,337.9 615.1,338.4 621.2,338.8 627.2,339.3 633.2,339.8 639.2,340.3 645.2,340.8 651.3,341.3 657.3,341.8 663.3,342.4 669.3,342.9 675.3,343.4 681.4,343.9 687.4,344.5 693.4,345.0 699.4,345.6 705.4,346.1 711.5,346.7 717.5,347.2 723.5,347.8 729.5,348.4 735.5,349.0 741.6,349.6 747.6,350.2 753.6,350.8 759.6,351.4 765.6,352.0 771.7,352.6 777.7,353.3 783.7,353.9 789.7,353.3 795.7,352.6 801.8,352.0 807.8,351.4 813.8,350.8 819.8,350.2 825.8,349.6 831.9,349.0 837.9,348.4 843.9,347.8 849.9,347.2 855.9,346.7 862.0,346.1 868.0,345.6 874.0,345.0 880.0,344.5 886.0,343.9 892.1,343.4 898.1,342.9 904.1,342.4 910.1,341.8 916.1,341.3 922.2,340.8 928.2,340.3 934.2,339.8 940.2,339.3 946.2,338.8 952.3,338.4 958.3,337.9 964.3,337.4" fill="none" stroke="#fff" stroke-width="2.7" stroke-linejoin="miter"/>
<polyline points="603.1,458.6 609.1,458.1 615.1,457.6 621.2,457.2 627.2,456.7 633.2,456.2 639.2,455.7 645.2,455.2 651.3,454.7 657.3,454.2 663.3,453.6 669.3,453.1 675.3,452.6 681.4,452.1 687.4,451.5 693.4,451.0 699.4,450.4 705.4,449.9 711.5,449.3 717.5,448.8 723.5,448.2 729.5,447.6 735.5,447.0 741.6,446.4 747.6,445.8 753.6,445.2 759.6,444.6 765.6,444.0 771.7,443.4 777.7,442.7 783.7,442.1 789.7,442.7 795.7,443.4 801.8,444.0 807.8,444.6 813.8,445.2 819.8,445.8 825.8,446.4 831.9,447.0 837.9,447.6 843.9,448.2 849.9,448.8 855.9,449.3 862.0,449.9 868.0,450.4 874.0,451.0 880.0,451.5 886.0,452.1 892.1,452.6 898.1,453.1 904.1,453.6 910.1,454.2 916.1,454.7 922.2,455.2 928.2,455.7 934.2,456.2 940.2,456.7 946.2,457.2 952.3,457.6 958.3,458.1 964.3,458.6" fill="none" stroke="#fff" stroke-width="2.7" stroke-linejoin="miter"/>
<g stroke="#333" stroke-width="0.9"><line x1="633.2" y1="487.5" x2="633.2" y2="494.5"/><line x1="783.7" y1="487.5" x2="783.7" y2="494.5"/><line x1="934.2" y1="487.5" x2="934.2" y2="494.5"/><line x1="596.1" y1="338.0" x2="603.1" y2="338.0"/><line x1="596.1" y1="398.0" x2="603.1" y2="398.0"/><line x1="596.1" y1="458.0" x2="603.1" y2="458.0"/></g><text x="633.2" y="518.0" font-size="17.9" text-anchor="middle" fill="#231f20" >−5</text><text x="783.7" y="518.0" font-size="17.9" text-anchor="middle" fill="#231f20" >0</text><text x="934.2" y="518.0" font-size="17.9" text-anchor="middle" fill="#231f20" >5</text><text x="587.6" y="344.3" font-size="17.9" text-anchor="end" fill="#231f20" >−2</text><text x="587.6" y="404.3" font-size="17.9" text-anchor="end" fill="#231f20" >0</text><text x="587.6" y="464.3" font-size="17.9" text-anchor="end" fill="#231f20" >2</text>
<text x="783.5" y="543.5" font-size="17.9" text-anchor="middle" fill="#231f20" >Pulse delay Δ<tspan font-style="italic">t</tspan> (ps)</text>
<text transform="translate(558.5,398) rotate(-90)" font-size="17.9" text-anchor="middle" fill="#231f20">Δ<tspan font-style="italic">x</tspan> (µm)</text>
<rect x="976.3" y="341" width="15.6" height="110.8" fill="url(#cm)" stroke="#5a5a6a" stroke-width="0.6"/>
<text x="999.0" y="346.8" font-size="17.9" text-anchor="start" fill="#231f20" >1</text>
<text x="999.0" y="458.3" font-size="17.9" text-anchor="start" fill="#231f20" >0</text>
<text transform="translate(1025,396.5) rotate(90)" font-size="17.9" text-anchor="middle" fill="#231f20">Δ<tspan font-style="italic">I</tspan><tspan font-size="12.5" dy="4.5">TE</tspan><tspan dy="-4.5"> (norm.)</tspan></text>
<text x="536.0" y="309.0" font-size="19.5" text-anchor="start" fill="#111" font-weight="bold">d</text>
<defs><linearGradient id="bandg" gradientUnits="userSpaceOnUse" x1="489" y1="0" x2="551" y2="0">
<stop offset="0" stop-color="#8cc8e8"/>
<stop offset="0.024" stop-color="#8cc8e8"/>
<stop offset="0.07" stop-color="#b5b6ba"/>
<stop offset="0.105" stop-color="#ebab9c"/>
<stop offset="0.895" stop-color="#ebab9c"/>
<stop offset="0.93" stop-color="#b5b6ba"/>
<stop offset="0.976" stop-color="#8cc8e8"/>
<stop offset="1" stop-color="#8cc8e8"/>
</linearGradient>
<linearGradient id="redL" gradientUnits="userSpaceOnUse" x1="0" y1="985" x2="0" y2="685"><stop offset="0" stop-color="#e0383a" stop-opacity="1"/><stop offset="0.35" stop-color="#e8504c" stop-opacity="0.85"/><stop offset="0.8" stop-color="#f08a84" stop-opacity="0.5"/><stop offset="1" stop-color="#f4a8a4" stop-opacity="0"/></linearGradient>
<clipPath id="eclip"><rect x="80.2" y="611.2" width="879.1" height="406.2"/></clipPath>
</defs>
<rect x="80.2" y="611.2" width="879.1" height="39.3" fill="#8cc8e8"/>
<rect x="489" y="611.2" width="62" height="39.3" fill="url(#bandg)"/>
<path d="M497.7 688L509.6 840L519.4 984L530 829L540.6 688" fill="none" stroke="url(#redL)" stroke-width="1.3" stroke-linejoin="round"/>
<polyline points="79.9,900.3 84.3,900.9 88.7,901.4 93.1,902.0 97.5,902.6 101.9,903.1 106.3,903.7 110.7,904.3 115.1,904.8 119.5,905.4 123.8,906.0 128.2,906.5 132.6,907.1 137.0,907.6 141.4,908.2 145.8,908.8 150.2,909.3 154.6,909.9 159.0,910.5 163.4,911.1 167.8,911.6 172.2,912.2 176.6,912.8 181.0,913.3 185.4,913.9 189.8,914.5 194.2,915.1 198.6,915.7 203.0,916.2 207.4,916.8 211.7,917.4 216.1,918.0 220.5,918.6 224.9,919.2 229.3,919.8 233.7,920.4 238.1,921.0 242.5,921.6 246.9,922.2 251.3,922.8 255.7,923.4 260.1,924.0 264.5,924.6 268.9,925.2 273.3,925.9 277.7,926.5 282.1,927.1 286.5,927.8 290.9,928.4 295.3,929.1 299.6,929.7 304.0,930.4 308.4,931.0 312.8,931.7 317.2,932.4 321.6,933.1 326.0,933.8 330.4,934.5 334.8,935.2 339.2,936.0 343.6,936.7 348.0,937.5 352.4,938.2 356.8,939.0 361.2,939.8 365.6,940.6 370.0,941.4 374.4,942.3 378.8,943.1 383.2,944.0 387.5,944.9 391.9,945.8 396.3,946.7 400.7,947.6 405.1,948.6 409.5,949.5 413.9,950.5 418.3,951.5 422.7,952.6 427.1,953.6 431.5,954.7 435.9,955.8 440.3,956.9 444.7,958.1 449.1,959.2 453.5,960.4 457.9,961.6 462.3,962.8 466.7,964.1 471.1,965.3 475.4,966.6 479.8,967.9 484.2,969.2 488.6,970.5 493.0,971.8 497.4,973.2 501.8,974.5 506.2,975.9 510.6,977.2 515.0,978.6 519.4,980.0 523.8,978.6 528.2,977.2 532.6,975.9 537.0,974.5 541.4,973.2 545.8,971.8 550.2,970.5 554.6,969.2 559.0,967.9 563.4,966.6 567.7,965.3 572.1,964.1 576.5,962.8 580.9,961.6 585.3,960.4 589.7,959.2 594.1,958.1 598.5,956.9 602.9,955.8 607.3,954.7 611.7,953.6 616.1,952.6 620.5,951.5 624.9,950.5 629.3,949.5 633.7,948.6 638.1,947.6 642.5,946.7 646.9,945.8 651.2,944.9 655.6,944.0 660.0,943.1 664.4,942.3 668.8,941.4 673.2,940.6 677.6,939.8 682.0,939.0 686.4,938.2 690.8,937.5 695.2,936.7 699.6,936.0 704.0,935.2 708.4,934.5 712.8,933.8 717.2,933.1 721.6,932.4 726.0,931.7 730.4,931.0 734.8,930.4 739.1,929.7 743.5,929.1 747.9,928.4 752.3,927.8 756.7,927.1 761.1,926.5 765.5,925.9 769.9,925.2 774.3,924.6 778.7,924.0 783.1,923.4 787.5,922.8 791.9,922.2 796.3,921.6 800.7,921.0 805.1,920.4 809.5,919.8 813.9,919.2 818.3,918.6 822.7,918.0 827.0,917.4 831.4,916.8 835.8,916.2 840.2,915.7 844.6,915.1 849.0,914.5 853.4,913.9 857.8,913.3 862.2,912.8 866.6,912.2 871.0,911.6 875.4,911.1 879.8,910.5 884.2,909.9 888.6,909.3 893.0,908.8 897.4,908.2 901.8,907.6 906.2,907.1 910.6,906.5 915.0,906.0 919.3,905.4 923.7,904.8 928.1,904.3 932.5,903.7 936.9,903.1 941.3,902.6 945.7,902.0 950.1,901.4 954.5,900.9 958.9,900.3" fill="none" stroke="#2e4f9e" stroke-width="2.4" stroke-dasharray="9.5 6.5" clip-path="url(#eclip)"/>
<path d="M316.5 917.7L519.4 979.6L722.4 917.7" fill="none" stroke="#1a1a1a" stroke-width="2.4" stroke-dasharray="14 4 2.5 4" stroke-linejoin="miter"/>
<defs><linearGradient id="fd1" gradientUnits="userSpaceOnUse" x1="462.0" y1="0" x2="488.0" y2="0"><stop offset="0" stop-color="#6d1b6e" stop-opacity="1"/><stop offset="1" stop-color="#6d1b6e" stop-opacity="0"/></linearGradient></defs><path d="M80.0 693.2 L90.4 695.1 L100.8 697.1 L111.2 699.1 L121.6 701.1 L132.1 703.2 L142.5 705.3 L152.9 707.4 L163.3 709.5 L173.7 711.7 L184.1 713.9 L194.5 716.1 L204.9 718.4 L215.3 720.7 L225.7 723.0 L236.2 725.4 L246.6 727.7 L257.0 730.1 L267.4 732.6 L277.8 735.0 L288.2 737.5 L298.6 740.1 L309.0 742.6 L319.4 745.2 L329.8 747.8 L340.3 750.5 L350.7 753.1 L361.1 755.8 L371.5 758.6 L381.9 761.3 L392.3 764.1 L402.7 766.9 L413.1 769.8 L423.5 772.6 L433.9 775.5 L444.4 778.5 L454.8 781.4 L465.2 784.4 L475.6 787.4 L486.0 790.5" fill="none" stroke="url(#fd1)" stroke-width="3.0" clip-path="url(#eclip)"/>
<defs><linearGradient id="fd2" gradientUnits="userSpaceOnUse" x1="577.0" y1="0" x2="550.0" y2="0"><stop offset="0" stop-color="#6d1b6e" stop-opacity="1"/><stop offset="1" stop-color="#6d1b6e" stop-opacity="0"/></linearGradient></defs><path d="M551.0 791.0 L561.5 788.0 L571.9 785.1 L582.4 782.2 L592.9 779.3 L603.3 776.4 L613.8 773.6 L624.3 770.7 L634.8 767.9 L645.2 765.2 L655.7 762.4 L666.2 759.7 L676.6 757.0 L687.1 754.3 L697.6 751.6 L708.0 749.0 L718.5 746.3 L729.0 743.8 L739.4 741.2 L749.9 738.6 L760.4 736.1 L770.9 733.6 L781.3 731.1 L791.8 728.7 L802.3 726.2 L812.7 723.8 L823.2 721.4 L833.7 719.1 L844.1 716.7 L854.6 714.4 L865.1 712.1 L875.5 709.8 L886.0 707.6 L896.5 705.4 L907.0 703.2 L917.4 701.0 L927.9 698.8 L938.4 696.7 L948.8 694.6 L959.3 692.5" fill="none" stroke="url(#fd2)" stroke-width="3.0" clip-path="url(#eclip)"/>
<defs><linearGradient id="fm1" gradientUnits="userSpaceOnUse" x1="470.0" y1="0" x2="497.0" y2="0"><stop offset="0" stop-color="#a0309a" stop-opacity="1"/><stop offset="1" stop-color="#a0309a" stop-opacity="0"/></linearGradient></defs><path d="M80.0 755.5 L90.6 757.4 L101.3 759.3 L111.9 761.2 L122.6 763.2 L133.2 765.3 L143.8 767.4 L154.5 769.5 L165.1 771.7 L175.8 773.9 L186.4 776.2 L197.1 778.5 L207.7 780.8 L218.3 783.2 L229.0 785.7 L239.6 788.1 L250.3 790.7 L260.9 793.2 L271.5 795.9 L282.2 798.5 L292.8 801.2 L303.5 804.0 L314.1 806.8 L324.7 809.6 L335.4 812.5 L346.0 815.4 L356.7 818.4 L367.3 821.4 L377.9 824.4 L388.6 827.6 L399.2 830.7 L409.9 833.9 L420.5 837.1 L431.2 840.4 L441.8 843.7 L452.4 847.1 L463.1 850.5 L473.7 854.0 L484.4 857.5 L495.0 861.0" fill="none" stroke="url(#fm1)" stroke-width="2.9" clip-path="url(#eclip)"/>
<defs><linearGradient id="fm2" gradientUnits="userSpaceOnUse" x1="570.0" y1="0" x2="544.0" y2="0"><stop offset="0" stop-color="#a0309a" stop-opacity="1"/><stop offset="1" stop-color="#a0309a" stop-opacity="0"/></linearGradient></defs><path d="M545.5 861.0 L556.1 857.3 L566.7 853.6 L577.3 850.0 L587.9 846.5 L598.6 842.9 L609.2 839.5 L619.8 836.1 L630.4 832.8 L641.0 829.5 L651.6 826.2 L662.2 823.0 L672.8 819.9 L683.4 816.8 L694.0 813.8 L704.7 810.8 L715.3 807.9 L725.9 805.1 L736.5 802.2 L747.1 799.5 L757.7 796.8 L768.3 794.1 L778.9 791.5 L789.5 789.0 L800.1 786.5 L810.8 784.1 L821.4 781.7 L832.0 779.3 L842.6 777.1 L853.2 774.8 L863.8 772.7 L874.4 770.5 L885.0 768.5 L895.6 766.5 L906.2 764.5 L916.9 762.6 L927.5 760.7 L938.1 758.9 L948.7 757.2 L959.3 755.5" fill="none" stroke="url(#fm2)" stroke-width="2.9" clip-path="url(#eclip)"/>
<defs><linearGradient id="fl1" gradientUnits="userSpaceOnUse" x1="470.0" y1="0" x2="496.0" y2="0"><stop offset="0" stop-color="#b550ac" stop-opacity="1"/><stop offset="1" stop-color="#b550ac" stop-opacity="0"/></linearGradient></defs><path d="M80.0 758.4 L90.6 760.2 L101.2 762.1 L111.8 764.0 L122.5 765.9 L133.1 768.0 L143.7 770.0 L154.3 772.1 L164.9 774.3 L175.5 776.5 L186.2 778.8 L196.8 781.1 L207.4 783.5 L218.0 786.0 L228.6 788.4 L239.2 791.0 L249.8 793.6 L260.5 796.2 L271.1 798.9 L281.7 801.6 L292.3 804.4 L302.9 807.3 L313.5 810.2 L324.2 813.2 L334.8 816.2 L345.4 819.2 L356.0 822.3 L366.6 825.5 L377.2 828.7 L387.8 832.0 L398.5 835.3 L409.1 838.7 L419.7 842.1 L430.3 845.6 L440.9 849.1 L451.5 852.7 L462.2 856.3 L472.8 860.0 L483.4 863.7 L494.0 867.5" fill="none" stroke="url(#fl1)" stroke-width="2.9" clip-path="url(#eclip)"/>
<defs><linearGradient id="fl2" gradientUnits="userSpaceOnUse" x1="576.0" y1="0" x2="549.0" y2="0"><stop offset="0" stop-color="#b550ac" stop-opacity="1"/><stop offset="1" stop-color="#b550ac" stop-opacity="0"/></linearGradient></defs><path d="M551.0 866.8 L561.5 862.9 L571.9 859.0 L582.4 855.1 L592.9 851.4 L603.3 847.7 L613.8 844.0 L624.3 840.5 L634.8 836.9 L645.2 833.5 L655.7 830.1 L666.2 826.8 L676.6 823.5 L687.1 820.3 L697.6 817.1 L708.0 814.0 L718.5 811.0 L729.0 808.0 L739.4 805.1 L749.9 802.3 L760.4 799.5 L770.9 796.8 L781.3 794.1 L791.8 791.5 L802.3 789.0 L812.7 786.5 L823.2 784.1 L833.7 781.7 L844.1 779.4 L854.6 777.2 L865.1 775.0 L875.5 772.9 L886.0 770.8 L896.5 768.9 L907.0 766.9 L917.4 765.1 L927.9 763.3 L938.4 761.5 L948.8 759.8 L959.3 758.2" fill="none" stroke="url(#fl2)" stroke-width="2.9" clip-path="url(#eclip)"/>
<text transform="translate(222.0,697.0) rotate(12.6)" font-size="17.9" fill="#7a2a7c" font-style="italic"><tspan>D</tspan> = 1.6 × 10<tspan font-size="12" dy="-6.5">3</tspan><tspan dy="6.5"> cm</tspan><tspan font-size="12" dy="-6.5">2</tspan><tspan dy="6.5"> s</tspan><tspan font-size="12" dy="-6.5">−1</tspan></text>
<text transform="translate(203.5,751.0) rotate(12.6)" font-size="17.9" fill="#a03a9a" font-style="italic"><tspan>D</tspan> = 2.1 × 10<tspan font-size="12" dy="-6.5">3</tspan><tspan dy="6.5"> cm</tspan><tspan font-size="12" dy="-6.5">2</tspan><tspan dy="6.5"> s</tspan><tspan font-size="12" dy="-6.5">−1</tspan></text>
<text transform="translate(178.0,824.0) rotate(12.6)" font-size="17.9" fill="#bb6cb4" font-style="italic"><tspan>D</tspan> = 2.3 × 10<tspan font-size="12" dy="-6.5">3</tspan><tspan dy="6.5"> cm</tspan><tspan font-size="12" dy="-6.5">2</tspan><tspan dy="6.5"> s</tspan><tspan font-size="12" dy="-6.5">−1</tspan></text>
<text transform="translate(553.0,772.5) rotate(-36.3)" font-size="17.9" fill="#e0504c"><tspan font-style="italic">D</tspan> = 10<tspan font-size="12" dy="-6.5">5</tspan><tspan dy="6.5"> cm</tspan><tspan font-size="12" dy="-6.5">2</tspan><tspan dy="6.5"> s</tspan><tspan font-size="12" dy="-6.5">−1</tspan></text>
<text transform="translate(783.5,705.0) rotate(-12.2)" font-size="17.9" fill="#7a2a7c"><tspan>E</tspan><tspan font-size="12.5" dy="4.5">F</tspan><tspan dy="-4.5"> = 75 meV</tspan></text>
<text transform="translate(792.5,752.5) rotate(-12.3)" font-size="17.9" fill="#a03a9a"><tspan>E</tspan><tspan font-size="12.5" dy="4.5">F</tspan><tspan dy="-4.5"> = 130 meV</tspan></text>
<text transform="translate(811.0,820.5) rotate(-12.6)" font-size="17.9" fill="#bb6cb4"><tspan>E</tspan><tspan font-size="12.5" dy="4.5">F</tspan><tspan dy="-4.5"> = 190 meV</tspan></text>
<g stroke="#58595b" stroke-width="1" fill="none">
<line x1="167.8" y1="1017.4" x2="167.8" y2="1008.9"/>
<line x1="343.6" y1="1017.4" x2="343.6" y2="1008.9"/>
<line x1="519.4" y1="1017.4" x2="519.4" y2="1008.9"/>
<line x1="695.2" y1="1017.4" x2="695.2" y2="1008.9"/>
<line x1="871.0" y1="1017.4" x2="871.0" y2="1008.9"/>
<line x1="80.2" y1="882.3" x2="88.7" y2="882.3"/>
<line x1="80.2" y1="747.2" x2="88.7" y2="747.2"/>
</g>
<g clip-path="url(#eclip)">
<g fill="#b04ea6" stroke="#4a1450" stroke-width="1">
<circle cx="89.0" cy="747.5" r="6.8"/>
<circle cx="116.9" cy="768.4" r="6.8"/>
<circle cx="145.2" cy="753.2" r="6.8"/>
<circle cx="173.5" cy="773.6" r="6.8"/>
<circle cx="201.3" cy="776.5" r="6.8"/>
<circle cx="229.6" cy="790.6" r="6.8"/>
<circle cx="257.3" cy="809.4" r="6.8"/>
<circle cx="285.6" cy="812.5" r="6.8"/>
<circle cx="313.5" cy="798.2" r="6.8"/>
<circle cx="341.9" cy="826.1" r="6.8"/>
<circle cx="370.2" cy="841.1" r="6.8"/>
<circle cx="398.0" cy="833.6" r="6.8"/>
<circle cx="426.3" cy="838.6" r="6.8"/>
<circle cx="455.5" cy="839.7" r="6.8"/>
<circle cx="482.3" cy="847.6" r="6.8"/>
<circle cx="511.2" cy="851.0" r="6.8"/>
<circle cx="539.0" cy="850.6" r="6.8"/>
<circle cx="567.1" cy="858.5" r="6.8"/>
<circle cx="595.2" cy="848.8" r="6.8"/>
<circle cx="623.5" cy="838.1" r="6.8"/>
<circle cx="651.5" cy="828.4" r="6.8"/>
<circle cx="679.6" cy="812.5" r="6.8"/>
<circle cx="707.9" cy="828.6" r="6.8"/>
<circle cx="735.5" cy="797.8" r="6.8"/>
<circle cx="763.8" cy="790.6" r="6.8"/>
<circle cx="792.1" cy="788.8" r="6.8"/>
<circle cx="820.4" cy="788.3" r="6.8"/>
<circle cx="848.7" cy="756.2" r="6.8"/>
<circle cx="877.0" cy="764.5" r="6.8"/>
<circle cx="905.3" cy="757.7" r="6.8"/>
<circle cx="933.6" cy="739.6" r="6.8"/>
<circle cx="961.0" cy="764.1" r="6.8"/>
</g><g fill="#9c1f8c" stroke="#4a1450" stroke-width="1">
<rect x="78.5" y="739.0" width="13.4" height="13.4"/>
<rect x="106.3" y="744.7" width="13.4" height="13.4"/>
<rect x="134.2" y="771.9" width="13.4" height="13.4"/>
<rect x="162.3" y="763.9" width="13.4" height="13.4"/>
<rect x="190.6" y="757.1" width="13.4" height="13.4"/>
<rect x="218.9" y="778.9" width="13.4" height="13.4"/>
<rect x="247.2" y="790.2" width="13.4" height="13.4"/>
<rect x="275.0" y="794.1" width="13.4" height="13.4"/>
<rect x="303.6" y="783.9" width="13.4" height="13.4"/>
<rect x="331.3" y="798.6" width="13.4" height="13.4"/>
<rect x="359.4" y="799.3" width="13.4" height="13.4"/>
<rect x="387.7" y="817.1" width="13.4" height="13.4"/>
<rect x="415.6" y="817.8" width="13.4" height="13.4"/>
<rect x="443.9" y="835.5" width="13.4" height="13.4"/>
<rect x="471.7" y="830.3" width="13.4" height="13.4"/>
<rect x="500.0" y="839.8" width="13.4" height="13.4"/>
<rect x="528.6" y="830.7" width="13.4" height="13.4"/>
<rect x="556.3" y="837.1" width="13.4" height="13.4"/>
<rect x="584.6" y="824.6" width="13.4" height="13.4"/>
<rect x="612.5" y="810.4" width="13.4" height="13.4"/>
<rect x="640.8" y="802.0" width="13.4" height="13.4"/>
<rect x="669.1" y="794.1" width="13.4" height="13.4"/>
<rect x="697.1" y="817.8" width="13.4" height="13.4"/>
<rect x="725.0" y="808.3" width="13.4" height="13.4"/>
<rect x="753.2" y="791.8" width="13.4" height="13.4"/>
<rect x="781.5" y="774.8" width="13.4" height="13.4"/>
<rect x="809.8" y="763.5" width="13.4" height="13.4"/>
<rect x="837.9" y="780.0" width="13.4" height="13.4"/>
<rect x="866.2" y="757.4" width="13.4" height="13.4"/>
<rect x="894.5" y="751.7" width="13.4" height="13.4"/>
<rect x="922.4" y="732.9" width="13.4" height="13.4"/>
<rect x="950.8" y="728.4" width="13.4" height="13.4"/>
</g><g fill="#66146a" stroke="#4a0e50" stroke-width="0.6">
<path d="M90.4 683.6l7.2 14.2h-14.4z"/>
<path d="M118.5 658.9l7.2 14.2h-14.4z"/>
<path d="M146.8 687.5l7.2 14.2h-14.4z"/>
<path d="M175.1 697.0l7.2 14.2h-14.4z"/>
<path d="M203.1 703.1l7.2 14.2h-14.4z"/>
<path d="M231.2 699.7l7.2 14.2h-14.4z"/>
<path d="M259.1 719.4l7.2 14.2h-14.4z"/>
<path d="M287.1 725.7l7.2 14.2h-14.4z"/>
<path d="M315.4 732.5l7.2 14.2h-14.4z"/>
<path d="M343.7 745.7l7.2 14.2h-14.4z"/>
<path d="M371.8 747.7l7.2 14.2h-14.4z"/>
<path d="M400.1 752.2l7.2 14.2h-14.4z"/>
<path d="M428.2 755.2l7.2 14.2h-14.4z"/>
<path d="M456.0 773.7l7.2 14.2h-14.4z"/>
<path d="M484.1 768.2l7.2 14.2h-14.4z"/>
<path d="M512.4 781.9l7.2 14.2h-14.4z"/>
<path d="M540.8 778.8l7.2 14.2h-14.4z"/>
<path d="M568.7 778.8l7.2 14.2h-14.4z"/>
<path d="M596.9 777.1l7.2 14.2h-14.4z"/>
<path d="M625.3 759.7l7.2 14.2h-14.4z"/>
<path d="M653.1 762.0l7.2 14.2h-14.4z"/>
<path d="M681.2 741.6l7.2 14.2h-14.4z"/>
<path d="M709.3 738.2l7.2 14.2h-14.4z"/>
<path d="M737.5 732.5l7.2 14.2h-14.4z"/>
<path d="M765.6 720.1l7.2 14.2h-14.4z"/>
<path d="M793.7 715.5l7.2 14.2h-14.4z"/>
<path d="M822.0 709.9l7.2 14.2h-14.4z"/>
<path d="M850.3 703.1l7.2 14.2h-14.4z"/>
<path d="M878.1 699.7l7.2 14.2h-14.4z"/>
<path d="M906.4 695.2l7.2 14.2h-14.4z"/>
<path d="M934.7 698.6l7.2 14.2h-14.4z"/>
<path d="M962.5 685.9l7.2 14.2h-14.4z"/>
</g></g>
<g stroke="#58595b" stroke-width="1" fill="none">
<path d="M80.2 611.2H959.3V1017.4H80.2Z"/>
</g>
<text x="167.8" y="1040.2" font-size="17.9" text-anchor="middle" fill="#231f20" >−4</text>
<text x="343.6" y="1040.2" font-size="17.9" text-anchor="middle" fill="#231f20" >−2</text>
<text x="519.4" y="1040.2" font-size="17.9" text-anchor="middle" fill="#231f20" >0</text>
<text x="695.2" y="1040.2" font-size="17.9" text-anchor="middle" fill="#231f20" >2</text>
<text x="871.0" y="1040.2" font-size="17.9" text-anchor="middle" fill="#231f20" >4</text>
<text x="71.8" y="1023.7" font-size="17.9" text-anchor="end" fill="#231f20" >0</text>
<text x="71.8" y="888.6" font-size="17.9" text-anchor="end" fill="#231f20" >2</text>
<text x="71.8" y="753.5" font-size="17.9" text-anchor="end" fill="#231f20" >4</text>
<text x="71.8" y="618.4" font-size="17.9" text-anchor="end" fill="#231f20" >6</text>
<text x="519.6" y="1066.6" font-size="17.9" text-anchor="middle" fill="#231f20" >Pulse delay Δ<tspan font-style="italic">t</tspan> (ps)</text>
<text transform="translate(42.5,815) rotate(-90)" font-size="17.9" text-anchor="middle" fill="#231f20">Spatial spread &lt;Δ<tspan font-style="italic">x</tspan><tspan font-size="12" dy="-6.5">2</tspan><tspan dy="6.5">&gt; (µm</tspan><tspan font-size="12" dy="-6.5">2</tspan><tspan dy="6.5">)</tspan></text>
<text x="251.0" y="601.5" font-size="17.9" text-anchor="middle" fill="#2b8ccb" >Diffusive regime</text>
<text x="797.5" y="601.5" font-size="17.9" text-anchor="middle" fill="#2b8ccb" >Diffusive regime</text>
<text x="521.0" y="601.5" font-size="17.9" text-anchor="middle" fill="#e04a47" >Hydrodynamic window</text>
<text x="14.5" y="591.5" font-size="19.5" text-anchor="start" fill="#111" font-weight="bold">e</text>
<line x1="490.0" y1="899.9" x2="547.7" y2="899.9" stroke="#231f20" stroke-width="1.1"/><path d="M485.5 899.9L493.0 896.7L493.0 903.1Z" fill="#231f20"/><path d="M552.2 899.9L544.7 896.7L544.7 903.1Z" fill="#231f20"/>
<line x1="507.8" y1="931.2" x2="530.6" y2="931.2" stroke="#231f20" stroke-width="1.1"/><path d="M503.3 931.2L510.8 928.0L510.8 934.4Z" fill="#231f20"/><path d="M535.1 931.2L527.6 928.0L527.6 934.4Z" fill="#231f20"/>
<text x="560.0" y="904.0" font-size="17.9" text-anchor="start" fill="#231f20" ><tspan font-style="italic">τ</tspan><tspan font-size="12.5" dy="4.5">ms</tspan></text>
<text x="542.8" y="938.8" font-size="17.9" text-anchor="start" fill="#231f20" >Δ<tspan font-style="italic">t</tspan><tspan font-size="12.5" dy="4.5">IRF</tspan></text>
<g stroke="#231f20" stroke-width="1" fill="none"><line x1="757.3" y1="833" x2="757.3" y2="980.4"/><line x1="747.5" y1="980.4" x2="767" y2="980.4"/><line x1="757.3" y1="988" x2="757.3" y2="1017.4"/><line x1="747.5" y1="1017.4" x2="767" y2="1017.4"/></g>
<path d="M757.3 827.5l3.2 7.5h-6.4zM757.3 982.6l3.2 7.5h-6.4z" fill="#231f20"/>
<rect x="760.8" y="845" width="27" height="119" fill="#fff"/>
<text transform="translate(783,904.5) rotate(-90)" font-size="17.9" text-anchor="middle" fill="#231f20">Hydrodynamic</text>
<text x="764.5" y="1006.0" font-size="17.9" text-anchor="start" fill="#231f20" >&lt;<tspan font-style="italic">x</tspan><tspan font-size="12" dy="-6.5">2</tspan><tspan dy="6.5">&gt;</tspan><tspan font-size="12.5" dy="4.5">focus</tspan></text>
</svg></body></html>
